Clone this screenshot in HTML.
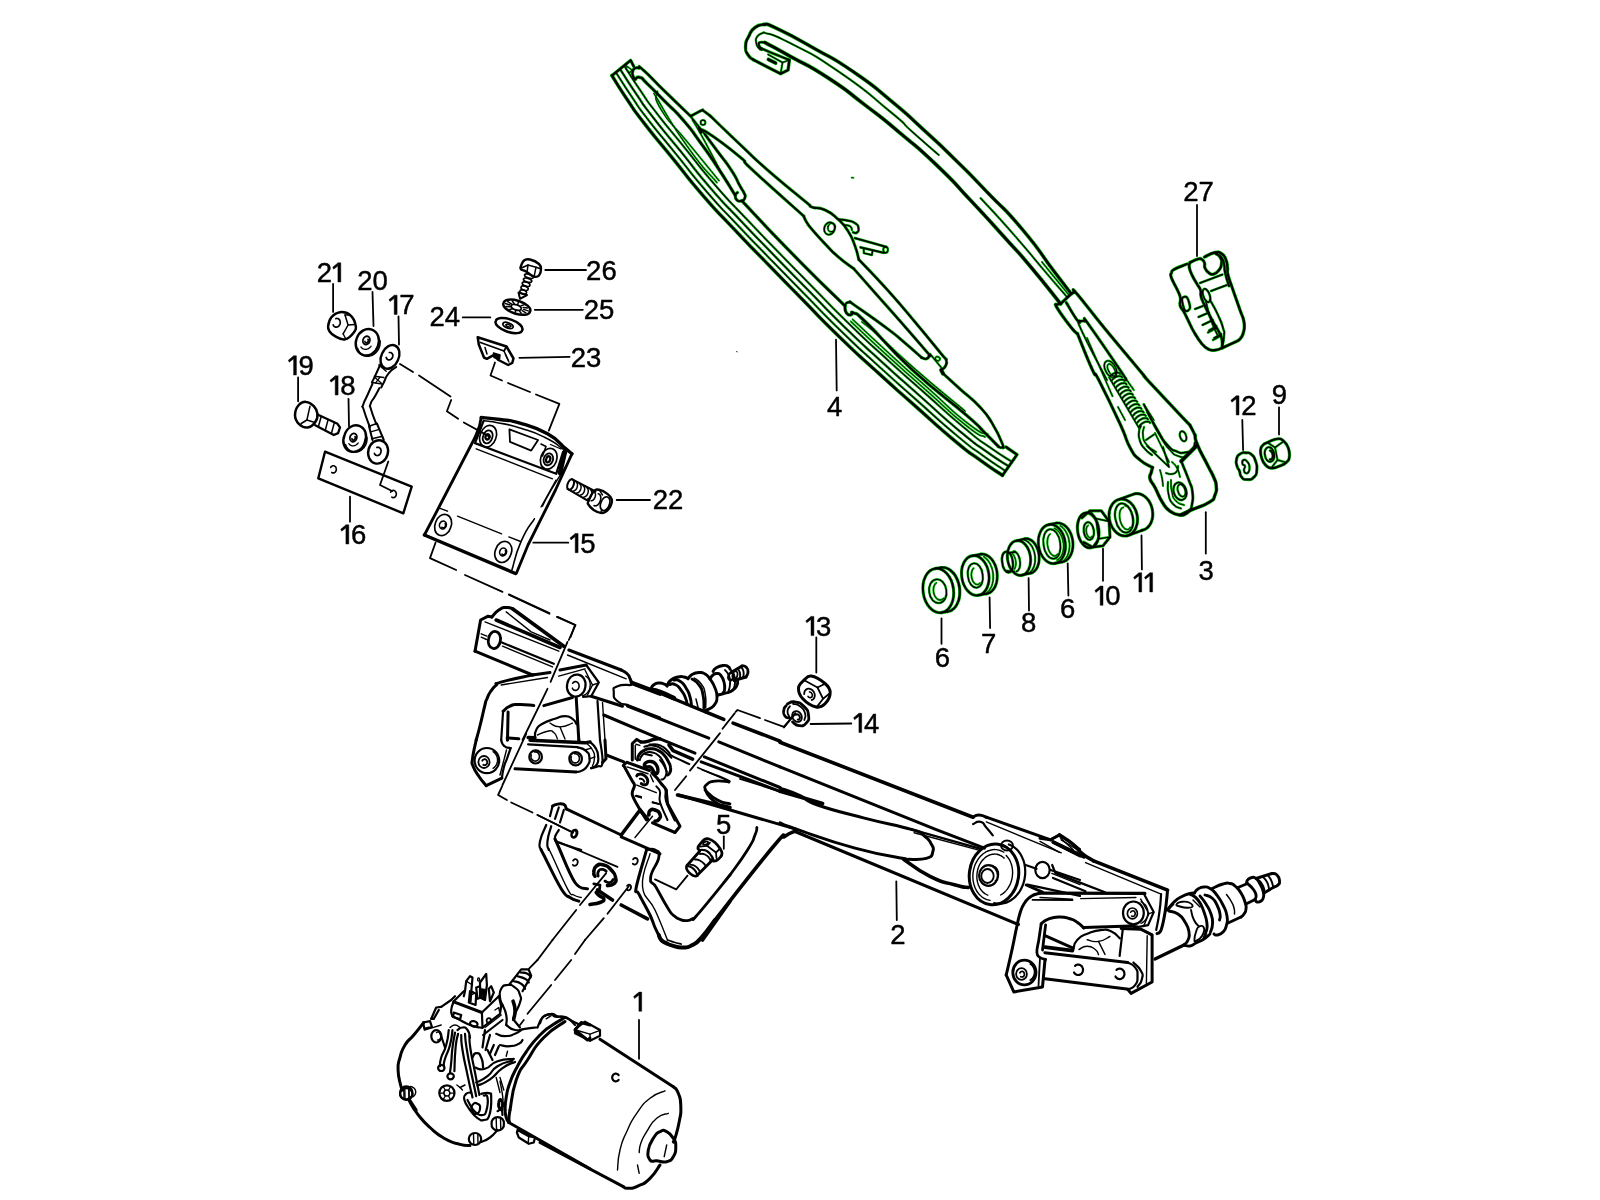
<!DOCTYPE html>
<html><head><meta charset="utf-8"><title>Wiper system</title>
<style>html,body{margin:0;padding:0;background:#fff}svg{display:block}text{font-family:"Liberation Sans",sans-serif;fill:#000}</style>
</head><body>
<svg width="1600" height="1200" viewBox="0 0 1600 1200">
<defs><filter id="noop" x="0" y="0" width="1600" height="1200" filterUnits="userSpaceOnUse"><feOffset dx="0" dy="0"/></filter></defs>
<rect width="1600" height="1200" fill="#fff"/>
<g stroke="#10c010" stroke-linecap="round" stroke-linejoin="round">
<path d="M611.9 75.6 C617.1 83.7 616.8 84.2 627.5 100 C638.2 115.8 629.2 103.8 644 123 C658.8 142.2 652.5 133.5 672 157.5 C691.5 181.5 682.2 171.5 702.5 195 C722.8 218.5 712.6 206.3 733 228 C753.4 249.7 741.4 237 763.8 260 C786.1 283 775.4 272 800 297 C824.6 322 812.5 310.7 837.5 335 C862.5 359.3 849.8 347 875 370 C900.2 393 886.7 380.7 913 404 C939.3 427.3 931.5 421.3 953.8 440 C976.1 458.7 963.8 448.2 980 460 C996.2 471.8 995 470.3 1002.5 475.4" fill="none" stroke-width="3.7"/>
<path d="M611.9 75.6 L630.6 60.3 L633.8 66.5" fill="none" stroke-width="3.4"/>
<path d="M1002.5 475.4 L1017 454.6 L1006 447" fill="none" stroke-width="3.4"/>
<path d="M615.9 72.3 C621.3 80.5 621.1 81.2 631.9 97 C642.6 112.9 633.4 100.7 648.2 119.8 C662.9 138.8 656.7 130.2 676.1 154.2 C695.6 178.1 686.3 168.1 706.5 191.5 C726.8 214.9 716.5 202.8 736.9 224.4 C757.2 246 745.2 233.3 767.6 256.3 C789.9 279.3 779.2 268.3 803.8 293.3 C828.3 318.2 816.3 306.9 841.2 331.2 C866.1 355.5 853.5 343.1 878.6 366.1 C903.7 389 890.3 376.8 916.5 400 C942.7 423.3 935 417.4 957.2 435.9 C979.4 454.5 967 444.1 983.1 455.7 C999.3 467.4 998.1 465.8 1005.6 470.9" fill="none" stroke-width="2.4"/>
<path d="M620 69 C625.4 77.3 625.5 78.2 636.3 94.1 C647.1 109.9 637.7 97.6 652.4 116.5 C667 135.4 660.8 127 680.2 150.8 C699.6 174.7 690.4 164.8 710.5 188.1 C730.7 211.4 720.4 199.2 740.7 220.7 C761 242.2 749.1 229.7 771.4 252.6 C793.6 275.6 783 264.6 807.6 289.6 C832.1 314.5 820 303.2 844.9 327.4 C869.8 351.6 857.1 339.3 882.2 362.2 C907.2 385.1 893.9 372.8 920 396.1 C946.2 419.3 938.5 413.4 960.6 431.9 C982.7 450.3 970.2 439.9 986.2 451.4 C1002.3 462.9 1001.3 461.4 1008.8 466.4" fill="none" stroke-width="2.6"/>
<path d="M624.1 65.6 C629.7 74.1 629.9 75.2 640.7 91 C651.6 106.9 642.1 94.4 656.7 113.2 C671.2 132 665.1 123.6 684.4 147.4 C703.7 171.2 694.5 161.3 714.6 184.5 C734.7 207.7 724.4 195.6 744.6 217 C764.9 238.5 753 225.9 775.2 248.9 C797.5 271.8 786.9 260.9 811.4 285.8 C835.9 310.7 823.9 299.4 848.7 323.5 C873.5 347.7 860.8 335.4 885.8 358.2 C910.8 381 897.5 368.9 923.6 392 C949.7 415.2 942.1 409.4 964.1 427.7 C986 446.1 973.4 435.7 989.4 447.1 C1005.4 458.4 1004.4 456.9 1012 461.8" fill="none" stroke-width="2.4"/>
<path d="M742 201 C759 218.8 758.7 219.5 793 254.5 C827.3 289.5 827.7 288.8 845 306" fill="none" stroke-width="3.5"/>
<path d="M654 93.5 C664.9 110.8 665.8 115.8 686.7 145.5 C707.7 175.2 706.8 170.2 716.9 182.6" fill="none" stroke-width="2.1"/>
<path d="M850.8 321.4 C863.1 332.9 862.9 333.2 887.8 356 C912.8 378.8 899.6 366.6 925.6 389.8 C951.7 412.9 946.2 409.7 966 425.4 C985.8 441.2 978.7 433.1 985 437" fill="none" stroke-width="2.1"/>
<path d="M657.4 91.3 C658.7 97.4 650.7 92.2 661.2 109.7 C671.8 127.2 669.7 120.1 688.9 143.8 C708.2 167.4 709 168.4 719 180.7" fill="none" stroke-width="2.1"/>
<path d="M852.7 319.4 C865 330.9 864.8 331.1 889.7 353.9 C914.6 376.7 901.5 364.6 927.5 387.7 C953.5 410.8 947.7 407.8 967.8 423.3 C987.9 438.8 981.1 430.6 987.8 434.2" fill="none" stroke-width="2.1"/>
<path d="M626.5 66 L632 70 L629.5 73 L626 69Z" fill="none" stroke-width="2.1"/>
<path d="M635 79.4 C636.7 78.8 635.8 76 640 77.5 C644.2 79 639.2 76 647.5 84 C655.8 92 653.1 89.5 665 101.5 C676.9 113.5 671.4 106.5 683.1 120 C694.8 133.5 688.4 126 700 142 C711.6 158 706.3 150.3 718 168 C729.7 185.7 729.3 186 735 195" fill="none" stroke-width="3.5"/>
<path d="M635 79.4 C634.3 78.3 633.8 78.5 633 76 C632.2 73.5 632.1 74.5 632.6 72 C633.1 69.5 632.5 69.9 634.5 68.6 C636.5 67.3 635.7 67.5 638.8 68.1 C641.8 68.7 635 62.7 643.8 70.5 C652.5 78.3 649.6 76.5 665 91.5 C680.4 106.5 681.7 107.6 690 115.6" fill="none" stroke-width="3.3"/>
<path d="M692.5 120 C695.3 124.8 694.5 122.8 701 134.5 C707.5 146.2 704.4 140.7 712 155 C719.6 169.3 719.8 170 723.8 177.5" fill="none" stroke-width="2.2"/>
<path d="M690 115.6 L705 134.4" fill="none" stroke-width="2.7"/>
<path d="M705 134.4 C709.3 140.3 709.2 140.1 718 152 C726.8 163.9 723.9 158.7 731.2 170 C738.6 181.3 735.8 178.5 740 186 C744.2 193.5 742.1 188.7 743.8 192.5 C745.4 196.3 745.8 194.7 745 197.5 C744.2 200.3 744 200 741.2 200.8 C738.5 201.6 738.9 201.8 736.9 200 C734.9 198.2 735.2 198 735.4 195.5 C735.6 193 736.8 193.5 737.5 192.5" fill="none" stroke-width="3.3"/>
<path d="M691 116 C693.1 114.9 699 111.5 701.5 110.5 C704 109.5 701.7 109.7 703.5 110.8 C705.3 111.9 709.2 115.1 710.6 116.2" fill="none" stroke-width="3.2"/>
<path d="M700.6 122.5 A2.4 2.4 0 1 0 705.4 122.5 A2.4 2.4 0 1 0 700.6 122.5 Z" fill="none" stroke-width="2.3"/>
<path d="M710.6 116.2 C718.4 123.7 724.8 130.1 740 144.4 C755.2 158.7 748.8 153.7 767.5 170 C786.2 186.3 798.7 196 810 205.5" fill="none" stroke-width="3.2"/>
<path d="M810 205.5 C810.9 206.1 808.5 206.2 813 207.5 C817.5 208.8 817.6 206.6 825 210 C832.4 213.4 830.6 212.4 837.5 218.8 C844.4 225.1 842.8 222.8 848 231 C853.2 239.2 851.8 237.4 855 246 C858.2 254.6 857.6 255.4 858.8 259.5" fill="none" stroke-width="3.2"/>
<path d="M838.8 219.4 C841.7 219.8 842.1 219.4 847.5 220.6 C852.9 221.8 851.3 220.6 855 223.1 C858.7 225.6 857.9 225 858.5 228.1 C859.1 231.2 858.7 231.1 856.9 232.5 C855.1 233.9 854.4 232.4 853.1 232.3" fill="none" stroke-width="2.9"/>
<path d="M843.8 225 C845.8 225.4 847.3 224.6 850 226.2 C852.7 227.9 851.3 228.8 851.9 230" fill="none" stroke-width="2.5"/>
<path d="M855 238.1 L886.2 246.9" fill="none" stroke-width="2.9"/>
<path d="M884 252.8 L860.5 247.3" fill="none" stroke-width="2.9"/>
<path d="M883.3 249.8 A2.3 3 0 1 0 887.9 249.8 A2.3 3 0 1 0 883.3 249.8 Z" fill="none" stroke-width="2.4"/>
<path d="M863.8 248.5 L863.8 253.1 L871.9 255 L872.5 251" fill="none" stroke-width="2.5"/>
<path d="M858.8 259.5 C866.4 267.6 872.5 273.3 887.5 290 C902.5 306.7 900.7 305 915 322 C929.3 339 932.9 343.6 941.2 353.8 C949.6 363.9 945.1 356.7 946.2 360 C947.4 363.3 946.8 363.3 945.5 366 C944.2 368.7 942.4 368.9 941.2 370" fill="none" stroke-width="3.2"/>
<path d="M699 128 C699.5 129.2 699.1 131.5 701 132.5 C702.9 133.5 695.9 125.4 706.2 131.9 C716.6 138.4 727.7 146.8 740 157 C752.3 167.2 735.5 154.2 752.5 170 C769.5 185.8 790.1 203.9 803.8 216.2" fill="none" stroke-width="3.2"/>
<path d="M803.8 216.2 C804.6 218 803.9 217.9 806.5 222 C809.1 226.1 807 223.5 812.5 230 C818 236.5 817.5 235.9 825 243.8 C832.5 251.6 828.9 248.8 837.5 256.2 C846.1 263.8 848.9 265 853.8 268.8" fill="none" stroke-width="3.2"/>
<path d="M853.8 268.8 C858.8 274.4 860.2 276.1 872.5 290 C884.8 303.9 885.7 304.7 900 321 C914.3 337.3 918.5 342.2 926.2 351.2 C934 360.3 928.9 353 929 355 C929.1 357 928.5 358.1 926.5 358.8 C924.5 359.4 922.8 357.8 921.5 357.5" fill="none" stroke-width="3.2"/>
<path d="M930 353.8 L941.2 367.5" fill="none" stroke-width="2.3"/>
<path d="M935.5 357.5 A2.4 2 30 1 0 939.7 359.9 A2.4 2 30 1 0 935.5 357.5 Z" fill="none" stroke-width="2.2"/>
<path d="M941.2 370 L943 373.5" fill="none" stroke-width="4.4"/>
<path d="M845 306 C845.4 305.2 845 303.9 846.5 303 C848 302.1 848.2 301.8 850.5 302.5 C852.8 303.2 845.1 298.5 855 305.5 C864.9 312.5 874.2 318.8 887.5 328.8 C900.8 338.8 895.9 335.3 905 343 C914.1 350.7 917.1 353.6 921.5 357.5" fill="none" stroke-width="3.2"/>
<path d="M845 306 C845.1 307.3 844.7 308.7 845.5 311 C846.3 313.3 846.4 313.6 848 314.5 C849.6 315.4 850 314.9 851.5 314.5 C853 314.1 849.5 310.5 853.8 313 C858 315.5 851.8 308.6 867.5 323.8 C883.2 338.9 886.2 345.7 912.5 370 C938.8 394.3 946.9 398.2 966.2 415 C985.6 431.8 976.5 424.6 985 433 C993.5 441.4 994.8 442.9 998.3 446.5" fill="none" stroke-width="3.5"/>
<path d="M862 322 C868 327 862.3 321.3 880 337 C897.7 352.7 886.7 344.3 915 369 C943.3 393.7 948.3 397 965 411" fill="none" stroke-width="2.2"/>
<path d="M943 373.5 C947.5 377.6 950.2 380.1 960 389 C969.8 397.9 971.1 397.6 979.6 406.7 C988.1 415.8 985.9 413.1 992 423 C998.1 432.9 1000 437.5 1002.5 444 C1005 450.5 1002.6 446.8 1001.5 447.5 C1000.4 448.2 999.2 446.8 998.3 446.5" fill="none" stroke-width="3.2"/>
<path d="M824.6 226.7 A5.2 6.2 20 1 0 834.4 230.3 A5.2 6.2 20 1 0 824.6 226.7 Z" fill="none" stroke-width="2.5"/>
<path d="M828.1 226.3 A3.6 4.4 20 1 0 834.9 228.7 A3.6 4.4 20 1 0 828.1 226.3 Z" fill="none" stroke-width="2.2"/>
<path d="M851.6 177.6 L853.4 177.8" fill="none" stroke-width="1.9"/>
<path d="M763.8 24.4 C768.3 25.8 760.4 20.6 777.5 28.8 C794.6 36.9 790 34.6 815 48.8 C840 62.9 827.5 54.2 852.5 71.2 C877.5 88.3 866.2 80.4 890 100 C913.8 119.6 902.1 110.2 923.8 130 C945.4 149.8 933.8 138.7 955 159.5 C976.2 180.3 965.2 169.3 987.5 192.5 C1009.8 215.7 999.9 202.8 1022 229 C1044.1 255.2 1037.3 249.4 1053.8 271 C1070.2 292.6 1065.4 286.2 1071.2 293.8" fill="none" stroke-width="3.8"/>
<path d="M765 42.5 C773.3 47.1 769.2 44.6 790 56.2 C810.8 67.9 802.5 61.2 827.5 77.5 C852.5 93.8 840.8 86.5 865 105 C889.2 123.5 876 112.8 900 133 C924 153.2 913.2 142.8 937 165.5 C960.8 188.2 948.2 176.5 971.2 201 C994.2 225.5 986.4 217.3 1006 239 C1025.6 260.7 1011.8 244.4 1030 266 C1048.2 287.6 1050.4 291.2 1060.6 303.8" fill="none" stroke-width="4"/>
<path d="M763.8 32.5 C772.5 36 764.6 29.8 790 43.1 C815.4 56.4 806.7 49.7 840 72.5 C873.3 95.3 865.8 91.7 890 111.5 C914.2 131.3 896.2 117.5 912.5 132 C928.8 146.5 930 147.3 938.8 155" fill="none" stroke-width="2.3"/>
<path d="M980.6 198.1 C992.1 210.7 994 212 1015 236 C1036 260 1026.5 249.7 1043.8 270 C1061 290.3 1059.2 287.9 1066.9 296.9" fill="none" stroke-width="2.3"/>
<path d="M1042 262 C1046.3 267.3 1046.2 267.2 1055 278 C1063.8 288.8 1064 289 1068.5 294.5" fill="none" stroke-width="2.2"/>
<path d="M763.8 24.4 C760.8 25.4 760 23.6 755 27.5 C750 31.4 751.9 30 748.8 36.2 C745.6 42.5 745.8 40 745.6 46.2 C745.4 52.5 745.4 50.4 748.1 55 C750.8 59.6 751.9 58.3 753.8 60" fill="none" stroke-width="3.5"/>
<path d="M753.8 60 L780.6 73.8 L788.1 70 L789.4 60" fill="none" stroke-width="3.5"/>
<path d="M780.6 73.8 L782.5 62.5" fill="none" stroke-width="2.3"/>
<path d="M768.1 54.4 L782.5 62.5 L789.4 60" fill="none" stroke-width="2.3"/>
<path d="M763.8 32.5 C761.7 33.8 760 32.9 757.5 36.2 C755 39.6 755.8 38.5 756.2 42.5 C756.7 46.5 756.9 45.6 758.8 48.1 C760.6 50.6 760.9 49.4 761.9 50" fill="none" stroke-width="2.4"/>
<path d="M765 42.5 C763.9 42.5 760.6 41.7 759.5 42.5 C758.4 43.3 758.4 45 759.5 46.5 C760.6 48 759 47.3 765 50 C771 52.7 784.5 58 789.4 60" fill="none" stroke-width="3.1"/>
<path d="M768.5 59.5 L775.5 63" fill="none" stroke-width="4.1"/>
<path d="M1071.2 293.8 L1060.6 303.8" fill="none" stroke-width="3.5"/>
<path d="M1071.2 293.8 C1071.9 293.5 1072.7 292.5 1074 292.5 C1075.3 292.5 1069.7 285.3 1076.9 293.8 C1084.1 302.2 1089.7 310.1 1105 328.8 C1120.3 347.4 1132.6 361.8 1142.5 373.8 C1152.4 385.7 1137.6 369.2 1147.5 380 C1157.4 390.8 1175.1 409.4 1185 420 C1194.9 430.6 1187.7 422 1190 425.5 C1192.3 429 1193.8 432.8 1195 435" fill="none" stroke-width="3.5"/>
<path d="M1060.6 303.8 C1059.9 303.9 1058.4 303.6 1057.5 304.5 C1056.6 305.4 1053.7 302.1 1056.9 307.5 C1060.1 312.9 1066.4 321.4 1071.2 327.5 C1076.1 333.6 1076 332.3 1077.5 333.8" fill="none" stroke-width="3.5"/>
<path d="M1077.5 333.8 C1081.5 343.4 1086.8 357.7 1092.5 370 C1098.2 382.3 1091.4 365.7 1098.8 380 C1106.1 394.3 1111.7 405.8 1120 423.8 C1128.3 441.8 1124.7 437.8 1130 447.5 C1135.3 457.2 1134 454.7 1140 460 C1146 465.3 1149.2 465.5 1152.5 467.5" fill="none" stroke-width="3.5"/>
<path d="M1066.2 302.5 C1068.9 306.8 1072.6 313.8 1076.2 318.8 C1079.9 323.7 1077.7 320.3 1080 321 C1082.3 321.7 1082.6 320.2 1085 321.2 C1087.4 322.3 1079.7 312 1089 325 C1098.3 338 1110.1 355.3 1120 370 C1129.9 384.7 1124.4 377.3 1126 380" fill="none" stroke-width="3.3"/>
<path d="M1080 322.5 C1080.8 325.8 1073.5 313.3 1082.5 332.5 C1091.5 351.7 1098.8 364.2 1107 380" fill="none" stroke-width="2.4"/>
<path d="M1087 338 L1112.5 396.2" fill="none" stroke-width="2.2"/>
<path d="M1118 407 L1125 420" fill="none" stroke-width="2.2"/>
<path d="M1125 377.5 L1133.8 390" fill="none" stroke-width="2.2"/>
<path d="M1143.8 404.4 L1153.8 420" fill="none" stroke-width="2.2"/>
<path d="M1105.9 371.4 A5.2 8.3 -28 1 0 1115.1 366.6 A5.2 8.3 -28 1 0 1105.9 371.4 Z" fill="none" stroke-width="2.4"/>
<path d="M1108.9 371.4 A3 5.6 -28 1 0 1114.1 368.6 A3 5.6 -28 1 0 1108.9 371.4 Z" fill="none" stroke-width="2.2"/>
<path d="M1109.3 377.2 C1110.5 376.1 1110.2 375.3 1113 373.8 C1115.8 372.3 1115.3 372.6 1117.7 372.6 C1120.1 372.6 1119.3 373.4 1120.1 373.8" fill="none" stroke-width="2.6"/>
<path d="M1111.4 380.7 C1112.7 379.6 1112.3 378.8 1115.1 377.3 C1117.9 375.8 1117.5 376.1 1119.8 376.1 C1122.2 376.1 1121.4 376.9 1122.2 377.3" fill="none" stroke-width="2.6"/>
<path d="M1113.6 384.2 C1114.8 383.1 1114.5 382.3 1117.3 380.8 C1120.1 379.3 1119.6 379.6 1122 379.6 C1124.4 379.6 1123.6 380.4 1124.4 380.8" fill="none" stroke-width="2.6"/>
<path d="M1115.7 387.7 C1117 386.6 1116.6 385.8 1119.4 384.3 C1122.2 382.8 1121.8 383.1 1124.1 383.1 C1126.5 383.1 1125.7 383.9 1126.5 384.3" fill="none" stroke-width="2.6"/>
<path d="M1117.9 391.2 C1119.1 390.1 1118.8 389.3 1121.6 387.8 C1124.4 386.3 1123.9 386.6 1126.3 386.6 C1128.6 386.6 1127.9 387.4 1128.7 387.8" fill="none" stroke-width="2.6"/>
<path d="M1120 394.7 C1121.2 393.6 1120.9 392.8 1123.7 391.3 C1126.5 389.8 1126 390.1 1128.4 390.1 C1130.8 390.1 1130 390.9 1130.8 391.3" fill="none" stroke-width="2.6"/>
<path d="M1122.2 398.2 C1123.4 397.1 1123.1 396.3 1125.9 394.8 C1128.7 393.3 1128.2 393.6 1130.6 393.6 C1132.9 393.6 1132.2 394.4 1133 394.8" fill="none" stroke-width="2.6"/>
<path d="M1124.3 401.7 C1125.5 400.6 1125.2 399.8 1128 398.3 C1130.8 396.8 1130.3 397.1 1132.7 397.1 C1135.1 397.1 1134.3 397.9 1135.1 398.3" fill="none" stroke-width="2.6"/>
<path d="M1126.4 405.2 C1127.7 404.1 1127.3 403.3 1130.1 401.8 C1132.9 400.3 1132.5 400.6 1134.8 400.6 C1137.2 400.6 1136.4 401.4 1137.2 401.8" fill="none" stroke-width="2.6"/>
<path d="M1128.6 408.7 C1129.8 407.6 1129.5 406.8 1132.3 405.3 C1135.1 403.8 1134.6 404.1 1137 404.1 C1139.4 404.1 1138.6 404.9 1139.4 405.3" fill="none" stroke-width="2.6"/>
<path d="M1130.7 412.2 C1132 411.1 1131.6 410.3 1134.4 408.8 C1137.2 407.3 1136.8 407.6 1139.1 407.6 C1141.5 407.6 1140.7 408.4 1141.5 408.8" fill="none" stroke-width="2.6"/>
<path d="M1132.9 415.7 C1134.1 414.6 1133.8 413.8 1136.6 412.3 C1139.4 410.8 1138.9 411.1 1141.3 411.1 C1143.6 411.1 1142.9 411.9 1143.7 412.3" fill="none" stroke-width="2.6"/>
<path d="M1135 419.2 C1136.2 418.1 1135.9 417.3 1138.7 415.8 C1141.5 414.3 1141 414.6 1143.4 414.6 C1145.8 414.6 1145 415.4 1145.8 415.8" fill="none" stroke-width="2.6"/>
<path d="M1137.2 422.7 C1138.4 421.6 1138.1 420.8 1140.9 419.3 C1143.7 417.8 1143.2 418.1 1145.6 418.1 C1147.9 418.1 1147.2 418.9 1148 419.3" fill="none" stroke-width="2.6"/>
<path d="M1139.3 426.2 C1140.5 425.1 1140.2 424.3 1143 422.8 C1145.8 421.3 1145.3 421.6 1147.7 421.6 C1150.1 421.6 1149.3 422.4 1150.1 422.8" fill="none" stroke-width="2.6"/>
<path d="M1109.5 378 L1139 428" fill="none" stroke-width="2.4"/>
<path d="M1195 435 C1195.8 438 1193.8 436 1197.5 445 C1201.2 454 1202.6 455.2 1207.5 465 C1212.4 474.8 1211.1 471.1 1213.8 477.5 C1216.4 483.9 1215.9 481 1216.2 486.2 C1216.6 491.5 1217.2 490.1 1215 495 C1212.8 499.9 1215.9 498 1208.8 502.5 C1201.6 507 1199.9 506.2 1191.2 510 C1182.6 513.8 1183.4 513.5 1180 515" fill="none" stroke-width="3.7"/>
<path d="M1152.5 467.5 C1152.2 468.8 1151.9 469.5 1151.2 472.5 C1150.6 475.5 1149 474.8 1150 478.8 C1151 482.8 1151.7 481.2 1155 487.5 C1158.3 493.8 1158.5 496.2 1162.5 502.5 C1166.5 508.8 1165.3 507.9 1170 511.2 C1174.7 514.6 1175.7 514.4 1180 515 C1184.3 515.6 1183.3 514.8 1186 513.5 C1188.7 512.2 1188.9 510.9 1190 510" fill="none" stroke-width="3.7"/>
<path d="M1181.2 461.2 C1183.8 467.5 1185 469.6 1188.8 480 C1192.5 490.4 1191.5 484.2 1192.5 492.5 C1193.5 500.8 1192.7 499.2 1191.9 505 C1191.1 510.8 1190.6 508.3 1190 510" fill="none" stroke-width="3.1"/>
<path d="M1196.2 446.2 L1181.2 461.2" fill="none" stroke-width="4.5"/>
<path d="M1143.8 404.4 C1148.3 412.9 1149.6 416.5 1157.5 430 C1165.4 443.5 1161.2 437.9 1167.5 445 C1173.8 452.1 1170.4 448.8 1176.2 451.2 C1182.1 453.8 1179.6 453.3 1185 452.5 C1190.4 451.7 1189.2 452.1 1192.5 448.8 C1195.8 445.4 1194.2 444.6 1195 442.5" fill="none" stroke-width="2.9"/>
<path d="M1147 412 C1151.3 420 1152.3 423.3 1160 436 C1167.7 448.7 1164 443.3 1170 450 C1176 456.7 1172.7 453.7 1178 456 C1183.3 458.3 1183.3 456.7 1186 457" fill="none" stroke-width="2.3"/>
<path d="M1180.3 437.3 A3 4.8 -20 1 0 1185.9 435.2 A3 4.8 -20 1 0 1180.3 437.3 Z" fill="none" stroke-width="2.5"/>
<path d="M1141 426 C1140.3 428 1139.3 427 1139 432 C1138.7 437 1138 435.3 1140 441 C1142 446.7 1141 444.3 1145 449 C1149 453.7 1149.7 453 1152 455" fill="none" stroke-width="2.5"/>
<path d="M1144 427 C1143.7 430 1142 430 1143 436 C1144 442 1142.7 439.7 1147 445 C1151.3 450.3 1153 449.7 1156 452" fill="none" stroke-width="2.3"/>
<path d="M1146 440 L1154 434.5" fill="none" stroke-width="2.5"/>
<path d="M1147 446 L1169 467 L1163 447" fill="none" stroke-width="2.4"/>
<path d="M1155 433 L1169 462" fill="none" stroke-width="2.2"/>
<path d="M1174 493.2 A6.3 9 -18 1 0 1186 489.3 A6.3 9 -18 1 0 1174 493.2 Z" fill="none" stroke-width="2.7"/>
<path d="M1178.1 491.6 A3.6 5.6 -18 1 0 1184.9 489.4 A3.6 5.6 -18 1 0 1178.1 491.6 Z" fill="none" stroke-width="2.4"/>
<path d="M1168 482 C1168.2 486 1166.8 486.7 1168.5 494 C1170.2 501.3 1168.8 499.2 1173 504 C1177.2 508.8 1178.3 507 1181 508.5" fill="none" stroke-width="2.4"/>
<path d="M1171 480 C1171.3 484 1170.3 485 1172 492 C1173.7 499 1172 496.7 1176 501 C1180 505.3 1181.3 503.7 1184 505" fill="none" stroke-width="2.2"/>
<path d="M1166 473 C1168 473.3 1168.3 474.7 1172 474 C1175.7 473.3 1175 473.7 1177 471 C1179 468.3 1177.7 467.7 1178 466" fill="none" stroke-width="2.4"/>
<path d="M1160 470 C1160.7 472.7 1161 472.7 1162 478 C1163 483.3 1162.7 483.3 1163 486" fill="none" stroke-width="2.2"/>
<path d="M1172 462 C1173.7 464 1174.3 463 1177 468 C1179.7 473 1179 474 1180 477" fill="none" stroke-width="2.2"/>
<path d="M923.2 592.7 A15.2 22.2 -8 1 0 953.4 588.5 A15.2 22.2 -8 1 0 923.2 592.7 Z" fill="none" stroke-width="3.2"/>
<path d="M941.4 567.6 C942.1 567.6 942.1 567.5 943.4 567.5 C944.7 567.6 944.1 567.5 945.4 567.8 C946.7 568.1 946.1 567.9 947.4 568.5 C948.7 569 948.1 568.7 949.4 569.5 C950.6 570.3 950 569.9 951.2 570.9 C952.4 571.9 951.8 571.3 953 572.6 C954.1 573.8 953.6 573.1 954.6 574.5 C955.6 575.9 955.1 575.2 956 576.8 C956.9 578.3 956.5 577.5 957.2 579.2 C958 580.9 957.6 580.1 958.2 581.9 C958.8 583.7 958.6 582.8 959 584.6 C959.5 586.5 959.3 585.6 959.6 587.5 C959.8 589.4 959.7 588.5 959.8 590.4 C959.9 592.3 959.9 591.4 959.8 593.2 C959.8 595.1 959.8 594.2 959.6 596.1 C959.3 597.9 959.5 597 959.1 598.8 C958.7 600.5 958.9 599.7 958.3 601.3 C957.7 602.9 958.1 602.2 957.3 603.6 C956.6 605.1 957 604.4 956.1 605.8 C955.2 607.1 955.7 606.5 954.7 607.6 C953.7 608.7 954.2 608.2 953.1 609.1 C952 610 952.6 609.6 951.4 610.3 C950.2 611 950.8 610.7 949.5 611.1 C948.3 611.6 948.2 611.4 947.6 611.6" fill="none" stroke-width="3.2"/>
<path d="M935.2 568.6 L941.4 567.6" fill="none" stroke-width="3.2"/>
<path d="M941.4 612.6 L947.6 611.6" fill="none" stroke-width="3.2"/>
<path d="M929.3 592.4 A8.6 11.2 -8 1 0 946.3 590 A8.6 11.2 -8 1 0 929.3 592.4 Z" fill="none" stroke-width="2.5"/>
<path d="M943.6 598.3 C943.3 598.5 943.4 598.6 942.9 598.9 C942.4 599.3 942.7 599.2 942.2 599.4 C941.7 599.7 941.9 599.6 941.4 599.8 C940.9 599.9 941.1 599.9 940.6 599.9 C940 600 940.3 600 939.7 599.9 C939.2 599.9 939.5 599.9 938.9 599.8 C938.4 599.6 938.6 599.7 938.1 599.4 C937.5 599.1 937.8 599.3 937.3 598.9 C936.8 598.5 937 598.7 936.5 598.3 C936 597.8 936.3 598 935.8 597.5 C935.4 596.9 935.6 597.2 935.2 596.5 C934.8 595.9 935 596.2 934.6 595.5 C934.3 594.8 934.5 595.2 934.2 594.4 C933.9 593.7 934 594 933.8 593.2 C933.6 592.4 933.7 592.8 933.6 592 C933.5 591.2 933.5 591.6 933.5 590.8 C933.4 590 933.4 590.4 933.4 589.6 C933.5 588.8 933.4 589.1 933.5 588.4 C933.6 587.6 933.6 588 933.7 587.2 C933.9 586.5 933.8 586.8 934.1 586.1 C934.3 585.4 934.2 585.8 934.5 585.1 C934.8 584.5 934.6 584.8 935 584.3 C935.4 583.7 935.2 584 935.6 583.5 C936 583.1 936.1 583.1 936.3 582.9" fill="none" stroke-width="2.2"/>
<path d="M948.9 569.9 C949.3 570.2 949.3 570.2 950.2 570.9 C951.1 571.6 950.7 571.2 951.5 572 C952.3 572.8 951.9 572.4 952.7 573.3 C953.5 574.2 953.2 573.7 953.9 574.7 C954.6 575.7 954.3 575.2 955 576.3 C955.6 577.4 955.3 576.8 955.9 578 C956.5 579.1 956.2 578.5 956.8 579.8 C957.3 581 957.1 580.4 957.5 581.7 C958 583 957.8 582.3 958.2 583.6 C958.5 585 958.4 584.3 958.7 585.7 C958.9 587 958.8 586.3 959 587.7 C959.2 589.1 959.2 588.4 959.3 589.8 C959.4 591.2 959.3 590.5 959.4 591.9 C959.4 593.3 959.4 592.6 959.3 594 C959.3 595.3 959.3 594.7 959.1 596 C959 597.3 959.1 596.7 958.8 598 C958.6 599.3 958.7 598.6 958.4 599.9 C958.1 601.1 958.2 600.5 957.8 601.7 C957.4 602.9 957.6 602.3 957.1 603.4 C956.6 604.5 956.9 604 956.3 605 C955.7 606 956 605.6 955.4 606.5 C954.7 607.4 955.1 607 954.4 607.8 C953.7 608.6 954 608.2 953.3 608.9 C952.5 609.7 952.5 609.6 952.1 609.9" fill="none" stroke-width="2.2"/>
<path d="M961.8 577.4 A13.6 20 -8 1 0 988.8 573.6 A13.6 20 -8 1 0 961.8 577.4 Z" fill="none" stroke-width="3.2"/>
<path d="M980.7 554.2 C981.3 554.2 981.3 554.1 982.5 554.1 C983.7 554.2 983.1 554.1 984.3 554.4 C985.5 554.7 984.9 554.5 986.1 555 C987.3 555.5 986.7 555.2 987.8 555.9 C989 556.6 988.4 556.2 989.5 557.1 C990.6 558.1 990.1 557.6 991.1 558.7 C992.1 559.8 991.6 559.2 992.5 560.4 C993.4 561.7 993 561 993.8 562.5 C994.6 563.9 994.2 563.1 994.9 564.7 C995.5 566.2 995.3 565.4 995.8 567 C996.3 568.7 996.1 567.9 996.5 569.5 C996.9 571.2 996.7 570.4 997 572.1 C997.2 573.8 997.1 573 997.2 574.7 C997.3 576.4 997.3 575.6 997.2 577.3 C997.2 579 997.2 578.2 997 579.8 C996.8 581.5 996.9 580.7 996.6 582.3 C996.2 583.8 996.4 583.1 995.9 584.6 C995.4 586 995.6 585.3 995 586.7 C994.3 588 994.7 587.4 993.9 588.6 C993.1 589.7 993.5 589.2 992.6 590.2 C991.8 591.2 992.2 590.8 991.2 591.6 C990.2 592.4 990.7 592 989.7 592.6 C988.6 593.2 989.1 593 988 593.4 C986.9 593.8 986.9 593.7 986.3 593.8" fill="none" stroke-width="3.2"/>
<path d="M972.5 555.7 L980.7 554.2" fill="none" stroke-width="3.2"/>
<path d="M978.1 595.3 L986.3 593.8" fill="none" stroke-width="3.2"/>
<path d="M968 576.5 A7.4 11.2 -8 1 0 982.6 574.5 A7.4 11.2 -8 1 0 968 576.5 Z" fill="none" stroke-width="2.5"/>
<path d="M980 583 C979.8 583.2 979.9 583.3 979.5 583.6 C979.1 584 979.3 583.8 978.9 584.1 C978.5 584.3 978.7 584.2 978.2 584.4 C977.8 584.5 978 584.5 977.6 584.5 C977.1 584.6 977.3 584.6 976.9 584.5 C976.4 584.4 976.6 584.5 976.2 584.3 C975.7 584.2 975.9 584.3 975.5 584 C975 583.7 975.2 583.9 974.8 583.5 C974.3 583.1 974.5 583.3 974.1 582.9 C973.7 582.4 973.9 582.6 973.5 582.1 C973.2 581.5 973.3 581.8 973 581.2 C972.7 580.6 972.8 580.9 972.5 580.2 C972.2 579.5 972.4 579.9 972.1 579.2 C971.9 578.4 972 578.8 971.8 578 C971.6 577.3 971.7 577.7 971.6 576.9 C971.5 576.1 971.5 576.5 971.4 575.7 C971.4 574.9 971.4 575.3 971.4 574.5 C971.4 573.8 971.4 574.1 971.5 573.4 C971.5 572.6 971.5 573 971.6 572.3 C971.8 571.6 971.7 571.9 971.9 571.3 C972.1 570.6 972 570.9 972.2 570.3 C972.5 569.7 972.3 570 972.6 569.5 C972.9 569 972.8 569.2 973.1 568.8 C973.5 568.4 973.5 568.4 973.7 568.2" fill="none" stroke-width="2.2"/>
<path d="M983.8 556.7 C984.2 557 984.2 556.9 985 557.6 C985.8 558.2 985.4 557.9 986.2 558.6 C987 559.3 986.6 558.9 987.3 559.7 C988 560.6 987.7 560.1 988.3 561 C989 561.9 988.7 561.5 989.3 562.4 C989.9 563.4 989.6 562.9 990.2 564 C990.7 565 990.5 564.5 990.9 565.6 C991.4 566.7 991.2 566.1 991.6 567.3 C992 568.5 991.8 567.9 992.2 569.1 C992.5 570.3 992.4 569.7 992.6 570.9 C992.9 572.1 992.8 571.5 992.9 572.8 C993.1 574 993.1 573.4 993.2 574.6 C993.3 575.9 993.2 575.3 993.2 576.5 C993.3 577.8 993.3 577.2 993.2 578.4 C993.2 579.6 993.2 579 993.1 580.2 C992.9 581.4 993 580.8 992.8 582 C992.6 583.2 992.7 582.6 992.4 583.7 C992.1 584.8 992.3 584.3 991.9 585.4 C991.5 586.4 991.7 585.9 991.3 586.9 C990.8 587.9 991 587.4 990.5 588.3 C990 589.3 990.3 588.8 989.7 589.7 C989.1 590.5 989.4 590.1 988.8 590.8 C988.2 591.6 988.5 591.2 987.8 591.9 C987.1 592.5 987.1 592.5 986.7 592.8" fill="none" stroke-width="2.2"/>
<path d="M1038.6 545.9 A13.4 19.6 -8 1 0 1065.2 542.1 A13.4 19.6 -8 1 0 1038.6 545.9 Z" fill="none" stroke-width="3.2"/>
<path d="M1056.7 523.1 C1057.3 523.1 1057.3 523 1058.4 523 C1059.6 523.1 1059 523 1060.2 523.3 C1061.4 523.5 1060.8 523.4 1062 523.9 C1063.1 524.4 1062.6 524.1 1063.7 524.8 C1064.8 525.5 1064.3 525.1 1065.3 526 C1066.4 526.9 1065.9 526.4 1066.9 527.5 C1067.8 528.5 1067.4 528 1068.3 529.2 C1069.2 530.4 1068.7 529.8 1069.5 531.2 C1070.3 532.6 1070 531.9 1070.6 533.3 C1071.3 534.8 1071 534.1 1071.5 535.7 C1072 537.3 1071.8 536.5 1072.2 538.1 C1072.6 539.8 1072.4 538.9 1072.7 540.6 C1072.9 542.3 1072.8 541.5 1072.9 543.2 C1073 544.9 1073 544 1072.9 545.7 C1072.9 547.4 1072.9 546.6 1072.7 548.2 C1072.5 549.8 1072.6 549 1072.3 550.6 C1071.9 552.1 1072.1 551.4 1071.6 552.8 C1071.1 554.3 1071.4 553.6 1070.7 554.9 C1070.1 556.2 1070.4 555.6 1069.6 556.8 C1068.9 557.9 1069.3 557.4 1068.4 558.4 C1067.5 559.4 1068 558.9 1067 559.7 C1066 560.5 1066.5 560.2 1065.5 560.8 C1064.4 561.4 1065 561.1 1063.8 561.5 C1062.7 561.9 1062.7 561.8 1062.1 561.9" fill="none" stroke-width="3.2"/>
<path d="M1049.2 524.6 L1056.7 523.1" fill="none" stroke-width="3.2"/>
<path d="M1054.6 563.4 L1062.1 561.9" fill="none" stroke-width="3.2"/>
<path d="M1043.6 545.2 A8.4 14 -8 1 0 1060.2 542.8 A8.4 14 -8 1 0 1043.6 545.2 Z" fill="none" stroke-width="2.5"/>
<path d="M1057.9 553.9 C1057.6 554.2 1057.7 554.3 1057.2 554.7 C1056.8 555.2 1057 555 1056.5 555.3 C1056 555.7 1056.3 555.5 1055.7 555.7 C1055.2 555.9 1055.5 555.9 1054.9 555.9 C1054.4 556 1054.7 556 1054.1 555.9 C1053.5 555.8 1053.8 555.9 1053.2 555.6 C1052.7 555.4 1053 555.5 1052.4 555.1 C1051.8 554.8 1052.1 555 1051.6 554.5 C1051 554 1051.3 554.2 1050.8 553.6 C1050.3 553 1050.5 553.3 1050.1 552.6 C1049.6 551.8 1049.8 552.2 1049.4 551.4 C1049 550.6 1049.2 551 1048.8 550.1 C1048.4 549.2 1048.6 549.6 1048.3 548.6 C1048 547.7 1048.1 548.2 1047.9 547.1 C1047.7 546.1 1047.8 546.6 1047.6 545.6 C1047.4 544.5 1047.5 545.1 1047.4 544 C1047.3 543 1047.4 543.5 1047.3 542.4 C1047.3 541.4 1047.3 541.9 1047.4 540.9 C1047.5 539.9 1047.4 540.4 1047.6 539.5 C1047.7 538.5 1047.6 539 1047.8 538.1 C1048.1 537.2 1047.9 537.6 1048.2 536.9 C1048.5 536.1 1048.4 536.4 1048.7 535.8 C1049.1 535.1 1048.9 535.4 1049.3 534.8 C1049.7 534.3 1049.7 534.3 1050 534.1" fill="none" stroke-width="2.2"/>
<path d="M1054.4 528.3 C1054.8 528.5 1054.8 528.5 1055.5 528.9 C1056.3 529.3 1055.9 529.1 1056.7 529.6 C1057.4 530.2 1057 529.9 1057.7 530.5 C1058.4 531.2 1058.1 530.8 1058.7 531.6 C1059.4 532.4 1059.1 532 1059.7 532.8 C1060.3 533.7 1060 533.2 1060.5 534.2 C1061.1 535.1 1060.8 534.6 1061.3 535.7 C1061.8 536.7 1061.6 536.2 1062 537.2 C1062.4 538.3 1062.2 537.8 1062.6 538.9 C1062.9 540 1062.7 539.5 1063 540.6 C1063.3 541.8 1063.2 541.2 1063.3 542.4 C1063.5 543.6 1063.5 543 1063.6 544.2 C1063.7 545.4 1063.6 544.8 1063.6 546 C1063.7 547.1 1063.7 546.6 1063.6 547.7 C1063.5 548.9 1063.6 548.3 1063.4 549.4 C1063.3 550.6 1063.4 550 1063.2 551.1 C1062.9 552.2 1063.1 551.7 1062.7 552.7 C1062.4 553.7 1062.6 553.2 1062.2 554.2 C1061.8 555.1 1062 554.7 1061.6 555.5 C1061.1 556.4 1061.4 556 1060.8 556.7 C1060.3 557.5 1060.6 557.2 1060 557.8 C1059.4 558.5 1059.7 558.2 1059.1 558.7 C1058.5 559.3 1058.8 559 1058.1 559.5 C1057.4 559.9 1057.4 559.9 1057.1 560" fill="none" stroke-width="2.2"/>
<path d="M1060.3 525.8 C1060.7 526 1060.7 526 1061.5 526.6 C1062.2 527.2 1061.9 526.9 1062.6 527.6 C1063.4 528.3 1063 527.9 1063.7 528.7 C1064.4 529.5 1064.1 529.1 1064.7 530 C1065.4 530.9 1065.1 530.4 1065.7 531.4 C1066.3 532.3 1066 531.9 1066.5 532.9 C1067 533.9 1066.8 533.4 1067.3 534.5 C1067.7 535.6 1067.5 535 1067.9 536.1 C1068.3 537.3 1068.2 536.7 1068.5 537.9 C1068.8 539.1 1068.7 538.5 1068.9 539.7 C1069.2 540.9 1069.1 540.3 1069.2 541.5 C1069.4 542.7 1069.4 542.1 1069.5 543.3 C1069.6 544.6 1069.5 544 1069.5 545.2 C1069.6 546.4 1069.6 545.8 1069.5 547 C1069.4 548.2 1069.5 547.6 1069.4 548.8 C1069.2 550 1069.3 549.4 1069.1 550.5 C1068.9 551.7 1069 551.1 1068.7 552.2 C1068.4 553.3 1068.6 552.8 1068.2 553.8 C1067.8 554.9 1068 554.4 1067.6 555.4 C1067.1 556.3 1067.4 555.9 1066.9 556.8 C1066.3 557.7 1066.6 557.2 1066 558 C1065.5 558.9 1065.8 558.5 1065.1 559.2 C1064.5 559.9 1064.8 559.6 1064.2 560.2 C1063.5 560.9 1063.5 560.8 1063.1 561.1" fill="none" stroke-width="2.2"/>
<path d="M1007.6 559.6 A11.5 17.5 -8 1 0 1030.4 556.4 A11.5 17.5 -8 1 0 1007.6 559.6 Z" fill="none" stroke-width="3.2"/>
<path d="M1025.1 538.7 C1025.6 538.7 1025.6 538.6 1026.6 538.6 C1027.6 538.7 1027.1 538.6 1028.1 538.8 C1029.1 539.1 1028.6 538.9 1029.6 539.4 C1030.6 539.8 1030.1 539.6 1031.1 540.2 C1032 540.8 1031.6 540.5 1032.5 541.3 C1033.4 542.1 1033 541.6 1033.8 542.6 C1034.7 543.6 1034.3 543.1 1035.1 544.2 C1035.8 545.3 1035.5 544.7 1036.1 545.9 C1036.8 547.2 1036.5 546.5 1037.1 547.9 C1037.7 549.2 1037.4 548.5 1037.9 550 C1038.3 551.4 1038.1 550.7 1038.5 552.2 C1038.8 553.6 1038.7 552.9 1038.9 554.4 C1039.1 555.9 1039 555.2 1039.1 556.7 C1039.2 558.2 1039.2 557.4 1039.1 558.9 C1039.1 560.4 1039.1 559.7 1039 561.2 C1038.8 562.6 1038.9 561.9 1038.6 563.3 C1038.3 564.7 1038.5 564 1038 565.3 C1037.6 566.6 1037.8 566 1037.3 567.1 C1036.7 568.3 1037 567.7 1036.4 568.8 C1035.7 569.8 1036.1 569.3 1035.3 570.2 C1034.6 571.1 1034.9 570.7 1034.1 571.4 C1033.3 572.1 1033.7 571.8 1032.8 572.3 C1031.9 572.8 1032.4 572.6 1031.4 573 C1030.4 573.3 1030.4 573.2 1029.9 573.3" fill="none" stroke-width="3.2"/>
<path d="M1016.6 540.7 L1025.1 538.7" fill="none" stroke-width="3.2"/>
<path d="M1021.4 575.3 L1029.9 573.3" fill="none" stroke-width="3.2"/>
<path d="M1018.9 558 A0.1 0.1 -8 1 0 1019.1 558 A0.1 0.1 -8 1 0 1018.9 558 Z" fill="none" stroke-width="2.5"/>
<path d="M1024.1 539.8 C1024.5 540 1024.5 539.9 1025.4 540.3 C1026.2 540.6 1025.8 540.4 1026.6 540.9 C1027.4 541.4 1027 541.1 1027.8 541.7 C1028.6 542.3 1028.2 542 1029 542.7 C1029.7 543.4 1029.3 543 1030 543.9 C1030.7 544.7 1030.4 544.3 1031.1 545.2 C1031.7 546.1 1031.4 545.6 1032 546.6 C1032.6 547.7 1032.3 547.1 1032.8 548.2 C1033.3 549.3 1033.1 548.8 1033.5 549.9 C1033.9 551.1 1033.7 550.5 1034.1 551.7 C1034.4 552.9 1034.3 552.3 1034.6 553.5 C1034.8 554.8 1034.7 554.1 1034.9 555.4 C1035.1 556.7 1035 556 1035.1 557.3 C1035.2 558.6 1035.2 557.9 1035.1 559.2 C1035.1 560.4 1035.2 559.8 1035.1 561.1 C1035 562.3 1035 561.7 1034.9 562.9 C1034.7 564.1 1034.8 563.5 1034.5 564.6 C1034.2 565.8 1034.4 565.2 1034 566.3 C1033.7 567.3 1033.9 566.8 1033.4 567.8 C1033 568.8 1033.2 568.3 1032.7 569.2 C1032.2 570.1 1032.4 569.7 1031.9 570.5 C1031.3 571.3 1031.6 570.9 1030.9 571.6 C1030.3 572.3 1030.6 572 1029.9 572.6 C1029.2 573.1 1029.2 573.1 1028.8 573.3" fill="none" stroke-width="2.3"/>
<path d="M1002.3 562.7 A5.3 9.2 -8 1 0 1012.7 561.3 A5.3 9.2 -8 1 0 1002.3 562.7 Z" fill="none" stroke-width="2.9"/>
<path d="M1008.5 553 L1015 552" fill="none" stroke-width="2.9"/>
<path d="M1006.6 571 L1014 571.5" fill="none" stroke-width="2.9"/>
<path d="M1013.6 551.4 C1013.8 551.4 1013.8 551.4 1014.3 551.5 C1014.7 551.6 1014.5 551.5 1014.9 551.7 C1015.4 551.9 1015.2 551.8 1015.6 552.1 C1016.1 552.4 1015.9 552.2 1016.3 552.6 C1016.7 553 1016.5 552.8 1017 553.3 C1017.4 553.8 1017.2 553.5 1017.6 554.1 C1017.9 554.7 1017.8 554.4 1018.1 555 C1018.5 555.7 1018.3 555.3 1018.6 556 C1018.9 556.7 1018.8 556.4 1019.1 557.1 C1019.3 557.9 1019.2 557.5 1019.4 558.3 C1019.7 559.1 1019.6 558.7 1019.7 559.5 C1019.9 560.3 1019.8 559.9 1019.9 560.7 C1020.1 561.6 1020 561.2 1020.1 562 C1020.1 562.8 1020.1 562.4 1020.1 563.2 C1020.1 564.1 1020.1 563.7 1020.1 564.4 C1020 565.2 1020.1 564.9 1020 565.6 C1019.9 566.4 1019.9 566 1019.8 566.7 C1019.6 567.4 1019.7 567.1 1019.5 567.8 C1019.3 568.4 1019.4 568.1 1019.1 568.7 C1018.8 569.3 1019 569 1018.7 569.5 C1018.4 570 1018.5 569.8 1018.2 570.2 C1017.8 570.6 1018 570.5 1017.6 570.8 C1017.2 571.1 1017.4 571 1017 571.2 C1016.6 571.5 1016.6 571.4 1016.4 571.5" fill="none" stroke-width="2.5"/>
<path d="M1012 553.4 C1012.2 553.6 1012.2 553.5 1012.5 553.8 C1012.8 554.1 1012.6 553.9 1012.9 554.2 C1013.2 554.6 1013 554.4 1013.3 554.7 C1013.6 555.1 1013.4 554.9 1013.7 555.3 C1014 555.7 1013.8 555.5 1014.1 555.9 C1014.3 556.3 1014.2 556.1 1014.4 556.5 C1014.6 556.9 1014.5 556.7 1014.7 557.2 C1014.9 557.6 1014.8 557.4 1015 557.9 C1015.2 558.4 1015.1 558.1 1015.2 558.6 C1015.4 559.1 1015.3 558.9 1015.4 559.4 C1015.6 559.9 1015.5 559.6 1015.6 560.2 C1015.7 560.7 1015.7 560.4 1015.7 561 C1015.8 561.5 1015.8 561.2 1015.8 561.8 C1015.9 562.3 1015.9 562 1015.9 562.6 C1015.9 563.1 1015.9 562.8 1015.9 563.3 C1015.9 563.9 1015.9 563.6 1015.9 564.1 C1015.8 564.6 1015.9 564.4 1015.8 564.9 C1015.7 565.4 1015.8 565.1 1015.7 565.6 C1015.6 566.1 1015.6 565.9 1015.5 566.3 C1015.4 566.8 1015.5 566.6 1015.3 567 C1015.2 567.4 1015.3 567.2 1015.1 567.6 C1015 568 1015 567.8 1014.9 568.2 C1014.7 568.6 1014.8 568.4 1014.6 568.7 C1014.4 569.1 1014.3 569.1 1014.2 569.2" fill="none" stroke-width="2.1"/>
<path d="M1082 517.8 L1089.9 510.8 L1101.3 510.8 L1109.1 521.3 L1110 537 L1103 545.8 L1092.5 547.2 L1083.8 542.3" fill="none" stroke-width="3.3"/>
<path d="M1077.7 531.8 A10.6 17.6 -8 1 0 1098.7 528.8 A10.6 17.6 -8 1 0 1077.7 531.8 Z" fill="none" stroke-width="3.3"/>
<path d="M1089.9 510.8 L1096 518.6 L1109.1 521.3" fill="none" stroke-width="2.4"/>
<path d="M1096 518.6 L1098.6 538.8 L1110 537" fill="none" stroke-width="2.4"/>
<path d="M1098.6 538.8 L1092.5 547.2" fill="none" stroke-width="2.4"/>
<path d="M1083.8 531.7 A5 8.8 -8 1 0 1093.8 530.3 A5 8.8 -8 1 0 1083.8 531.7 Z" fill="none" stroke-width="2.6"/>
<path d="M1091.8 536.6 C1091.7 536.7 1091.7 536.8 1091.5 537 C1091.2 537.3 1091.3 537.2 1091.1 537.4 C1090.8 537.6 1090.9 537.5 1090.6 537.6 C1090.3 537.7 1090.5 537.6 1090.2 537.7 C1089.9 537.7 1090 537.7 1089.7 537.6 C1089.4 537.5 1089.5 537.6 1089.2 537.4 C1088.9 537.3 1089.1 537.4 1088.8 537.1 C1088.4 536.9 1088.6 537 1088.3 536.7 C1088 536.4 1088.1 536.5 1087.9 536.2 C1087.6 535.8 1087.7 536 1087.5 535.5 C1087.2 535.1 1087.3 535.3 1087.1 534.8 C1086.9 534.3 1087 534.6 1086.8 534 C1086.6 533.5 1086.7 533.7 1086.6 533.2 C1086.4 532.6 1086.5 532.9 1086.4 532.3 C1086.3 531.7 1086.3 532 1086.3 531.4 C1086.2 530.8 1086.2 531.1 1086.2 530.5 C1086.2 529.9 1086.2 530.2 1086.2 529.6 C1086.3 529.1 1086.2 529.4 1086.3 528.8 C1086.4 528.3 1086.4 528.5 1086.5 528 C1086.6 527.5 1086.5 527.8 1086.7 527.3 C1086.9 526.9 1086.8 527.1 1087 526.7 C1087.2 526.4 1087.1 526.5 1087.3 526.2 C1087.5 525.9 1087.4 526 1087.7 525.8 C1087.9 525.6 1088 525.6 1088.1 525.5" fill="none" stroke-width="2.2"/>
<path d="M1109.6 520.4 A14 18.6 -12 1 0 1137 514.6 A14 18.6 -12 1 0 1109.6 520.4 Z" fill="none" stroke-width="3.3"/>
<path d="M1135.1 493.7 C1135.7 493.7 1135.7 493.6 1136.9 493.6 C1138.2 493.6 1137.6 493.5 1138.8 493.8 C1140 494 1139.4 493.8 1140.7 494.2 C1141.9 494.7 1141.3 494.4 1142.5 495 C1143.7 495.7 1143.1 495.3 1144.2 496.1 C1145.4 496.9 1144.8 496.5 1145.9 497.5 C1146.9 498.4 1146.4 497.9 1147.4 499.1 C1148.4 500.2 1147.9 499.6 1148.8 500.9 C1149.6 502.2 1149.2 501.5 1150 502.9 C1150.7 504.3 1150.4 503.6 1151 505.1 C1151.6 506.6 1151.3 505.8 1151.8 507.4 C1152.2 508.9 1152 508.1 1152.3 509.7 C1152.6 511.3 1152.5 510.5 1152.6 512.1 C1152.8 513.7 1152.8 512.9 1152.7 514.5 C1152.7 516.1 1152.8 515.4 1152.6 516.9 C1152.4 518.4 1152.5 517.7 1152.2 519.2 C1151.8 520.6 1152 519.9 1151.5 521.3 C1151 522.7 1151.3 522.1 1150.7 523.3 C1150 524.6 1150.4 524 1149.6 525.1 C1148.8 526.2 1149.2 525.7 1148.3 526.7 C1147.4 527.7 1147.9 527.2 1146.9 528 C1145.9 528.8 1146.4 528.5 1145.3 529.1 C1144.3 529.7 1144.8 529.4 1143.7 529.8 C1142.5 530.2 1142.5 530.1 1141.9 530.3" fill="none" stroke-width="3.3"/>
<path d="M1119.6 499.3 L1134.8 493.8" fill="none" stroke-width="3.3"/>
<path d="M1127.2 535.7 L1142.4 530.2" fill="none" stroke-width="3.3"/>
<path d="M1115.6 519.8 A8.6 14.2 -12 1 0 1132.4 516.2 A8.6 14.2 -12 1 0 1115.6 519.8 Z" fill="none" stroke-width="2.6"/>
<path d="M1130.3 527.4 C1130.1 527.7 1130.1 527.8 1129.7 528.3 C1129.2 528.8 1129.5 528.6 1129 528.9 C1128.5 529.3 1128.7 529.2 1128.2 529.4 C1127.6 529.5 1127.9 529.5 1127.3 529.5 C1126.8 529.5 1127.1 529.6 1126.5 529.4 C1125.9 529.3 1126.2 529.4 1125.6 529.1 C1125 528.8 1125.2 528.9 1124.6 528.5 C1124.1 528 1124.3 528.3 1123.8 527.6 C1123.2 527 1123.5 527.4 1122.9 526.6 C1122.4 525.8 1122.6 526.2 1122.1 525.4 C1121.6 524.5 1121.9 524.9 1121.4 524 C1121 523 1121.2 523.5 1120.8 522.5 C1120.4 521.4 1120.6 521.9 1120.3 520.9 C1120 519.8 1120.1 520.3 1119.9 519.2 C1119.7 518.1 1119.8 518.6 1119.7 517.5 C1119.6 516.4 1119.6 516.9 1119.6 515.8 C1119.5 514.8 1119.5 515.3 1119.6 514.3 C1119.6 513.2 1119.6 513.7 1119.7 512.8 C1119.9 511.8 1119.8 512.2 1120 511.4 C1120.3 510.5 1120.1 510.9 1120.5 510.2 C1120.8 509.5 1120.6 509.8 1121 509.2 C1121.4 508.6 1121.2 508.8 1121.6 508.4 C1122.1 508 1121.9 508.1 1122.4 507.8 C1122.9 507.6 1122.9 507.6 1123.2 507.5" fill="none" stroke-width="2.2"/>
<path d="M1125 505.6 C1125.3 505.7 1125.3 505.6 1125.8 505.8 C1126.4 506 1126.1 505.9 1126.7 506.1 C1127.2 506.4 1126.9 506.3 1127.5 506.6 C1128 507 1127.7 506.8 1128.3 507.3 C1128.8 507.8 1128.5 507.5 1129 508.1 C1129.5 508.7 1129.3 508.4 1129.8 509 C1130.2 509.7 1130 509.3 1130.5 510.1 C1130.9 510.8 1130.7 510.4 1131.1 511.2 C1131.5 512 1131.3 511.6 1131.7 512.5 C1132 513.4 1131.9 512.9 1132.2 513.8 C1132.5 514.7 1132.3 514.3 1132.6 515.2 C1132.9 516.1 1132.8 515.7 1133 516.6 C1133.2 517.6 1133.1 517.1 1133.2 518.1 C1133.4 519 1133.3 518.6 1133.4 519.5 C1133.5 520.5 1133.4 520 1133.5 520.9 C1133.5 521.9 1133.5 521.4 1133.4 522.3 C1133.4 523.2 1133.4 522.8 1133.3 523.6 C1133.2 524.5 1133.3 524.1 1133.1 524.9 C1133 525.7 1133.1 525.3 1132.8 526 C1132.6 526.8 1132.7 526.4 1132.5 527.1 C1132.2 527.7 1132.3 527.4 1132 528 C1131.7 528.6 1131.8 528.3 1131.5 528.8 C1131.1 529.2 1131.3 529 1130.9 529.4 C1130.4 529.8 1130.4 529.7 1130.2 529.9" fill="none" stroke-width="2.2"/>
<path d="M1246 452.8 C1249.8 453 1248.3 451.8 1251.5 454.5 C1254.7 457.2 1253.7 455.8 1255.5 461 C1257.3 466.2 1257.3 464.7 1256.8 470 C1256.3 475.3 1257.3 473.8 1254 477 C1250.7 480.2 1251.2 479.5 1247 479.5 C1242.8 479.5 1244 479.8 1241.5 477 C1239 474.2 1241 474.7 1239.5 471 C1238 467.3 1238 470 1237 466 C1236 462 1235.6 463 1236.6 459 C1237.6 455 1236.9 456.1 1240 454 C1243.1 451.9 1242.2 452.6 1246 452.8Z" fill="none" stroke-width="3.2"/>
<path d="M1243.5 460 C1245.2 459.3 1245.5 459.7 1247.5 462 C1249.5 464.3 1249.2 463.7 1249.5 467 C1249.8 470.3 1249.8 470 1248.5 472 C1247.2 474 1247 473.7 1245.5 473 C1244 472.3 1244.2 472.3 1244 470 C1243.8 467.7 1245.5 468 1245 466 C1244.5 464 1243 466 1242.5 464 C1242 462 1241.8 460.7 1243.5 460Z" fill="none" stroke-width="2.6"/>
<path d="M1267.5 442.5 C1271.3 440.8 1273.2 439.1 1277.5 438.8 C1281.8 438.4 1280.9 438.9 1283.8 441.2 C1286.6 443.6 1286.6 443.5 1288.1 447.5 C1289.6 451.5 1289.9 452.2 1289.4 456.2 C1288.9 460.2 1289.1 459.8 1286.2 462.5 C1283.4 465.2 1282.8 464.8 1278.8 466.2 C1274.8 467.8 1274.8 468.5 1271.2 468.1 C1267.8 467.8 1268.1 467.5 1265.6 465 C1263.1 462.5 1263.2 462.8 1261.9 458.8 C1260.5 454.8 1260.3 453.7 1260.6 450 C1261 446.3 1261.3 447 1263.1 445 C1265 443 1263.7 444.2 1267.5 442.5Z" fill="none" stroke-width="3.3"/>
<path d="M1267.5 442.5 L1275 447.5 L1283.8 441.2" fill="none" stroke-width="2.4"/>
<path d="M1275 447.5 L1277.5 460 L1286.2 462.5" fill="none" stroke-width="2.4"/>
<path d="M1277.5 460 L1271.2 468.1" fill="none" stroke-width="2.4"/>
<path d="M1265 455.3 A4.6 6.6 -10 1 0 1274 453.7 A4.6 6.6 -10 1 0 1265 455.3 Z" fill="none" stroke-width="2.7"/>
<path d="M1270.3 450.6 C1270.4 450.7 1270.4 450.6 1270.7 450.8 C1270.9 450.9 1270.8 450.8 1271 451 C1271.2 451.2 1271.1 451.1 1271.3 451.4 C1271.6 451.6 1271.5 451.5 1271.6 451.7 C1271.8 452 1271.8 451.9 1271.9 452.2 C1272.1 452.5 1272 452.3 1272.2 452.7 C1272.3 453 1272.3 452.8 1272.4 453.2 C1272.5 453.6 1272.5 453.4 1272.6 453.8 C1272.7 454.2 1272.6 454 1272.7 454.4 C1272.8 454.7 1272.8 454.5 1272.8 454.9 C1272.9 455.3 1272.9 455.1 1272.9 455.5 C1272.9 455.9 1272.9 455.7 1272.9 456.1 C1272.9 456.5 1272.9 456.3 1272.8 456.7 C1272.8 457.1 1272.8 456.9 1272.8 457.2 C1272.7 457.6 1272.7 457.4 1272.6 457.7 C1272.5 458 1272.6 457.9 1272.5 458.2 C1272.3 458.5 1272.4 458.3 1272.2 458.6 C1272.1 458.8 1272.2 458.7 1272 458.9 C1271.8 459.1 1271.9 459 1271.7 459.2 C1271.5 459.3 1271.6 459.3 1271.4 459.4 C1271.2 459.5 1271.3 459.4 1271.1 459.5 C1270.9 459.6 1271 459.5 1270.8 459.6 C1270.5 459.6 1270.7 459.6 1270.4 459.5 C1270.2 459.5 1270.2 459.4 1270.1 459.4" fill="none" stroke-width="3.1"/>
<path d="M1187 264 C1184 265.3 1177.6 267.4 1174 269.5 C1170.4 271.6 1172.1 271 1171.5 273 C1170.9 275 1169.5 272.6 1171.5 278 C1173.5 283.4 1178 289.7 1180 296 C1182 302.3 1179.1 301.3 1180 305 C1180.9 308.7 1182.1 308.5 1184 312 C1185.9 315.5 1185.7 315.3 1188 320 C1190.3 324.7 1190.7 326.4 1194 332 C1197.3 337.6 1198.5 339.9 1202 344 C1205.5 348.1 1205.7 348.1 1209 349.5 C1212.3 350.9 1213 350.4 1216 350 C1219 349.6 1220.6 348.5 1222 348" fill="none" stroke-width="3.4"/>
<path d="M1190 262.5 C1189.8 263.7 1188.7 263.7 1189.2 267 C1189.7 270.3 1189.9 270.5 1192 275 C1194.1 279.5 1194.7 280 1197 284 C1199.3 288 1199.4 286.8 1200.5 290 C1201.6 293.2 1200.1 292.3 1201 296 C1201.9 299.7 1201.1 297.6 1204 304 C1206.9 310.4 1208 312.5 1212 320 C1216 327.5 1216.3 326.7 1219 332 C1221.7 337.3 1221.2 335.7 1222 340 C1222.8 344.3 1222 345.9 1222 348" fill="none" stroke-width="3.4"/>
<path d="M1190 262.5 C1192.4 261.4 1194.4 259.9 1198 259 C1201.6 258.1 1200 258.3 1202 259.5 C1204 260.7 1203.6 260.4 1204.5 263 C1205.4 265.6 1203.7 265 1205 268 C1206.3 271 1206.3 271.2 1209 273 C1211.7 274.8 1211 274.9 1214 274 C1217 273.1 1216.8 273 1219 270 C1221.2 267 1221.2 267.9 1221.5 264 C1221.8 260.1 1222 260.3 1220 257 C1218 253.7 1216.5 254.2 1215 253" fill="none" stroke-width="3.4"/>
<path d="M1204.5 257 C1207.3 255.8 1210.3 253.3 1215 252.5 C1219.7 251.7 1219.1 252 1222 254 C1224.9 256 1224.5 256.3 1226 260 C1227.5 263.7 1227 264 1227.5 268 C1228 272 1226.5 269.1 1228 275 C1229.5 280.9 1229.8 280.7 1233 290 C1236.2 299.3 1237.1 301.5 1240 310 C1242.9 318.5 1243.1 316.1 1244 322 C1244.9 327.9 1244.6 327.5 1243.5 332 C1242.4 336.5 1242.8 336.1 1240 339 C1237.2 341.9 1237.8 340.6 1233 343 C1228.2 345.4 1224.9 346.7 1222 348" fill="none" stroke-width="3.5"/>
<path d="M1216 254 C1217.8 255.2 1218.8 253.8 1221.5 257.5 C1224.2 261.2 1223 259.8 1224.2 265 C1225.4 270.2 1223.6 266 1225.2 273 C1226.8 280 1227.7 281.7 1229 286" fill="none" stroke-width="3.1"/>
<path d="M1200 283 L1222.5 274.5" fill="none" stroke-width="2.6"/>
<path d="M1211 291 L1227 285" fill="none" stroke-width="2.6"/>
<path d="M1203.5 296.6 A3.2 6.6 -20 1 0 1209.5 294.4 A3.2 6.6 -20 1 0 1203.5 296.6 Z" fill="none" stroke-width="2.7"/>
<path d="M1182 299 C1182.3 296.8 1185.7 296 1187 297.5 C1188.3 299 1190.3 305.8 1190 308 C1189.7 310.2 1186.3 312 1185 310.5 C1183.7 309 1181.7 301.2 1182 299Z" fill="none" stroke-width="2.9"/>
<path d="M1195 309 L1203 306" fill="none" stroke-width="2.6"/>
<path d="M1198.5 317 L1209 312.5" fill="none" stroke-width="2.6"/>
<path d="M1202.5 325 L1213 320" fill="none" stroke-width="2.6"/>
<path d="M1208 332.5 L1216 328" fill="none" stroke-width="2.6"/>
<path d="M1213 340 L1221 335.5" fill="none" stroke-width="2.6"/>
<path d="M1209 330.5 L1216.5 326.2" fill="none" stroke-width="2.6"/>
<path d="M1214 338 L1221.2 333.8" fill="none" stroke-width="2.6"/>
<path d="M1206 302 C1207.7 308 1207 308.7 1211 320 C1215 331.3 1215.7 330.7 1218 336" fill="none" stroke-width="2.5"/>
<path d="M1210 300 C1212.7 305 1213.7 305.7 1218 315 C1222.3 324.3 1221 321 1223 328 C1225 335 1224.3 329.3 1224 336 C1223.7 342.7 1222.7 344 1222 348" fill="none" stroke-width="2.7"/>
</g>
<g stroke="#000" stroke-linecap="round" stroke-linejoin="round">
<path d="M611.9 75.6 C617.1 83.7 616.8 84.2 627.5 100 C638.2 115.8 629.2 103.8 644 123 C658.8 142.2 652.5 133.5 672 157.5 C691.5 181.5 682.2 171.5 702.5 195 C722.8 218.5 712.6 206.3 733 228 C753.4 249.7 741.4 237 763.8 260 C786.1 283 775.4 272 800 297 C824.6 322 812.5 310.7 837.5 335 C862.5 359.3 849.8 347 875 370 C900.2 393 886.7 380.7 913 404 C939.3 427.3 931.5 421.3 953.8 440 C976.1 458.7 963.8 448.2 980 460 C996.2 471.8 995 470.3 1002.5 475.4" fill="none" stroke-width="2.5"/>
<path d="M611.9 75.6 L630.6 60.3 L633.8 66.5" fill="none" stroke-width="2.2"/>
<path d="M1002.5 475.4 L1017 454.6 L1006 447" fill="none" stroke-width="2.2"/>
<path d="M615.9 72.3 C621.3 80.5 621.1 81.2 631.9 97 C642.6 112.9 633.4 100.7 648.2 119.8 C662.9 138.8 656.7 130.2 676.1 154.2 C695.6 178.1 686.3 168.1 706.5 191.5 C726.8 214.9 716.5 202.8 736.9 224.4 C757.2 246 745.2 233.3 767.6 256.3 C789.9 279.3 779.2 268.3 803.8 293.3 C828.3 318.2 816.3 306.9 841.2 331.2 C866.1 355.5 853.5 343.1 878.6 366.1 C903.7 389 890.3 376.8 916.5 400 C942.7 423.3 935 417.4 957.2 435.9 C979.4 454.5 967 444.1 983.1 455.7 C999.3 467.4 998.1 465.8 1005.6 470.9" fill="none" stroke-width="1.2"/>
<path d="M620 69 C625.4 77.3 625.5 78.2 636.3 94.1 C647.1 109.9 637.7 97.6 652.4 116.5 C667 135.4 660.8 127 680.2 150.8 C699.6 174.7 690.4 164.8 710.5 188.1 C730.7 211.4 720.4 199.2 740.7 220.7 C761 242.2 749.1 229.7 771.4 252.6 C793.6 275.6 783 264.6 807.6 289.6 C832.1 314.5 820 303.2 844.9 327.4 C869.8 351.6 857.1 339.3 882.2 362.2 C907.2 385.1 893.9 372.8 920 396.1 C946.2 419.3 938.5 413.4 960.6 431.9 C982.7 450.3 970.2 439.9 986.2 451.4 C1002.3 462.9 1001.3 461.4 1008.8 466.4" fill="none" stroke-width="1.4"/>
<path d="M624.1 65.6 C629.7 74.1 629.9 75.2 640.7 91 C651.6 106.9 642.1 94.4 656.7 113.2 C671.2 132 665.1 123.6 684.4 147.4 C703.7 171.2 694.5 161.3 714.6 184.5 C734.7 207.7 724.4 195.6 744.6 217 C764.9 238.5 753 225.9 775.2 248.9 C797.5 271.8 786.9 260.9 811.4 285.8 C835.9 310.7 823.9 299.4 848.7 323.5 C873.5 347.7 860.8 335.4 885.8 358.2 C910.8 381 897.5 368.9 923.6 392 C949.7 415.2 942.1 409.4 964.1 427.7 C986 446.1 973.4 435.7 989.4 447.1 C1005.4 458.4 1004.4 456.9 1012 461.8" fill="none" stroke-width="1.2"/>
<path d="M742 201 C759 218.8 758.7 219.5 793 254.5 C827.3 289.5 827.7 288.8 845 306" fill="none" stroke-width="2.3"/>
<path d="M654 93.5 C664.9 110.8 665.8 115.8 686.7 145.5 C707.7 175.2 706.8 170.2 716.9 182.6" fill="none" stroke-width="0.9"/>
<path d="M850.8 321.4 C863.1 332.9 862.9 333.2 887.8 356 C912.8 378.8 899.6 366.6 925.6 389.8 C951.7 412.9 946.2 409.7 966 425.4 C985.8 441.2 978.7 433.1 985 437" fill="none" stroke-width="0.9"/>
<path d="M657.4 91.3 C658.7 97.4 650.7 92.2 661.2 109.7 C671.8 127.2 669.7 120.1 688.9 143.8 C708.2 167.4 709 168.4 719 180.7" fill="none" stroke-width="0.9"/>
<path d="M852.7 319.4 C865 330.9 864.8 331.1 889.7 353.9 C914.6 376.7 901.5 364.6 927.5 387.7 C953.5 410.8 947.7 407.8 967.8 423.3 C987.9 438.8 981.1 430.6 987.8 434.2" fill="none" stroke-width="0.9"/>
<path d="M626.5 66 L632 70 L629.5 73 L626 69Z" fill="none" stroke-width="0.9"/>
<path d="M635 79.4 C636.7 78.8 635.8 76 640 77.5 C644.2 79 639.2 76 647.5 84 C655.8 92 653.1 89.5 665 101.5 C676.9 113.5 671.4 106.5 683.1 120 C694.8 133.5 688.4 126 700 142 C711.6 158 706.3 150.3 718 168 C729.7 185.7 729.3 186 735 195" fill="none" stroke-width="2.3"/>
<path d="M635 79.4 C634.3 78.3 633.8 78.5 633 76 C632.2 73.5 632.1 74.5 632.6 72 C633.1 69.5 632.5 69.9 634.5 68.6 C636.5 67.3 635.7 67.5 638.8 68.1 C641.8 68.7 635 62.7 643.8 70.5 C652.5 78.3 649.6 76.5 665 91.5 C680.4 106.5 681.7 107.6 690 115.6" fill="none" stroke-width="2.1"/>
<path d="M692.5 120 C695.3 124.8 694.5 122.8 701 134.5 C707.5 146.2 704.4 140.7 712 155 C719.6 169.3 719.8 170 723.8 177.5" fill="none" stroke-width="1"/>
<path d="M690 115.6 L705 134.4" fill="none" stroke-width="1.5"/>
<path d="M705 134.4 C709.3 140.3 709.2 140.1 718 152 C726.8 163.9 723.9 158.7 731.2 170 C738.6 181.3 735.8 178.5 740 186 C744.2 193.5 742.1 188.7 743.8 192.5 C745.4 196.3 745.8 194.7 745 197.5 C744.2 200.3 744 200 741.2 200.8 C738.5 201.6 738.9 201.8 736.9 200 C734.9 198.2 735.2 198 735.4 195.5 C735.6 193 736.8 193.5 737.5 192.5" fill="none" stroke-width="2.1"/>
<path d="M691 116 C693.1 114.9 699 111.5 701.5 110.5 C704 109.5 701.7 109.7 703.5 110.8 C705.3 111.9 709.2 115.1 710.6 116.2" fill="none" stroke-width="2"/>
<path d="M700.6 122.5 A2.4 2.4 0 1 0 705.4 122.5 A2.4 2.4 0 1 0 700.6 122.5 Z" fill="none" stroke-width="1.1"/>
<path d="M710.6 116.2 C718.4 123.7 724.8 130.1 740 144.4 C755.2 158.7 748.8 153.7 767.5 170 C786.2 186.3 798.7 196 810 205.5" fill="none" stroke-width="2"/>
<path d="M810 205.5 C810.9 206.1 808.5 206.2 813 207.5 C817.5 208.8 817.6 206.6 825 210 C832.4 213.4 830.6 212.4 837.5 218.8 C844.4 225.1 842.8 222.8 848 231 C853.2 239.2 851.8 237.4 855 246 C858.2 254.6 857.6 255.4 858.8 259.5" fill="none" stroke-width="2"/>
<path d="M838.8 219.4 C841.7 219.8 842.1 219.4 847.5 220.6 C852.9 221.8 851.3 220.6 855 223.1 C858.7 225.6 857.9 225 858.5 228.1 C859.1 231.2 858.7 231.1 856.9 232.5 C855.1 233.9 854.4 232.4 853.1 232.3" fill="none" stroke-width="1.7"/>
<path d="M843.8 225 C845.8 225.4 847.3 224.6 850 226.2 C852.7 227.9 851.3 228.8 851.9 230" fill="none" stroke-width="1.3"/>
<path d="M855 238.1 L886.2 246.9" fill="none" stroke-width="1.7"/>
<path d="M884 252.8 L860.5 247.3" fill="none" stroke-width="1.7"/>
<path d="M883.3 249.8 A2.3 3 0 1 0 887.9 249.8 A2.3 3 0 1 0 883.3 249.8 Z" fill="none" stroke-width="1.2"/>
<path d="M863.8 248.5 L863.8 253.1 L871.9 255 L872.5 251" fill="none" stroke-width="1.3"/>
<path d="M858.8 259.5 C866.4 267.6 872.5 273.3 887.5 290 C902.5 306.7 900.7 305 915 322 C929.3 339 932.9 343.6 941.2 353.8 C949.6 363.9 945.1 356.7 946.2 360 C947.4 363.3 946.8 363.3 945.5 366 C944.2 368.7 942.4 368.9 941.2 370" fill="none" stroke-width="2"/>
<path d="M699 128 C699.5 129.2 699.1 131.5 701 132.5 C702.9 133.5 695.9 125.4 706.2 131.9 C716.6 138.4 727.7 146.8 740 157 C752.3 167.2 735.5 154.2 752.5 170 C769.5 185.8 790.1 203.9 803.8 216.2" fill="none" stroke-width="2"/>
<path d="M803.8 216.2 C804.6 218 803.9 217.9 806.5 222 C809.1 226.1 807 223.5 812.5 230 C818 236.5 817.5 235.9 825 243.8 C832.5 251.6 828.9 248.8 837.5 256.2 C846.1 263.8 848.9 265 853.8 268.8" fill="none" stroke-width="2"/>
<path d="M853.8 268.8 C858.8 274.4 860.2 276.1 872.5 290 C884.8 303.9 885.7 304.7 900 321 C914.3 337.3 918.5 342.2 926.2 351.2 C934 360.3 928.9 353 929 355 C929.1 357 928.5 358.1 926.5 358.8 C924.5 359.4 922.8 357.8 921.5 357.5" fill="none" stroke-width="2"/>
<path d="M930 353.8 L941.2 367.5" fill="none" stroke-width="1.1"/>
<path d="M935.5 357.5 A2.4 2 30 1 0 939.7 359.9 A2.4 2 30 1 0 935.5 357.5 Z" fill="none" stroke-width="1"/>
<path d="M941.2 370 L943 373.5" fill="none" stroke-width="3.2"/>
<path d="M845 306 C845.4 305.2 845 303.9 846.5 303 C848 302.1 848.2 301.8 850.5 302.5 C852.8 303.2 845.1 298.5 855 305.5 C864.9 312.5 874.2 318.8 887.5 328.8 C900.8 338.8 895.9 335.3 905 343 C914.1 350.7 917.1 353.6 921.5 357.5" fill="none" stroke-width="2"/>
<path d="M845 306 C845.1 307.3 844.7 308.7 845.5 311 C846.3 313.3 846.4 313.6 848 314.5 C849.6 315.4 850 314.9 851.5 314.5 C853 314.1 849.5 310.5 853.8 313 C858 315.5 851.8 308.6 867.5 323.8 C883.2 338.9 886.2 345.7 912.5 370 C938.8 394.3 946.9 398.2 966.2 415 C985.6 431.8 976.5 424.6 985 433 C993.5 441.4 994.8 442.9 998.3 446.5" fill="none" stroke-width="2.3"/>
<path d="M862 322 C868 327 862.3 321.3 880 337 C897.7 352.7 886.7 344.3 915 369 C943.3 393.7 948.3 397 965 411" fill="none" stroke-width="1"/>
<path d="M943 373.5 C947.5 377.6 950.2 380.1 960 389 C969.8 397.9 971.1 397.6 979.6 406.7 C988.1 415.8 985.9 413.1 992 423 C998.1 432.9 1000 437.5 1002.5 444 C1005 450.5 1002.6 446.8 1001.5 447.5 C1000.4 448.2 999.2 446.8 998.3 446.5" fill="none" stroke-width="2"/>
<path d="M824.6 226.7 A5.2 6.2 20 1 0 834.4 230.3 A5.2 6.2 20 1 0 824.6 226.7 Z" fill="none" stroke-width="1.3"/>
<path d="M828.1 226.3 A3.6 4.4 20 1 0 834.9 228.7 A3.6 4.4 20 1 0 828.1 226.3 Z" fill="none" stroke-width="1"/>
<path d="M851.6 177.6 L853.4 177.8" fill="none" stroke-width="0.7"/>
<path d="M763.8 24.4 C768.3 25.8 760.4 20.6 777.5 28.8 C794.6 36.9 790 34.6 815 48.8 C840 62.9 827.5 54.2 852.5 71.2 C877.5 88.3 866.2 80.4 890 100 C913.8 119.6 902.1 110.2 923.8 130 C945.4 149.8 933.8 138.7 955 159.5 C976.2 180.3 965.2 169.3 987.5 192.5 C1009.8 215.7 999.9 202.8 1022 229 C1044.1 255.2 1037.3 249.4 1053.8 271 C1070.2 292.6 1065.4 286.2 1071.2 293.8" fill="none" stroke-width="2.6"/>
<path d="M765 42.5 C773.3 47.1 769.2 44.6 790 56.2 C810.8 67.9 802.5 61.2 827.5 77.5 C852.5 93.8 840.8 86.5 865 105 C889.2 123.5 876 112.8 900 133 C924 153.2 913.2 142.8 937 165.5 C960.8 188.2 948.2 176.5 971.2 201 C994.2 225.5 986.4 217.3 1006 239 C1025.6 260.7 1011.8 244.4 1030 266 C1048.2 287.6 1050.4 291.2 1060.6 303.8" fill="none" stroke-width="2.8"/>
<path d="M763.8 32.5 C772.5 36 764.6 29.8 790 43.1 C815.4 56.4 806.7 49.7 840 72.5 C873.3 95.3 865.8 91.7 890 111.5 C914.2 131.3 896.2 117.5 912.5 132 C928.8 146.5 930 147.3 938.8 155" fill="none" stroke-width="1.1"/>
<path d="M980.6 198.1 C992.1 210.7 994 212 1015 236 C1036 260 1026.5 249.7 1043.8 270 C1061 290.3 1059.2 287.9 1066.9 296.9" fill="none" stroke-width="1.1"/>
<path d="M1042 262 C1046.3 267.3 1046.2 267.2 1055 278 C1063.8 288.8 1064 289 1068.5 294.5" fill="none" stroke-width="1"/>
<path d="M763.8 24.4 C760.8 25.4 760 23.6 755 27.5 C750 31.4 751.9 30 748.8 36.2 C745.6 42.5 745.8 40 745.6 46.2 C745.4 52.5 745.4 50.4 748.1 55 C750.8 59.6 751.9 58.3 753.8 60" fill="none" stroke-width="2.3"/>
<path d="M753.8 60 L780.6 73.8 L788.1 70 L789.4 60" fill="none" stroke-width="2.3"/>
<path d="M780.6 73.8 L782.5 62.5" fill="none" stroke-width="1.1"/>
<path d="M768.1 54.4 L782.5 62.5 L789.4 60" fill="none" stroke-width="1.1"/>
<path d="M763.8 32.5 C761.7 33.8 760 32.9 757.5 36.2 C755 39.6 755.8 38.5 756.2 42.5 C756.7 46.5 756.9 45.6 758.8 48.1 C760.6 50.6 760.9 49.4 761.9 50" fill="none" stroke-width="1.2"/>
<path d="M765 42.5 C763.9 42.5 760.6 41.7 759.5 42.5 C758.4 43.3 758.4 45 759.5 46.5 C760.6 48 759 47.3 765 50 C771 52.7 784.5 58 789.4 60" fill="none" stroke-width="1.9"/>
<path d="M768.5 59.5 L775.5 63" fill="none" stroke-width="2.9"/>
<path d="M1071.2 293.8 L1060.6 303.8" fill="none" stroke-width="2.3"/>
<path d="M1071.2 293.8 C1071.9 293.5 1072.7 292.5 1074 292.5 C1075.3 292.5 1069.7 285.3 1076.9 293.8 C1084.1 302.2 1089.7 310.1 1105 328.8 C1120.3 347.4 1132.6 361.8 1142.5 373.8 C1152.4 385.7 1137.6 369.2 1147.5 380 C1157.4 390.8 1175.1 409.4 1185 420 C1194.9 430.6 1187.7 422 1190 425.5 C1192.3 429 1193.8 432.8 1195 435" fill="none" stroke-width="2.3"/>
<path d="M1060.6 303.8 C1059.9 303.9 1058.4 303.6 1057.5 304.5 C1056.6 305.4 1053.7 302.1 1056.9 307.5 C1060.1 312.9 1066.4 321.4 1071.2 327.5 C1076.1 333.6 1076 332.3 1077.5 333.8" fill="none" stroke-width="2.3"/>
<path d="M1077.5 333.8 C1081.5 343.4 1086.8 357.7 1092.5 370 C1098.2 382.3 1091.4 365.7 1098.8 380 C1106.1 394.3 1111.7 405.8 1120 423.8 C1128.3 441.8 1124.7 437.8 1130 447.5 C1135.3 457.2 1134 454.7 1140 460 C1146 465.3 1149.2 465.5 1152.5 467.5" fill="none" stroke-width="2.3"/>
<path d="M1066.2 302.5 C1068.9 306.8 1072.6 313.8 1076.2 318.8 C1079.9 323.7 1077.7 320.3 1080 321 C1082.3 321.7 1082.6 320.2 1085 321.2 C1087.4 322.3 1079.7 312 1089 325 C1098.3 338 1110.1 355.3 1120 370 C1129.9 384.7 1124.4 377.3 1126 380" fill="none" stroke-width="2.1"/>
<path d="M1080 322.5 C1080.8 325.8 1073.5 313.3 1082.5 332.5 C1091.5 351.7 1098.8 364.2 1107 380" fill="none" stroke-width="1.2"/>
<path d="M1087 338 L1112.5 396.2" fill="none" stroke-width="1"/>
<path d="M1118 407 L1125 420" fill="none" stroke-width="1"/>
<path d="M1125 377.5 L1133.8 390" fill="none" stroke-width="1"/>
<path d="M1143.8 404.4 L1153.8 420" fill="none" stroke-width="1"/>
<path d="M1105.9 371.4 A5.2 8.3 -28 1 0 1115.1 366.6 A5.2 8.3 -28 1 0 1105.9 371.4 Z" fill="none" stroke-width="1.2"/>
<path d="M1108.9 371.4 A3 5.6 -28 1 0 1114.1 368.6 A3 5.6 -28 1 0 1108.9 371.4 Z" fill="none" stroke-width="1"/>
<path d="M1109.3 377.2 C1110.5 376.1 1110.2 375.3 1113 373.8 C1115.8 372.3 1115.3 372.6 1117.7 372.6 C1120.1 372.6 1119.3 373.4 1120.1 373.8" fill="none" stroke-width="1.4"/>
<path d="M1111.4 380.7 C1112.7 379.6 1112.3 378.8 1115.1 377.3 C1117.9 375.8 1117.5 376.1 1119.8 376.1 C1122.2 376.1 1121.4 376.9 1122.2 377.3" fill="none" stroke-width="1.4"/>
<path d="M1113.6 384.2 C1114.8 383.1 1114.5 382.3 1117.3 380.8 C1120.1 379.3 1119.6 379.6 1122 379.6 C1124.4 379.6 1123.6 380.4 1124.4 380.8" fill="none" stroke-width="1.4"/>
<path d="M1115.7 387.7 C1117 386.6 1116.6 385.8 1119.4 384.3 C1122.2 382.8 1121.8 383.1 1124.1 383.1 C1126.5 383.1 1125.7 383.9 1126.5 384.3" fill="none" stroke-width="1.4"/>
<path d="M1117.9 391.2 C1119.1 390.1 1118.8 389.3 1121.6 387.8 C1124.4 386.3 1123.9 386.6 1126.3 386.6 C1128.6 386.6 1127.9 387.4 1128.7 387.8" fill="none" stroke-width="1.4"/>
<path d="M1120 394.7 C1121.2 393.6 1120.9 392.8 1123.7 391.3 C1126.5 389.8 1126 390.1 1128.4 390.1 C1130.8 390.1 1130 390.9 1130.8 391.3" fill="none" stroke-width="1.4"/>
<path d="M1122.2 398.2 C1123.4 397.1 1123.1 396.3 1125.9 394.8 C1128.7 393.3 1128.2 393.6 1130.6 393.6 C1132.9 393.6 1132.2 394.4 1133 394.8" fill="none" stroke-width="1.4"/>
<path d="M1124.3 401.7 C1125.5 400.6 1125.2 399.8 1128 398.3 C1130.8 396.8 1130.3 397.1 1132.7 397.1 C1135.1 397.1 1134.3 397.9 1135.1 398.3" fill="none" stroke-width="1.4"/>
<path d="M1126.4 405.2 C1127.7 404.1 1127.3 403.3 1130.1 401.8 C1132.9 400.3 1132.5 400.6 1134.8 400.6 C1137.2 400.6 1136.4 401.4 1137.2 401.8" fill="none" stroke-width="1.4"/>
<path d="M1128.6 408.7 C1129.8 407.6 1129.5 406.8 1132.3 405.3 C1135.1 403.8 1134.6 404.1 1137 404.1 C1139.4 404.1 1138.6 404.9 1139.4 405.3" fill="none" stroke-width="1.4"/>
<path d="M1130.7 412.2 C1132 411.1 1131.6 410.3 1134.4 408.8 C1137.2 407.3 1136.8 407.6 1139.1 407.6 C1141.5 407.6 1140.7 408.4 1141.5 408.8" fill="none" stroke-width="1.4"/>
<path d="M1132.9 415.7 C1134.1 414.6 1133.8 413.8 1136.6 412.3 C1139.4 410.8 1138.9 411.1 1141.3 411.1 C1143.6 411.1 1142.9 411.9 1143.7 412.3" fill="none" stroke-width="1.4"/>
<path d="M1135 419.2 C1136.2 418.1 1135.9 417.3 1138.7 415.8 C1141.5 414.3 1141 414.6 1143.4 414.6 C1145.8 414.6 1145 415.4 1145.8 415.8" fill="none" stroke-width="1.4"/>
<path d="M1137.2 422.7 C1138.4 421.6 1138.1 420.8 1140.9 419.3 C1143.7 417.8 1143.2 418.1 1145.6 418.1 C1147.9 418.1 1147.2 418.9 1148 419.3" fill="none" stroke-width="1.4"/>
<path d="M1139.3 426.2 C1140.5 425.1 1140.2 424.3 1143 422.8 C1145.8 421.3 1145.3 421.6 1147.7 421.6 C1150.1 421.6 1149.3 422.4 1150.1 422.8" fill="none" stroke-width="1.4"/>
<path d="M1109.5 378 L1139 428" fill="none" stroke-width="1.2"/>
<path d="M1195 435 C1195.8 438 1193.8 436 1197.5 445 C1201.2 454 1202.6 455.2 1207.5 465 C1212.4 474.8 1211.1 471.1 1213.8 477.5 C1216.4 483.9 1215.9 481 1216.2 486.2 C1216.6 491.5 1217.2 490.1 1215 495 C1212.8 499.9 1215.9 498 1208.8 502.5 C1201.6 507 1199.9 506.2 1191.2 510 C1182.6 513.8 1183.4 513.5 1180 515" fill="none" stroke-width="2.5"/>
<path d="M1152.5 467.5 C1152.2 468.8 1151.9 469.5 1151.2 472.5 C1150.6 475.5 1149 474.8 1150 478.8 C1151 482.8 1151.7 481.2 1155 487.5 C1158.3 493.8 1158.5 496.2 1162.5 502.5 C1166.5 508.8 1165.3 507.9 1170 511.2 C1174.7 514.6 1175.7 514.4 1180 515 C1184.3 515.6 1183.3 514.8 1186 513.5 C1188.7 512.2 1188.9 510.9 1190 510" fill="none" stroke-width="2.5"/>
<path d="M1181.2 461.2 C1183.8 467.5 1185 469.6 1188.8 480 C1192.5 490.4 1191.5 484.2 1192.5 492.5 C1193.5 500.8 1192.7 499.2 1191.9 505 C1191.1 510.8 1190.6 508.3 1190 510" fill="none" stroke-width="1.9"/>
<path d="M1196.2 446.2 L1181.2 461.2" fill="none" stroke-width="3.3"/>
<path d="M1143.8 404.4 C1148.3 412.9 1149.6 416.5 1157.5 430 C1165.4 443.5 1161.2 437.9 1167.5 445 C1173.8 452.1 1170.4 448.8 1176.2 451.2 C1182.1 453.8 1179.6 453.3 1185 452.5 C1190.4 451.7 1189.2 452.1 1192.5 448.8 C1195.8 445.4 1194.2 444.6 1195 442.5" fill="none" stroke-width="1.7"/>
<path d="M1147 412 C1151.3 420 1152.3 423.3 1160 436 C1167.7 448.7 1164 443.3 1170 450 C1176 456.7 1172.7 453.7 1178 456 C1183.3 458.3 1183.3 456.7 1186 457" fill="none" stroke-width="1.1"/>
<path d="M1180.3 437.3 A3 4.8 -20 1 0 1185.9 435.2 A3 4.8 -20 1 0 1180.3 437.3 Z" fill="none" stroke-width="1.3"/>
<path d="M1141 426 C1140.3 428 1139.3 427 1139 432 C1138.7 437 1138 435.3 1140 441 C1142 446.7 1141 444.3 1145 449 C1149 453.7 1149.7 453 1152 455" fill="none" stroke-width="1.3"/>
<path d="M1144 427 C1143.7 430 1142 430 1143 436 C1144 442 1142.7 439.7 1147 445 C1151.3 450.3 1153 449.7 1156 452" fill="none" stroke-width="1.1"/>
<path d="M1146 440 L1154 434.5" fill="none" stroke-width="1.3"/>
<path d="M1147 446 L1169 467 L1163 447" fill="none" stroke-width="1.2"/>
<path d="M1155 433 L1169 462" fill="none" stroke-width="1"/>
<path d="M1174 493.2 A6.3 9 -18 1 0 1186 489.3 A6.3 9 -18 1 0 1174 493.2 Z" fill="none" stroke-width="1.5"/>
<path d="M1178.1 491.6 A3.6 5.6 -18 1 0 1184.9 489.4 A3.6 5.6 -18 1 0 1178.1 491.6 Z" fill="none" stroke-width="1.2"/>
<path d="M1168 482 C1168.2 486 1166.8 486.7 1168.5 494 C1170.2 501.3 1168.8 499.2 1173 504 C1177.2 508.8 1178.3 507 1181 508.5" fill="none" stroke-width="1.2"/>
<path d="M1171 480 C1171.3 484 1170.3 485 1172 492 C1173.7 499 1172 496.7 1176 501 C1180 505.3 1181.3 503.7 1184 505" fill="none" stroke-width="1"/>
<path d="M1166 473 C1168 473.3 1168.3 474.7 1172 474 C1175.7 473.3 1175 473.7 1177 471 C1179 468.3 1177.7 467.7 1178 466" fill="none" stroke-width="1.2"/>
<path d="M1160 470 C1160.7 472.7 1161 472.7 1162 478 C1163 483.3 1162.7 483.3 1163 486" fill="none" stroke-width="1"/>
<path d="M1172 462 C1173.7 464 1174.3 463 1177 468 C1179.7 473 1179 474 1180 477" fill="none" stroke-width="1"/>
<path d="M923.2 592.7 A15.2 22.2 -8 1 0 953.4 588.5 A15.2 22.2 -8 1 0 923.2 592.7 Z" fill="none" stroke-width="2"/>
<path d="M941.4 567.6 C942.1 567.6 942.1 567.5 943.4 567.5 C944.7 567.6 944.1 567.5 945.4 567.8 C946.7 568.1 946.1 567.9 947.4 568.5 C948.7 569 948.1 568.7 949.4 569.5 C950.6 570.3 950 569.9 951.2 570.9 C952.4 571.9 951.8 571.3 953 572.6 C954.1 573.8 953.6 573.1 954.6 574.5 C955.6 575.9 955.1 575.2 956 576.8 C956.9 578.3 956.5 577.5 957.2 579.2 C958 580.9 957.6 580.1 958.2 581.9 C958.8 583.7 958.6 582.8 959 584.6 C959.5 586.5 959.3 585.6 959.6 587.5 C959.8 589.4 959.7 588.5 959.8 590.4 C959.9 592.3 959.9 591.4 959.8 593.2 C959.8 595.1 959.8 594.2 959.6 596.1 C959.3 597.9 959.5 597 959.1 598.8 C958.7 600.5 958.9 599.7 958.3 601.3 C957.7 602.9 958.1 602.2 957.3 603.6 C956.6 605.1 957 604.4 956.1 605.8 C955.2 607.1 955.7 606.5 954.7 607.6 C953.7 608.7 954.2 608.2 953.1 609.1 C952 610 952.6 609.6 951.4 610.3 C950.2 611 950.8 610.7 949.5 611.1 C948.3 611.6 948.2 611.4 947.6 611.6" fill="none" stroke-width="2"/>
<path d="M935.2 568.6 L941.4 567.6" fill="none" stroke-width="2"/>
<path d="M941.4 612.6 L947.6 611.6" fill="none" stroke-width="2"/>
<path d="M929.3 592.4 A8.6 11.2 -8 1 0 946.3 590 A8.6 11.2 -8 1 0 929.3 592.4 Z" fill="none" stroke-width="1.3"/>
<path d="M943.6 598.3 C943.3 598.5 943.4 598.6 942.9 598.9 C942.4 599.3 942.7 599.2 942.2 599.4 C941.7 599.7 941.9 599.6 941.4 599.8 C940.9 599.9 941.1 599.9 940.6 599.9 C940 600 940.3 600 939.7 599.9 C939.2 599.9 939.5 599.9 938.9 599.8 C938.4 599.6 938.6 599.7 938.1 599.4 C937.5 599.1 937.8 599.3 937.3 598.9 C936.8 598.5 937 598.7 936.5 598.3 C936 597.8 936.3 598 935.8 597.5 C935.4 596.9 935.6 597.2 935.2 596.5 C934.8 595.9 935 596.2 934.6 595.5 C934.3 594.8 934.5 595.2 934.2 594.4 C933.9 593.7 934 594 933.8 593.2 C933.6 592.4 933.7 592.8 933.6 592 C933.5 591.2 933.5 591.6 933.5 590.8 C933.4 590 933.4 590.4 933.4 589.6 C933.5 588.8 933.4 589.1 933.5 588.4 C933.6 587.6 933.6 588 933.7 587.2 C933.9 586.5 933.8 586.8 934.1 586.1 C934.3 585.4 934.2 585.8 934.5 585.1 C934.8 584.5 934.6 584.8 935 584.3 C935.4 583.7 935.2 584 935.6 583.5 C936 583.1 936.1 583.1 936.3 582.9" fill="none" stroke-width="1"/>
<path d="M948.9 569.9 C949.3 570.2 949.3 570.2 950.2 570.9 C951.1 571.6 950.7 571.2 951.5 572 C952.3 572.8 951.9 572.4 952.7 573.3 C953.5 574.2 953.2 573.7 953.9 574.7 C954.6 575.7 954.3 575.2 955 576.3 C955.6 577.4 955.3 576.8 955.9 578 C956.5 579.1 956.2 578.5 956.8 579.8 C957.3 581 957.1 580.4 957.5 581.7 C958 583 957.8 582.3 958.2 583.6 C958.5 585 958.4 584.3 958.7 585.7 C958.9 587 958.8 586.3 959 587.7 C959.2 589.1 959.2 588.4 959.3 589.8 C959.4 591.2 959.3 590.5 959.4 591.9 C959.4 593.3 959.4 592.6 959.3 594 C959.3 595.3 959.3 594.7 959.1 596 C959 597.3 959.1 596.7 958.8 598 C958.6 599.3 958.7 598.6 958.4 599.9 C958.1 601.1 958.2 600.5 957.8 601.7 C957.4 602.9 957.6 602.3 957.1 603.4 C956.6 604.5 956.9 604 956.3 605 C955.7 606 956 605.6 955.4 606.5 C954.7 607.4 955.1 607 954.4 607.8 C953.7 608.6 954 608.2 953.3 608.9 C952.5 609.7 952.5 609.6 952.1 609.9" fill="none" stroke-width="1"/>
<path d="M961.8 577.4 A13.6 20 -8 1 0 988.8 573.6 A13.6 20 -8 1 0 961.8 577.4 Z" fill="none" stroke-width="2"/>
<path d="M980.7 554.2 C981.3 554.2 981.3 554.1 982.5 554.1 C983.7 554.2 983.1 554.1 984.3 554.4 C985.5 554.7 984.9 554.5 986.1 555 C987.3 555.5 986.7 555.2 987.8 555.9 C989 556.6 988.4 556.2 989.5 557.1 C990.6 558.1 990.1 557.6 991.1 558.7 C992.1 559.8 991.6 559.2 992.5 560.4 C993.4 561.7 993 561 993.8 562.5 C994.6 563.9 994.2 563.1 994.9 564.7 C995.5 566.2 995.3 565.4 995.8 567 C996.3 568.7 996.1 567.9 996.5 569.5 C996.9 571.2 996.7 570.4 997 572.1 C997.2 573.8 997.1 573 997.2 574.7 C997.3 576.4 997.3 575.6 997.2 577.3 C997.2 579 997.2 578.2 997 579.8 C996.8 581.5 996.9 580.7 996.6 582.3 C996.2 583.8 996.4 583.1 995.9 584.6 C995.4 586 995.6 585.3 995 586.7 C994.3 588 994.7 587.4 993.9 588.6 C993.1 589.7 993.5 589.2 992.6 590.2 C991.8 591.2 992.2 590.8 991.2 591.6 C990.2 592.4 990.7 592 989.7 592.6 C988.6 593.2 989.1 593 988 593.4 C986.9 593.8 986.9 593.7 986.3 593.8" fill="none" stroke-width="2"/>
<path d="M972.5 555.7 L980.7 554.2" fill="none" stroke-width="2"/>
<path d="M978.1 595.3 L986.3 593.8" fill="none" stroke-width="2"/>
<path d="M968 576.5 A7.4 11.2 -8 1 0 982.6 574.5 A7.4 11.2 -8 1 0 968 576.5 Z" fill="none" stroke-width="1.3"/>
<path d="M980 583 C979.8 583.2 979.9 583.3 979.5 583.6 C979.1 584 979.3 583.8 978.9 584.1 C978.5 584.3 978.7 584.2 978.2 584.4 C977.8 584.5 978 584.5 977.6 584.5 C977.1 584.6 977.3 584.6 976.9 584.5 C976.4 584.4 976.6 584.5 976.2 584.3 C975.7 584.2 975.9 584.3 975.5 584 C975 583.7 975.2 583.9 974.8 583.5 C974.3 583.1 974.5 583.3 974.1 582.9 C973.7 582.4 973.9 582.6 973.5 582.1 C973.2 581.5 973.3 581.8 973 581.2 C972.7 580.6 972.8 580.9 972.5 580.2 C972.2 579.5 972.4 579.9 972.1 579.2 C971.9 578.4 972 578.8 971.8 578 C971.6 577.3 971.7 577.7 971.6 576.9 C971.5 576.1 971.5 576.5 971.4 575.7 C971.4 574.9 971.4 575.3 971.4 574.5 C971.4 573.8 971.4 574.1 971.5 573.4 C971.5 572.6 971.5 573 971.6 572.3 C971.8 571.6 971.7 571.9 971.9 571.3 C972.1 570.6 972 570.9 972.2 570.3 C972.5 569.7 972.3 570 972.6 569.5 C972.9 569 972.8 569.2 973.1 568.8 C973.5 568.4 973.5 568.4 973.7 568.2" fill="none" stroke-width="1"/>
<path d="M983.8 556.7 C984.2 557 984.2 556.9 985 557.6 C985.8 558.2 985.4 557.9 986.2 558.6 C987 559.3 986.6 558.9 987.3 559.7 C988 560.6 987.7 560.1 988.3 561 C989 561.9 988.7 561.5 989.3 562.4 C989.9 563.4 989.6 562.9 990.2 564 C990.7 565 990.5 564.5 990.9 565.6 C991.4 566.7 991.2 566.1 991.6 567.3 C992 568.5 991.8 567.9 992.2 569.1 C992.5 570.3 992.4 569.7 992.6 570.9 C992.9 572.1 992.8 571.5 992.9 572.8 C993.1 574 993.1 573.4 993.2 574.6 C993.3 575.9 993.2 575.3 993.2 576.5 C993.3 577.8 993.3 577.2 993.2 578.4 C993.2 579.6 993.2 579 993.1 580.2 C992.9 581.4 993 580.8 992.8 582 C992.6 583.2 992.7 582.6 992.4 583.7 C992.1 584.8 992.3 584.3 991.9 585.4 C991.5 586.4 991.7 585.9 991.3 586.9 C990.8 587.9 991 587.4 990.5 588.3 C990 589.3 990.3 588.8 989.7 589.7 C989.1 590.5 989.4 590.1 988.8 590.8 C988.2 591.6 988.5 591.2 987.8 591.9 C987.1 592.5 987.1 592.5 986.7 592.8" fill="none" stroke-width="1"/>
<path d="M1038.6 545.9 A13.4 19.6 -8 1 0 1065.2 542.1 A13.4 19.6 -8 1 0 1038.6 545.9 Z" fill="none" stroke-width="2"/>
<path d="M1056.7 523.1 C1057.3 523.1 1057.3 523 1058.4 523 C1059.6 523.1 1059 523 1060.2 523.3 C1061.4 523.5 1060.8 523.4 1062 523.9 C1063.1 524.4 1062.6 524.1 1063.7 524.8 C1064.8 525.5 1064.3 525.1 1065.3 526 C1066.4 526.9 1065.9 526.4 1066.9 527.5 C1067.8 528.5 1067.4 528 1068.3 529.2 C1069.2 530.4 1068.7 529.8 1069.5 531.2 C1070.3 532.6 1070 531.9 1070.6 533.3 C1071.3 534.8 1071 534.1 1071.5 535.7 C1072 537.3 1071.8 536.5 1072.2 538.1 C1072.6 539.8 1072.4 538.9 1072.7 540.6 C1072.9 542.3 1072.8 541.5 1072.9 543.2 C1073 544.9 1073 544 1072.9 545.7 C1072.9 547.4 1072.9 546.6 1072.7 548.2 C1072.5 549.8 1072.6 549 1072.3 550.6 C1071.9 552.1 1072.1 551.4 1071.6 552.8 C1071.1 554.3 1071.4 553.6 1070.7 554.9 C1070.1 556.2 1070.4 555.6 1069.6 556.8 C1068.9 557.9 1069.3 557.4 1068.4 558.4 C1067.5 559.4 1068 558.9 1067 559.7 C1066 560.5 1066.5 560.2 1065.5 560.8 C1064.4 561.4 1065 561.1 1063.8 561.5 C1062.7 561.9 1062.7 561.8 1062.1 561.9" fill="none" stroke-width="2"/>
<path d="M1049.2 524.6 L1056.7 523.1" fill="none" stroke-width="2"/>
<path d="M1054.6 563.4 L1062.1 561.9" fill="none" stroke-width="2"/>
<path d="M1043.6 545.2 A8.4 14 -8 1 0 1060.2 542.8 A8.4 14 -8 1 0 1043.6 545.2 Z" fill="none" stroke-width="1.3"/>
<path d="M1057.9 553.9 C1057.6 554.2 1057.7 554.3 1057.2 554.7 C1056.8 555.2 1057 555 1056.5 555.3 C1056 555.7 1056.3 555.5 1055.7 555.7 C1055.2 555.9 1055.5 555.9 1054.9 555.9 C1054.4 556 1054.7 556 1054.1 555.9 C1053.5 555.8 1053.8 555.9 1053.2 555.6 C1052.7 555.4 1053 555.5 1052.4 555.1 C1051.8 554.8 1052.1 555 1051.6 554.5 C1051 554 1051.3 554.2 1050.8 553.6 C1050.3 553 1050.5 553.3 1050.1 552.6 C1049.6 551.8 1049.8 552.2 1049.4 551.4 C1049 550.6 1049.2 551 1048.8 550.1 C1048.4 549.2 1048.6 549.6 1048.3 548.6 C1048 547.7 1048.1 548.2 1047.9 547.1 C1047.7 546.1 1047.8 546.6 1047.6 545.6 C1047.4 544.5 1047.5 545.1 1047.4 544 C1047.3 543 1047.4 543.5 1047.3 542.4 C1047.3 541.4 1047.3 541.9 1047.4 540.9 C1047.5 539.9 1047.4 540.4 1047.6 539.5 C1047.7 538.5 1047.6 539 1047.8 538.1 C1048.1 537.2 1047.9 537.6 1048.2 536.9 C1048.5 536.1 1048.4 536.4 1048.7 535.8 C1049.1 535.1 1048.9 535.4 1049.3 534.8 C1049.7 534.3 1049.7 534.3 1050 534.1" fill="none" stroke-width="1"/>
<path d="M1054.4 528.3 C1054.8 528.5 1054.8 528.5 1055.5 528.9 C1056.3 529.3 1055.9 529.1 1056.7 529.6 C1057.4 530.2 1057 529.9 1057.7 530.5 C1058.4 531.2 1058.1 530.8 1058.7 531.6 C1059.4 532.4 1059.1 532 1059.7 532.8 C1060.3 533.7 1060 533.2 1060.5 534.2 C1061.1 535.1 1060.8 534.6 1061.3 535.7 C1061.8 536.7 1061.6 536.2 1062 537.2 C1062.4 538.3 1062.2 537.8 1062.6 538.9 C1062.9 540 1062.7 539.5 1063 540.6 C1063.3 541.8 1063.2 541.2 1063.3 542.4 C1063.5 543.6 1063.5 543 1063.6 544.2 C1063.7 545.4 1063.6 544.8 1063.6 546 C1063.7 547.1 1063.7 546.6 1063.6 547.7 C1063.5 548.9 1063.6 548.3 1063.4 549.4 C1063.3 550.6 1063.4 550 1063.2 551.1 C1062.9 552.2 1063.1 551.7 1062.7 552.7 C1062.4 553.7 1062.6 553.2 1062.2 554.2 C1061.8 555.1 1062 554.7 1061.6 555.5 C1061.1 556.4 1061.4 556 1060.8 556.7 C1060.3 557.5 1060.6 557.2 1060 557.8 C1059.4 558.5 1059.7 558.2 1059.1 558.7 C1058.5 559.3 1058.8 559 1058.1 559.5 C1057.4 559.9 1057.4 559.9 1057.1 560" fill="none" stroke-width="1"/>
<path d="M1060.3 525.8 C1060.7 526 1060.7 526 1061.5 526.6 C1062.2 527.2 1061.9 526.9 1062.6 527.6 C1063.4 528.3 1063 527.9 1063.7 528.7 C1064.4 529.5 1064.1 529.1 1064.7 530 C1065.4 530.9 1065.1 530.4 1065.7 531.4 C1066.3 532.3 1066 531.9 1066.5 532.9 C1067 533.9 1066.8 533.4 1067.3 534.5 C1067.7 535.6 1067.5 535 1067.9 536.1 C1068.3 537.3 1068.2 536.7 1068.5 537.9 C1068.8 539.1 1068.7 538.5 1068.9 539.7 C1069.2 540.9 1069.1 540.3 1069.2 541.5 C1069.4 542.7 1069.4 542.1 1069.5 543.3 C1069.6 544.6 1069.5 544 1069.5 545.2 C1069.6 546.4 1069.6 545.8 1069.5 547 C1069.4 548.2 1069.5 547.6 1069.4 548.8 C1069.2 550 1069.3 549.4 1069.1 550.5 C1068.9 551.7 1069 551.1 1068.7 552.2 C1068.4 553.3 1068.6 552.8 1068.2 553.8 C1067.8 554.9 1068 554.4 1067.6 555.4 C1067.1 556.3 1067.4 555.9 1066.9 556.8 C1066.3 557.7 1066.6 557.2 1066 558 C1065.5 558.9 1065.8 558.5 1065.1 559.2 C1064.5 559.9 1064.8 559.6 1064.2 560.2 C1063.5 560.9 1063.5 560.8 1063.1 561.1" fill="none" stroke-width="1"/>
<path d="M1007.6 559.6 A11.5 17.5 -8 1 0 1030.4 556.4 A11.5 17.5 -8 1 0 1007.6 559.6 Z" fill="none" stroke-width="2"/>
<path d="M1025.1 538.7 C1025.6 538.7 1025.6 538.6 1026.6 538.6 C1027.6 538.7 1027.1 538.6 1028.1 538.8 C1029.1 539.1 1028.6 538.9 1029.6 539.4 C1030.6 539.8 1030.1 539.6 1031.1 540.2 C1032 540.8 1031.6 540.5 1032.5 541.3 C1033.4 542.1 1033 541.6 1033.8 542.6 C1034.7 543.6 1034.3 543.1 1035.1 544.2 C1035.8 545.3 1035.5 544.7 1036.1 545.9 C1036.8 547.2 1036.5 546.5 1037.1 547.9 C1037.7 549.2 1037.4 548.5 1037.9 550 C1038.3 551.4 1038.1 550.7 1038.5 552.2 C1038.8 553.6 1038.7 552.9 1038.9 554.4 C1039.1 555.9 1039 555.2 1039.1 556.7 C1039.2 558.2 1039.2 557.4 1039.1 558.9 C1039.1 560.4 1039.1 559.7 1039 561.2 C1038.8 562.6 1038.9 561.9 1038.6 563.3 C1038.3 564.7 1038.5 564 1038 565.3 C1037.6 566.6 1037.8 566 1037.3 567.1 C1036.7 568.3 1037 567.7 1036.4 568.8 C1035.7 569.8 1036.1 569.3 1035.3 570.2 C1034.6 571.1 1034.9 570.7 1034.1 571.4 C1033.3 572.1 1033.7 571.8 1032.8 572.3 C1031.9 572.8 1032.4 572.6 1031.4 573 C1030.4 573.3 1030.4 573.2 1029.9 573.3" fill="none" stroke-width="2"/>
<path d="M1016.6 540.7 L1025.1 538.7" fill="none" stroke-width="2"/>
<path d="M1021.4 575.3 L1029.9 573.3" fill="none" stroke-width="2"/>
<path d="M1018.9 558 A0.1 0.1 -8 1 0 1019.1 558 A0.1 0.1 -8 1 0 1018.9 558 Z" fill="none" stroke-width="1.3"/>
<path d="M1024.1 539.8 C1024.5 540 1024.5 539.9 1025.4 540.3 C1026.2 540.6 1025.8 540.4 1026.6 540.9 C1027.4 541.4 1027 541.1 1027.8 541.7 C1028.6 542.3 1028.2 542 1029 542.7 C1029.7 543.4 1029.3 543 1030 543.9 C1030.7 544.7 1030.4 544.3 1031.1 545.2 C1031.7 546.1 1031.4 545.6 1032 546.6 C1032.6 547.7 1032.3 547.1 1032.8 548.2 C1033.3 549.3 1033.1 548.8 1033.5 549.9 C1033.9 551.1 1033.7 550.5 1034.1 551.7 C1034.4 552.9 1034.3 552.3 1034.6 553.5 C1034.8 554.8 1034.7 554.1 1034.9 555.4 C1035.1 556.7 1035 556 1035.1 557.3 C1035.2 558.6 1035.2 557.9 1035.1 559.2 C1035.1 560.4 1035.2 559.8 1035.1 561.1 C1035 562.3 1035 561.7 1034.9 562.9 C1034.7 564.1 1034.8 563.5 1034.5 564.6 C1034.2 565.8 1034.4 565.2 1034 566.3 C1033.7 567.3 1033.9 566.8 1033.4 567.8 C1033 568.8 1033.2 568.3 1032.7 569.2 C1032.2 570.1 1032.4 569.7 1031.9 570.5 C1031.3 571.3 1031.6 570.9 1030.9 571.6 C1030.3 572.3 1030.6 572 1029.9 572.6 C1029.2 573.1 1029.2 573.1 1028.8 573.3" fill="none" stroke-width="1.1"/>
<path d="M1002.3 562.7 A5.3 9.2 -8 1 0 1012.7 561.3 A5.3 9.2 -8 1 0 1002.3 562.7 Z" fill="none" stroke-width="1.7"/>
<path d="M1008.5 553 L1015 552" fill="none" stroke-width="1.7"/>
<path d="M1006.6 571 L1014 571.5" fill="none" stroke-width="1.7"/>
<path d="M1013.6 551.4 C1013.8 551.4 1013.8 551.4 1014.3 551.5 C1014.7 551.6 1014.5 551.5 1014.9 551.7 C1015.4 551.9 1015.2 551.8 1015.6 552.1 C1016.1 552.4 1015.9 552.2 1016.3 552.6 C1016.7 553 1016.5 552.8 1017 553.3 C1017.4 553.8 1017.2 553.5 1017.6 554.1 C1017.9 554.7 1017.8 554.4 1018.1 555 C1018.5 555.7 1018.3 555.3 1018.6 556 C1018.9 556.7 1018.8 556.4 1019.1 557.1 C1019.3 557.9 1019.2 557.5 1019.4 558.3 C1019.7 559.1 1019.6 558.7 1019.7 559.5 C1019.9 560.3 1019.8 559.9 1019.9 560.7 C1020.1 561.6 1020 561.2 1020.1 562 C1020.1 562.8 1020.1 562.4 1020.1 563.2 C1020.1 564.1 1020.1 563.7 1020.1 564.4 C1020 565.2 1020.1 564.9 1020 565.6 C1019.9 566.4 1019.9 566 1019.8 566.7 C1019.6 567.4 1019.7 567.1 1019.5 567.8 C1019.3 568.4 1019.4 568.1 1019.1 568.7 C1018.8 569.3 1019 569 1018.7 569.5 C1018.4 570 1018.5 569.8 1018.2 570.2 C1017.8 570.6 1018 570.5 1017.6 570.8 C1017.2 571.1 1017.4 571 1017 571.2 C1016.6 571.5 1016.6 571.4 1016.4 571.5" fill="none" stroke-width="1.3"/>
<path d="M1012 553.4 C1012.2 553.6 1012.2 553.5 1012.5 553.8 C1012.8 554.1 1012.6 553.9 1012.9 554.2 C1013.2 554.6 1013 554.4 1013.3 554.7 C1013.6 555.1 1013.4 554.9 1013.7 555.3 C1014 555.7 1013.8 555.5 1014.1 555.9 C1014.3 556.3 1014.2 556.1 1014.4 556.5 C1014.6 556.9 1014.5 556.7 1014.7 557.2 C1014.9 557.6 1014.8 557.4 1015 557.9 C1015.2 558.4 1015.1 558.1 1015.2 558.6 C1015.4 559.1 1015.3 558.9 1015.4 559.4 C1015.6 559.9 1015.5 559.6 1015.6 560.2 C1015.7 560.7 1015.7 560.4 1015.7 561 C1015.8 561.5 1015.8 561.2 1015.8 561.8 C1015.9 562.3 1015.9 562 1015.9 562.6 C1015.9 563.1 1015.9 562.8 1015.9 563.3 C1015.9 563.9 1015.9 563.6 1015.9 564.1 C1015.8 564.6 1015.9 564.4 1015.8 564.9 C1015.7 565.4 1015.8 565.1 1015.7 565.6 C1015.6 566.1 1015.6 565.9 1015.5 566.3 C1015.4 566.8 1015.5 566.6 1015.3 567 C1015.2 567.4 1015.3 567.2 1015.1 567.6 C1015 568 1015 567.8 1014.9 568.2 C1014.7 568.6 1014.8 568.4 1014.6 568.7 C1014.4 569.1 1014.3 569.1 1014.2 569.2" fill="none" stroke-width="0.9"/>
<path d="M1082 517.8 L1089.9 510.8 L1101.3 510.8 L1109.1 521.3 L1110 537 L1103 545.8 L1092.5 547.2 L1083.8 542.3" fill="none" stroke-width="2.1"/>
<path d="M1077.7 531.8 A10.6 17.6 -8 1 0 1098.7 528.8 A10.6 17.6 -8 1 0 1077.7 531.8 Z" fill="none" stroke-width="2.1"/>
<path d="M1089.9 510.8 L1096 518.6 L1109.1 521.3" fill="none" stroke-width="1.2"/>
<path d="M1096 518.6 L1098.6 538.8 L1110 537" fill="none" stroke-width="1.2"/>
<path d="M1098.6 538.8 L1092.5 547.2" fill="none" stroke-width="1.2"/>
<path d="M1083.8 531.7 A5 8.8 -8 1 0 1093.8 530.3 A5 8.8 -8 1 0 1083.8 531.7 Z" fill="none" stroke-width="1.4"/>
<path d="M1091.8 536.6 C1091.7 536.7 1091.7 536.8 1091.5 537 C1091.2 537.3 1091.3 537.2 1091.1 537.4 C1090.8 537.6 1090.9 537.5 1090.6 537.6 C1090.3 537.7 1090.5 537.6 1090.2 537.7 C1089.9 537.7 1090 537.7 1089.7 537.6 C1089.4 537.5 1089.5 537.6 1089.2 537.4 C1088.9 537.3 1089.1 537.4 1088.8 537.1 C1088.4 536.9 1088.6 537 1088.3 536.7 C1088 536.4 1088.1 536.5 1087.9 536.2 C1087.6 535.8 1087.7 536 1087.5 535.5 C1087.2 535.1 1087.3 535.3 1087.1 534.8 C1086.9 534.3 1087 534.6 1086.8 534 C1086.6 533.5 1086.7 533.7 1086.6 533.2 C1086.4 532.6 1086.5 532.9 1086.4 532.3 C1086.3 531.7 1086.3 532 1086.3 531.4 C1086.2 530.8 1086.2 531.1 1086.2 530.5 C1086.2 529.9 1086.2 530.2 1086.2 529.6 C1086.3 529.1 1086.2 529.4 1086.3 528.8 C1086.4 528.3 1086.4 528.5 1086.5 528 C1086.6 527.5 1086.5 527.8 1086.7 527.3 C1086.9 526.9 1086.8 527.1 1087 526.7 C1087.2 526.4 1087.1 526.5 1087.3 526.2 C1087.5 525.9 1087.4 526 1087.7 525.8 C1087.9 525.6 1088 525.6 1088.1 525.5" fill="none" stroke-width="1"/>
<path d="M1109.6 520.4 A14 18.6 -12 1 0 1137 514.6 A14 18.6 -12 1 0 1109.6 520.4 Z" fill="none" stroke-width="2.1"/>
<path d="M1135.1 493.7 C1135.7 493.7 1135.7 493.6 1136.9 493.6 C1138.2 493.6 1137.6 493.5 1138.8 493.8 C1140 494 1139.4 493.8 1140.7 494.2 C1141.9 494.7 1141.3 494.4 1142.5 495 C1143.7 495.7 1143.1 495.3 1144.2 496.1 C1145.4 496.9 1144.8 496.5 1145.9 497.5 C1146.9 498.4 1146.4 497.9 1147.4 499.1 C1148.4 500.2 1147.9 499.6 1148.8 500.9 C1149.6 502.2 1149.2 501.5 1150 502.9 C1150.7 504.3 1150.4 503.6 1151 505.1 C1151.6 506.6 1151.3 505.8 1151.8 507.4 C1152.2 508.9 1152 508.1 1152.3 509.7 C1152.6 511.3 1152.5 510.5 1152.6 512.1 C1152.8 513.7 1152.8 512.9 1152.7 514.5 C1152.7 516.1 1152.8 515.4 1152.6 516.9 C1152.4 518.4 1152.5 517.7 1152.2 519.2 C1151.8 520.6 1152 519.9 1151.5 521.3 C1151 522.7 1151.3 522.1 1150.7 523.3 C1150 524.6 1150.4 524 1149.6 525.1 C1148.8 526.2 1149.2 525.7 1148.3 526.7 C1147.4 527.7 1147.9 527.2 1146.9 528 C1145.9 528.8 1146.4 528.5 1145.3 529.1 C1144.3 529.7 1144.8 529.4 1143.7 529.8 C1142.5 530.2 1142.5 530.1 1141.9 530.3" fill="none" stroke-width="2.1"/>
<path d="M1119.6 499.3 L1134.8 493.8" fill="none" stroke-width="2.1"/>
<path d="M1127.2 535.7 L1142.4 530.2" fill="none" stroke-width="2.1"/>
<path d="M1115.6 519.8 A8.6 14.2 -12 1 0 1132.4 516.2 A8.6 14.2 -12 1 0 1115.6 519.8 Z" fill="none" stroke-width="1.4"/>
<path d="M1130.3 527.4 C1130.1 527.7 1130.1 527.8 1129.7 528.3 C1129.2 528.8 1129.5 528.6 1129 528.9 C1128.5 529.3 1128.7 529.2 1128.2 529.4 C1127.6 529.5 1127.9 529.5 1127.3 529.5 C1126.8 529.5 1127.1 529.6 1126.5 529.4 C1125.9 529.3 1126.2 529.4 1125.6 529.1 C1125 528.8 1125.2 528.9 1124.6 528.5 C1124.1 528 1124.3 528.3 1123.8 527.6 C1123.2 527 1123.5 527.4 1122.9 526.6 C1122.4 525.8 1122.6 526.2 1122.1 525.4 C1121.6 524.5 1121.9 524.9 1121.4 524 C1121 523 1121.2 523.5 1120.8 522.5 C1120.4 521.4 1120.6 521.9 1120.3 520.9 C1120 519.8 1120.1 520.3 1119.9 519.2 C1119.7 518.1 1119.8 518.6 1119.7 517.5 C1119.6 516.4 1119.6 516.9 1119.6 515.8 C1119.5 514.8 1119.5 515.3 1119.6 514.3 C1119.6 513.2 1119.6 513.7 1119.7 512.8 C1119.9 511.8 1119.8 512.2 1120 511.4 C1120.3 510.5 1120.1 510.9 1120.5 510.2 C1120.8 509.5 1120.6 509.8 1121 509.2 C1121.4 508.6 1121.2 508.8 1121.6 508.4 C1122.1 508 1121.9 508.1 1122.4 507.8 C1122.9 507.6 1122.9 507.6 1123.2 507.5" fill="none" stroke-width="1"/>
<path d="M1125 505.6 C1125.3 505.7 1125.3 505.6 1125.8 505.8 C1126.4 506 1126.1 505.9 1126.7 506.1 C1127.2 506.4 1126.9 506.3 1127.5 506.6 C1128 507 1127.7 506.8 1128.3 507.3 C1128.8 507.8 1128.5 507.5 1129 508.1 C1129.5 508.7 1129.3 508.4 1129.8 509 C1130.2 509.7 1130 509.3 1130.5 510.1 C1130.9 510.8 1130.7 510.4 1131.1 511.2 C1131.5 512 1131.3 511.6 1131.7 512.5 C1132 513.4 1131.9 512.9 1132.2 513.8 C1132.5 514.7 1132.3 514.3 1132.6 515.2 C1132.9 516.1 1132.8 515.7 1133 516.6 C1133.2 517.6 1133.1 517.1 1133.2 518.1 C1133.4 519 1133.3 518.6 1133.4 519.5 C1133.5 520.5 1133.4 520 1133.5 520.9 C1133.5 521.9 1133.5 521.4 1133.4 522.3 C1133.4 523.2 1133.4 522.8 1133.3 523.6 C1133.2 524.5 1133.3 524.1 1133.1 524.9 C1133 525.7 1133.1 525.3 1132.8 526 C1132.6 526.8 1132.7 526.4 1132.5 527.1 C1132.2 527.7 1132.3 527.4 1132 528 C1131.7 528.6 1131.8 528.3 1131.5 528.8 C1131.1 529.2 1131.3 529 1130.9 529.4 C1130.4 529.8 1130.4 529.7 1130.2 529.9" fill="none" stroke-width="1"/>
<path d="M1246 452.8 C1249.8 453 1248.3 451.8 1251.5 454.5 C1254.7 457.2 1253.7 455.8 1255.5 461 C1257.3 466.2 1257.3 464.7 1256.8 470 C1256.3 475.3 1257.3 473.8 1254 477 C1250.7 480.2 1251.2 479.5 1247 479.5 C1242.8 479.5 1244 479.8 1241.5 477 C1239 474.2 1241 474.7 1239.5 471 C1238 467.3 1238 470 1237 466 C1236 462 1235.6 463 1236.6 459 C1237.6 455 1236.9 456.1 1240 454 C1243.1 451.9 1242.2 452.6 1246 452.8Z" fill="none" stroke-width="2"/>
<path d="M1243.5 460 C1245.2 459.3 1245.5 459.7 1247.5 462 C1249.5 464.3 1249.2 463.7 1249.5 467 C1249.8 470.3 1249.8 470 1248.5 472 C1247.2 474 1247 473.7 1245.5 473 C1244 472.3 1244.2 472.3 1244 470 C1243.8 467.7 1245.5 468 1245 466 C1244.5 464 1243 466 1242.5 464 C1242 462 1241.8 460.7 1243.5 460Z" fill="none" stroke-width="1.4"/>
<path d="M1267.5 442.5 C1271.3 440.8 1273.2 439.1 1277.5 438.8 C1281.8 438.4 1280.9 438.9 1283.8 441.2 C1286.6 443.6 1286.6 443.5 1288.1 447.5 C1289.6 451.5 1289.9 452.2 1289.4 456.2 C1288.9 460.2 1289.1 459.8 1286.2 462.5 C1283.4 465.2 1282.8 464.8 1278.8 466.2 C1274.8 467.8 1274.8 468.5 1271.2 468.1 C1267.8 467.8 1268.1 467.5 1265.6 465 C1263.1 462.5 1263.2 462.8 1261.9 458.8 C1260.5 454.8 1260.3 453.7 1260.6 450 C1261 446.3 1261.3 447 1263.1 445 C1265 443 1263.7 444.2 1267.5 442.5Z" fill="none" stroke-width="2.1"/>
<path d="M1267.5 442.5 L1275 447.5 L1283.8 441.2" fill="none" stroke-width="1.2"/>
<path d="M1275 447.5 L1277.5 460 L1286.2 462.5" fill="none" stroke-width="1.2"/>
<path d="M1277.5 460 L1271.2 468.1" fill="none" stroke-width="1.2"/>
<path d="M1265 455.3 A4.6 6.6 -10 1 0 1274 453.7 A4.6 6.6 -10 1 0 1265 455.3 Z" fill="none" stroke-width="1.5"/>
<path d="M1270.3 450.6 C1270.4 450.7 1270.4 450.6 1270.7 450.8 C1270.9 450.9 1270.8 450.8 1271 451 C1271.2 451.2 1271.1 451.1 1271.3 451.4 C1271.6 451.6 1271.5 451.5 1271.6 451.7 C1271.8 452 1271.8 451.9 1271.9 452.2 C1272.1 452.5 1272 452.3 1272.2 452.7 C1272.3 453 1272.3 452.8 1272.4 453.2 C1272.5 453.6 1272.5 453.4 1272.6 453.8 C1272.7 454.2 1272.6 454 1272.7 454.4 C1272.8 454.7 1272.8 454.5 1272.8 454.9 C1272.9 455.3 1272.9 455.1 1272.9 455.5 C1272.9 455.9 1272.9 455.7 1272.9 456.1 C1272.9 456.5 1272.9 456.3 1272.8 456.7 C1272.8 457.1 1272.8 456.9 1272.8 457.2 C1272.7 457.6 1272.7 457.4 1272.6 457.7 C1272.5 458 1272.6 457.9 1272.5 458.2 C1272.3 458.5 1272.4 458.3 1272.2 458.6 C1272.1 458.8 1272.2 458.7 1272 458.9 C1271.8 459.1 1271.9 459 1271.7 459.2 C1271.5 459.3 1271.6 459.3 1271.4 459.4 C1271.2 459.5 1271.3 459.4 1271.1 459.5 C1270.9 459.6 1271 459.5 1270.8 459.6 C1270.5 459.6 1270.7 459.6 1270.4 459.5 C1270.2 459.5 1270.2 459.4 1270.1 459.4" fill="none" stroke-width="1.9"/>
<path d="M1187 264 C1184 265.3 1177.6 267.4 1174 269.5 C1170.4 271.6 1172.1 271 1171.5 273 C1170.9 275 1169.5 272.6 1171.5 278 C1173.5 283.4 1178 289.7 1180 296 C1182 302.3 1179.1 301.3 1180 305 C1180.9 308.7 1182.1 308.5 1184 312 C1185.9 315.5 1185.7 315.3 1188 320 C1190.3 324.7 1190.7 326.4 1194 332 C1197.3 337.6 1198.5 339.9 1202 344 C1205.5 348.1 1205.7 348.1 1209 349.5 C1212.3 350.9 1213 350.4 1216 350 C1219 349.6 1220.6 348.5 1222 348" fill="none" stroke-width="2.2"/>
<path d="M1190 262.5 C1189.8 263.7 1188.7 263.7 1189.2 267 C1189.7 270.3 1189.9 270.5 1192 275 C1194.1 279.5 1194.7 280 1197 284 C1199.3 288 1199.4 286.8 1200.5 290 C1201.6 293.2 1200.1 292.3 1201 296 C1201.9 299.7 1201.1 297.6 1204 304 C1206.9 310.4 1208 312.5 1212 320 C1216 327.5 1216.3 326.7 1219 332 C1221.7 337.3 1221.2 335.7 1222 340 C1222.8 344.3 1222 345.9 1222 348" fill="none" stroke-width="2.2"/>
<path d="M1190 262.5 C1192.4 261.4 1194.4 259.9 1198 259 C1201.6 258.1 1200 258.3 1202 259.5 C1204 260.7 1203.6 260.4 1204.5 263 C1205.4 265.6 1203.7 265 1205 268 C1206.3 271 1206.3 271.2 1209 273 C1211.7 274.8 1211 274.9 1214 274 C1217 273.1 1216.8 273 1219 270 C1221.2 267 1221.2 267.9 1221.5 264 C1221.8 260.1 1222 260.3 1220 257 C1218 253.7 1216.5 254.2 1215 253" fill="none" stroke-width="2.2"/>
<path d="M1204.5 257 C1207.3 255.8 1210.3 253.3 1215 252.5 C1219.7 251.7 1219.1 252 1222 254 C1224.9 256 1224.5 256.3 1226 260 C1227.5 263.7 1227 264 1227.5 268 C1228 272 1226.5 269.1 1228 275 C1229.5 280.9 1229.8 280.7 1233 290 C1236.2 299.3 1237.1 301.5 1240 310 C1242.9 318.5 1243.1 316.1 1244 322 C1244.9 327.9 1244.6 327.5 1243.5 332 C1242.4 336.5 1242.8 336.1 1240 339 C1237.2 341.9 1237.8 340.6 1233 343 C1228.2 345.4 1224.9 346.7 1222 348" fill="none" stroke-width="2.3"/>
<path d="M1216 254 C1217.8 255.2 1218.8 253.8 1221.5 257.5 C1224.2 261.2 1223 259.8 1224.2 265 C1225.4 270.2 1223.6 266 1225.2 273 C1226.8 280 1227.7 281.7 1229 286" fill="none" stroke-width="1.9"/>
<path d="M1200 283 L1222.5 274.5" fill="none" stroke-width="1.4"/>
<path d="M1211 291 L1227 285" fill="none" stroke-width="1.4"/>
<path d="M1203.5 296.6 A3.2 6.6 -20 1 0 1209.5 294.4 A3.2 6.6 -20 1 0 1203.5 296.6 Z" fill="none" stroke-width="1.5"/>
<path d="M1182 299 C1182.3 296.8 1185.7 296 1187 297.5 C1188.3 299 1190.3 305.8 1190 308 C1189.7 310.2 1186.3 312 1185 310.5 C1183.7 309 1181.7 301.2 1182 299Z" fill="none" stroke-width="1.7"/>
<path d="M1195 309 L1203 306" fill="none" stroke-width="1.4"/>
<path d="M1198.5 317 L1209 312.5" fill="none" stroke-width="1.4"/>
<path d="M1202.5 325 L1213 320" fill="none" stroke-width="1.4"/>
<path d="M1208 332.5 L1216 328" fill="none" stroke-width="1.4"/>
<path d="M1213 340 L1221 335.5" fill="none" stroke-width="1.4"/>
<path d="M1209 330.5 L1216.5 326.2" fill="none" stroke-width="1.4"/>
<path d="M1214 338 L1221.2 333.8" fill="none" stroke-width="1.4"/>
<path d="M1206 302 C1207.7 308 1207 308.7 1211 320 C1215 331.3 1215.7 330.7 1218 336" fill="none" stroke-width="1.3"/>
<path d="M1210 300 C1212.7 305 1213.7 305.7 1218 315 C1222.3 324.3 1221 321 1223 328 C1225 335 1224.3 329.3 1224 336 C1223.7 342.7 1222.7 344 1222 348" fill="none" stroke-width="1.5"/>
</g>
<g stroke="#000" stroke-linecap="round" stroke-linejoin="round">
<path d="M1197 205 L1197 256" fill="none" stroke-width="1.8"/>
<path d="M545.3 270 L586 270" fill="none" stroke-width="1.8"/>
<path d="M534.8 309.8 L582.8 309.8" fill="none" stroke-width="1.8"/>
<path d="M462.8 317.4 L490.3 317.4" fill="none" stroke-width="1.8"/>
<path d="M519.4 357.8 L569.6 356.8" fill="none" stroke-width="1.8"/>
<path d="M333.1 283.8 L333.1 311.9" fill="none" stroke-width="1.8"/>
<path d="M372.5 292 L373.5 326" fill="none" stroke-width="1.8"/>
<path d="M398.5 316.5 L399 344.5" fill="none" stroke-width="1.8"/>
<path d="M298.1 377.5 L298.1 401.3" fill="none" stroke-width="1.8"/>
<path d="M348.5 398.8 L349 426.3" fill="none" stroke-width="1.8"/>
<path d="M350 496.7 L350 521.7" fill="none" stroke-width="1.8"/>
<path d="M533.3 542.7 L568.3 542.7" fill="none" stroke-width="1.8"/>
<path d="M616.7 500 L650 500" fill="none" stroke-width="1.8"/>
<path d="M836 339.6 L836.7 390.4" fill="none" stroke-width="1.8"/>
<path d="M1242.3 420 L1243.1 450" fill="none" stroke-width="1.8"/>
<path d="M1279 407.3 L1279 434.6" fill="none" stroke-width="1.8"/>
<path d="M1205.8 512.2 L1205.8 553.5" fill="none" stroke-width="1.8"/>
<path d="M1141.5 535.3 L1141.9 569.4" fill="none" stroke-width="1.8"/>
<path d="M1103 548.7 L1103 580.8" fill="none" stroke-width="1.8"/>
<path d="M1067.7 563.3 L1068.4 595.6" fill="none" stroke-width="1.8"/>
<path d="M1028.6 578.1 L1029 610.5" fill="none" stroke-width="1.8"/>
<path d="M989.6 597.4 L990.1 628" fill="none" stroke-width="1.8"/>
<path d="M941.5 618.4 L941.5 643.8" fill="none" stroke-width="1.8"/>
<path d="M816.3 637.5 L816.3 672.5" fill="none" stroke-width="1.8"/>
<path d="M810.6 724 L851.3 723.5" fill="none" stroke-width="1.8"/>
<path d="M723.8 836.3 L723.8 848.8" fill="none" stroke-width="1.8"/>
<path d="M896.3 881.3 L896.8 920" fill="none" stroke-width="1.8"/>
<path d="M639 1020 L639 1058.8" fill="none" stroke-width="1.8"/>
<path d="M736.6 351.6 L737.2 351.8" fill="none" stroke-width="0.9"/>
<path d="M481.2 417.5 C486.2 418 489.7 418 500 419.5 C510.3 421 507.3 419.3 520 423.1 C532.7 426.9 535.5 427.1 547.5 433.8 C559.5 440.4 558.5 442.8 565 448.1 C571.5 453.4 570.1 452.2 571.9 453.8" fill="none" stroke-width="3.4"/>
<path d="M481.2 417.5 L479.5 426 L475 437.5 L438.5 508 L424.4 535" fill="none" stroke-width="2.8"/>
<path d="M424.4 535 L515.5 573.5" fill="none" stroke-width="3.4"/>
<path d="M571.9 453.8 L555.5 490 L528 545 L516.5 573" fill="none" stroke-width="2.8"/>
<path d="M566 466 C561.1 474 559.1 476.6 551.2 490 C543.4 503.4 545.4 500.8 542.5 506.2" fill="none" stroke-width="1.4"/>
<path d="M534.4 518.8 C530 526.2 528.8 524.2 521.2 541.2 C513.8 558.3 515 560.4 511.9 570" fill="none" stroke-width="1.6"/>
<path d="M556 480 L541 507" fill="none" stroke-width="1.3"/>
<path d="M565.5 449.5 L560 473" fill="none" stroke-width="4.6"/>
<path d="M483.5 421 L475 443.1 L556.2 473.8 L563 452" fill="none" stroke-width="2.2"/>
<path d="M484.5 420.8 C488.4 421.4 484.4 420.1 496.2 422.5 C508.1 424.9 503.8 423 520 428 C536.2 433 530.8 430.6 545 437.5 C559.2 444.4 556.7 445 562.5 448.8" fill="none" stroke-width="1.6"/>
<path d="M476.2 448.8 L552.5 478.8" fill="none" stroke-width="1.4"/>
<path d="M509.4 429.4 L538.1 440 L531.2 450.6 L510 441.9Z" fill="none" stroke-width="1.8"/>
<path d="M480.6 433.5 A8 10.6 20 1 0 495.6 439 A8 10.6 20 1 0 480.6 433.5 Z" fill="none" stroke-width="1.7"/>
<path d="M483.4 435.3 A4.6 6 20 1 0 492 438.4 A4.6 6 20 1 0 483.4 435.3 Z" fill="none" stroke-width="1.8"/>
<path d="M485.6 436.2 A2 2.6 20 1 0 489.4 437.5 A2 2.6 20 1 0 485.6 436.2 Z" fill="none" stroke-width="2.4"/>
<path d="M541.2 456 A8 10.6 20 1 0 556.3 461.5 A8 10.6 20 1 0 541.2 456 Z" fill="none" stroke-width="1.7"/>
<path d="M544 457.8 A4.6 6 20 1 0 552.7 460.9 A4.6 6 20 1 0 544 457.8 Z" fill="none" stroke-width="1.8"/>
<path d="M546.3 458.7 A2 2.6 20 1 0 550 460 A2 2.6 20 1 0 546.3 458.7 Z" fill="none" stroke-width="2.4"/>
<path d="M541 444 L546 446.5 L542.5 456" fill="none" stroke-width="1.6"/>
<path d="M550.5 444.5 L561 449" fill="none" stroke-width="1.3"/>
<path d="M438.8 507.8 L447.5 511.2" fill="none" stroke-width="1.4"/>
<path d="M457.5 516.2 L501.6 533.8" fill="none" stroke-width="1.4"/>
<path d="M508.8 536.9 L520.6 541.5" fill="none" stroke-width="1.4"/>
<path d="M435.6 522.3 A8 10 20 1 0 450.6 527.7 A8 10 20 1 0 435.6 522.3 Z" fill="none" stroke-width="1.7"/>
<path d="M439.7 523.8 A3.4 4 20 1 0 446.1 526.2 A3.4 4 20 1 0 439.7 523.8 Z" fill="none" stroke-width="1.6"/>
<path d="M445.2 523.6 C445.3 523.7 445.3 523.7 445.3 523.9 C445.4 524.1 445.4 524 445.5 524.2 C445.5 524.3 445.5 524.3 445.5 524.5 C445.6 524.7 445.6 524.6 445.6 524.8 C445.6 525 445.6 524.9 445.6 525.1 C445.6 525.3 445.6 525.2 445.5 525.4 C445.5 525.6 445.5 525.5 445.5 525.8 C445.4 526 445.5 525.9 445.4 526.1 C445.3 526.3 445.3 526.2 445.2 526.4 C445.1 526.6 445.2 526.5 445.1 526.7 C445 526.9 445 526.8 444.9 527 C444.8 527.1 444.8 527.1 444.7 527.2 C444.5 527.4 444.6 527.3 444.4 527.4 C444.3 527.6 444.4 527.5 444.2 527.6 C444 527.7 444.1 527.7 443.9 527.8 C443.8 527.8 443.8 527.8 443.7 527.9 C443.5 527.9 443.6 527.9 443.4 527.9 C443.2 527.9 443.3 527.9 443.1 527.9 C442.9 527.9 443 527.9 442.9 527.9 C442.7 527.9 442.8 527.9 442.6 527.8 C442.4 527.8 442.5 527.8 442.4 527.7 C442.2 527.6 442.3 527.7 442.2 527.6 C442 527.5 442.1 527.5 442 527.4 C441.8 527.3 441.8 527.2 441.8 527.2" fill="none" stroke-width="1.6"/>
<path d="M495.8 549.2 A8 10 20 1 0 510.8 554.6 A8 10 20 1 0 495.8 549.2 Z" fill="none" stroke-width="1.7"/>
<path d="M499.9 550.7 A3.4 4 20 1 0 506.3 553.1 A3.4 4 20 1 0 499.9 550.7 Z" fill="none" stroke-width="1.6"/>
<path d="M505.4 550.5 C505.5 550.6 505.5 550.6 505.5 550.8 C505.6 551 505.6 550.9 505.7 551.1 C505.7 551.2 505.7 551.2 505.7 551.4 C505.8 551.6 505.8 551.5 505.8 551.7 C505.8 551.9 505.8 551.8 505.8 552 C505.8 552.2 505.8 552.1 505.7 552.3 C505.7 552.5 505.7 552.4 505.7 552.7 C505.6 552.9 505.7 552.8 505.6 553 C505.5 553.2 505.5 553.1 505.4 553.3 C505.3 553.5 505.4 553.4 505.3 553.6 C505.2 553.8 505.2 553.7 505.1 553.9 C505 554 505 554 504.9 554.1 C504.7 554.3 504.8 554.2 504.6 554.3 C504.5 554.5 504.6 554.4 504.4 554.5 C504.2 554.6 504.3 554.6 504.1 554.7 C504 554.7 504 554.7 503.9 554.8 C503.7 554.8 503.8 554.8 503.6 554.8 C503.4 554.8 503.5 554.8 503.3 554.8 C503.1 554.8 503.2 554.8 503.1 554.8 C502.9 554.8 503 554.8 502.8 554.7 C502.6 554.7 502.7 554.7 502.6 554.6 C502.4 554.5 502.5 554.6 502.4 554.5 C502.2 554.4 502.3 554.4 502.2 554.3 C502 554.2 502 554.1 502 554.1" fill="none" stroke-width="1.6"/>
<path d="M567.8 483.5 A3 4.8 20 1 0 573.4 485.5 A3 4.8 20 1 0 567.8 483.5 Z" fill="none" stroke-width="2"/>
<path d="M571.9 479.2 L595.5 491.5" fill="none" stroke-width="2"/>
<path d="M567.5 488.9 L588.5 501.1" fill="none" stroke-width="2"/>
<path d="M576.3 482.2 C576.4 482.3 576.4 482.2 576.6 482.4 C576.8 482.6 576.7 482.5 576.8 482.7 C577 482.9 576.9 482.8 577 483.1 C577.2 483.3 577.1 483.2 577.2 483.4 C577.3 483.7 577.3 483.6 577.3 483.9 C577.4 484.2 577.4 484 577.4 484.3 C577.5 484.7 577.4 484.5 577.5 484.8 C577.5 485.2 577.5 485 577.5 485.3 C577.4 485.7 577.5 485.5 577.4 485.9 C577.4 486.2 577.4 486.1 577.3 486.4 C577.2 486.8 577.3 486.6 577.2 486.9 C577.1 487.3 577.1 487.1 577 487.5 C576.9 487.8 577 487.7 576.8 488 C576.7 488.3 576.7 488.2 576.6 488.5 C576.4 488.8 576.5 488.7 576.3 489 C576.1 489.3 576.2 489.1 576 489.4 C575.8 489.7 575.9 489.5 575.7 489.8 C575.4 490 575.5 489.9 575.3 490.1 C575.1 490.4 575.2 490.3 574.9 490.4 C574.7 490.6 574.8 490.5 574.6 490.7 C574.3 490.8 574.4 490.8 574.2 490.9 C573.9 491 574.1 490.9 573.8 491 C573.6 491.1 573.7 491 573.4 491.1 C573.2 491.1 573.2 491.1 573.1 491.1" fill="none" stroke-width="1.5"/>
<path d="M579.9 484.1 C580 484.2 580 484.2 580.2 484.4 C580.4 484.5 580.3 484.5 580.4 484.7 C580.6 484.9 580.5 484.8 580.6 485 C580.8 485.3 580.7 485.1 580.8 485.4 C580.9 485.7 580.9 485.5 580.9 485.8 C581 486.1 581 486 581 486.3 C581.1 486.6 581 486.4 581.1 486.8 C581.1 487.1 581.1 486.9 581.1 487.3 C581 487.6 581.1 487.5 581 487.8 C581 488.2 581 488 580.9 488.4 C580.8 488.7 580.9 488.5 580.8 488.9 C580.7 489.3 580.7 489.1 580.6 489.4 C580.5 489.8 580.6 489.6 580.4 489.9 C580.3 490.3 580.3 490.1 580.2 490.4 C580 490.8 580.1 490.6 579.9 490.9 C579.7 491.2 579.8 491.1 579.6 491.3 C579.4 491.6 579.5 491.5 579.3 491.7 C579 492 579.1 491.9 578.9 492.1 C578.7 492.3 578.8 492.2 578.5 492.4 C578.3 492.6 578.4 492.5 578.2 492.6 C577.9 492.8 578 492.7 577.8 492.8 C577.5 492.9 577.7 492.9 577.4 492.9 C577.2 493 577.3 493 577 493 C576.8 493 576.8 493 576.7 493" fill="none" stroke-width="1.5"/>
<path d="M583.5 486.1 C583.6 486.2 583.6 486.1 583.8 486.3 C584 486.5 583.9 486.4 584 486.6 C584.2 486.8 584.1 486.7 584.2 487 C584.4 487.2 584.3 487.1 584.4 487.3 C584.5 487.6 584.5 487.5 584.5 487.8 C584.6 488.1 584.6 487.9 584.6 488.2 C584.7 488.6 584.6 488.4 584.7 488.7 C584.7 489.1 584.7 488.9 584.7 489.2 C584.6 489.6 584.7 489.4 584.6 489.8 C584.6 490.1 584.6 490 584.5 490.3 C584.4 490.7 584.5 490.5 584.4 490.8 C584.3 491.2 584.3 491 584.2 491.4 C584.1 491.7 584.2 491.6 584 491.9 C583.9 492.2 583.9 492.1 583.8 492.4 C583.6 492.7 583.7 492.6 583.5 492.9 C583.3 493.2 583.4 493 583.2 493.3 C583 493.6 583.1 493.4 582.9 493.7 C582.6 493.9 582.7 493.8 582.5 494 C582.3 494.3 582.4 494.2 582.1 494.3 C581.9 494.5 582 494.4 581.8 494.6 C581.5 494.7 581.6 494.7 581.4 494.8 C581.1 494.9 581.3 494.8 581 494.9 C580.8 495 580.9 494.9 580.6 495 C580.4 495 580.4 495 580.3 495" fill="none" stroke-width="1.5"/>
<path d="M587.1 488 C587.2 488.1 587.2 488.1 587.4 488.3 C587.6 488.4 587.5 488.4 587.6 488.6 C587.8 488.8 587.7 488.7 587.8 488.9 C588 489.2 587.9 489 588 489.3 C588.1 489.6 588.1 489.4 588.1 489.7 C588.2 490 588.2 489.9 588.2 490.2 C588.3 490.5 588.2 490.3 588.3 490.7 C588.3 491 588.3 490.8 588.3 491.2 C588.2 491.5 588.3 491.4 588.2 491.7 C588.2 492.1 588.2 491.9 588.1 492.3 C588 492.6 588.1 492.4 588 492.8 C587.9 493.2 587.9 493 587.8 493.3 C587.7 493.7 587.8 493.5 587.6 493.8 C587.5 494.2 587.5 494 587.4 494.3 C587.2 494.7 587.3 494.5 587.1 494.8 C586.9 495.1 587 495 586.8 495.2 C586.6 495.5 586.7 495.4 586.5 495.6 C586.2 495.9 586.3 495.8 586.1 496 C585.9 496.2 586 496.1 585.7 496.3 C585.5 496.5 585.6 496.4 585.4 496.5 C585.1 496.7 585.2 496.6 585 496.7 C584.7 496.8 584.9 496.8 584.6 496.8 C584.4 496.9 584.5 496.9 584.2 496.9 C584 496.9 584 496.9 583.9 496.9" fill="none" stroke-width="1.5"/>
<path d="M590.7 490 C590.8 490.1 590.8 490 591 490.2 C591.2 490.4 591.1 490.3 591.2 490.5 C591.4 490.7 591.3 490.6 591.4 490.9 C591.6 491.1 591.5 491 591.6 491.2 C591.7 491.5 591.7 491.4 591.7 491.7 C591.8 492 591.8 491.8 591.8 492.1 C591.9 492.5 591.8 492.3 591.9 492.6 C591.9 493 591.9 492.8 591.9 493.1 C591.8 493.5 591.9 493.3 591.8 493.7 C591.8 494 591.8 493.9 591.7 494.2 C591.6 494.6 591.7 494.4 591.6 494.7 C591.5 495.1 591.5 494.9 591.4 495.3 C591.3 495.6 591.4 495.5 591.2 495.8 C591.1 496.1 591.1 496 591 496.3 C590.8 496.6 590.9 496.5 590.7 496.8 C590.5 497.1 590.6 496.9 590.4 497.2 C590.2 497.5 590.3 497.3 590.1 497.6 C589.8 497.8 589.9 497.7 589.7 497.9 C589.5 498.2 589.6 498.1 589.3 498.2 C589.1 498.4 589.2 498.3 589 498.5 C588.7 498.6 588.8 498.6 588.6 498.7 C588.3 498.8 588.5 498.7 588.2 498.8 C588 498.9 588.1 498.8 587.8 498.9 C587.6 498.9 587.6 498.9 587.5 498.9" fill="none" stroke-width="1.5"/>
<path d="M594.3 491.9 C594.4 492 594.4 492 594.6 492.2 C594.8 492.3 594.7 492.3 594.8 492.5 C595 492.7 594.9 492.6 595 492.8 C595.2 493.1 595.1 492.9 595.2 493.2 C595.3 493.5 595.3 493.3 595.3 493.6 C595.4 493.9 595.4 493.8 595.4 494.1 C595.5 494.4 595.4 494.2 595.5 494.6 C595.5 494.9 595.5 494.7 595.5 495.1 C595.4 495.4 595.5 495.3 595.4 495.6 C595.4 496 595.4 495.8 595.3 496.2 C595.2 496.5 595.3 496.3 595.2 496.7 C595.1 497.1 595.1 496.9 595 497.2 C594.9 497.6 595 497.4 594.8 497.7 C594.7 498.1 594.7 497.9 594.6 498.2 C594.4 498.6 594.5 498.4 594.3 498.7 C594.1 499 594.2 498.9 594 499.1 C593.8 499.4 593.9 499.3 593.7 499.5 C593.4 499.8 593.5 499.7 593.3 499.9 C593.1 500.1 593.2 500 592.9 500.2 C592.7 500.4 592.8 500.3 592.6 500.4 C592.3 500.6 592.4 500.5 592.2 500.6 C591.9 500.7 592.1 500.7 591.8 500.7 C591.6 500.8 591.7 500.8 591.4 500.8 C591.2 500.8 591.2 500.8 591.1 500.8" fill="none" stroke-width="1.5"/>
<path d="M588.5 501.1 C589.5 498.5 591.6 493.8 593.7 491.5 C595.8 489.2 596.2 489.2 599 489.7 C601.8 490.3 605.2 492.2 607.7 494.1 C610.3 496 611.1 497.1 611.7 499.4 C612.3 501.6 611.9 503 610.8 505.5 C609.7 507.9 608 510.1 606 511.6 C604 513.1 603.2 513.3 600.7 512.9 C598.3 512.6 596.2 511.5 593.7 509.9 C591.3 508.2 589.5 506.4 588.5 504.6 C587.4 502.9 587.4 503.7 588.5 501.1Z" fill="none" stroke-width="2.4"/>
<path d="M601.1 502.2 A4.3 6.4 20 1 0 609.1 505.2 A4.3 6.4 20 1 0 601.1 502.2 Z" fill="none" stroke-width="1.7"/>
<path d="M598.3 493.8 C598.5 493.8 598.5 493.8 598.8 494 C599.2 494.1 599 494 599.3 494.2 C599.6 494.5 599.5 494.3 599.7 494.6 C600 494.9 599.9 494.8 600.1 495.1 C600.3 495.5 600.2 495.3 600.4 495.7 C600.5 496.1 600.5 495.9 600.6 496.3 C600.7 496.8 600.6 496.6 600.7 497.1 C600.8 497.6 600.7 497.3 600.8 497.8 C600.8 498.4 600.8 498.1 600.7 498.6 C600.7 499.2 600.7 498.9 600.6 499.5 C600.5 500 600.6 499.8 600.4 500.3 C600.3 500.9 600.4 500.6 600.2 501.1 C600 501.7 600.1 501.4 599.8 501.9 C599.6 502.5 599.7 502.2 599.4 502.7 C599.2 503.2 599.3 503 599 503.4 C598.7 503.9 598.8 503.6 598.5 504 C598.1 504.4 598.3 504.3 598 504.6 C597.6 504.9 597.8 504.8 597.4 505.1 C597 505.3 597.2 505.2 596.8 505.4 C596.4 505.6 596.6 505.6 596.2 505.7 C595.8 505.8 596 505.8 595.6 505.8 C595.3 505.9 595.4 505.9 595.1 505.9 C594.7 505.8 594.9 505.9 594.5 505.8 C594.2 505.7 594.2 505.6 594 505.6" fill="none" stroke-width="1.6"/>
<path d="M599 489.7 L602.5 495" fill="none" stroke-width="1.4"/>
<path d="M600.7 512.9 L601.6 509.9" fill="none" stroke-width="1.4"/>
<path d="M520.5 268.5 C520.2 266.7 522.4 262 524 260.5 C525.6 259 527.5 258.9 530 259.5 C532.5 260.1 537.2 262.4 539 264 C540.8 265.6 541 267.1 541 269 C541 270.9 540.2 274.2 539 275.5 C537.8 276.8 535.7 277.2 533.5 276.5 C531.3 275.8 528.2 272.8 526 271.5 C523.8 270.2 520.8 270.3 520.5 268.5Z" fill="none" stroke-width="2.4"/>
<path d="M522 267.8 L528 265 L536 267.2 L540.5 268.8" fill="none" stroke-width="1.6"/>
<path d="M528 265 L527.2 271.2" fill="none" stroke-width="1.5"/>
<path d="M536 267.2 L534.2 276.2" fill="none" stroke-width="1.5"/>
<path d="M524.6 274.8 A4.6 1.9 18 1 0 533.4 277.6 A4.6 1.9 18 1 0 524.6 274.8 Z" fill="none" stroke-width="1.7"/>
<path d="M523.5 278.9 A4.3 1.9 18 1 0 531.7 281.5 A4.3 1.9 18 1 0 523.5 278.9 Z" fill="none" stroke-width="1.7"/>
<path d="M522.3 283 A4 1.9 18 1 0 529.9 285.4 A4 1.9 18 1 0 522.3 283 Z" fill="none" stroke-width="1.7"/>
<path d="M521.1 287.1 A3.7 1.9 18 1 0 528.1 289.3 A3.7 1.9 18 1 0 521.1 287.1 Z" fill="none" stroke-width="1.7"/>
<path d="M520 290.9 A3.4 1.9 18 1 0 526.4 293.1 A3.4 1.9 18 1 0 520 290.9 Z" fill="none" stroke-width="1.7"/>
<path d="M518.5 292.5 L527 295 L520 298.8Z" fill="none" stroke-width="2"/>
<path d="M503.5 302.9 A14 6.2 18 1 0 530.1 311.5 A14 6.2 18 1 0 503.5 302.9 Z" fill="none" stroke-width="2.5"/>
<path d="M511.3 305.8 A5.2 2.3 18 1 0 521.1 309 A5.2 2.3 18 1 0 511.3 305.8 Z" fill="none" stroke-width="1.8"/>
<path d="M523.6 309.4 L528.2 310.9" fill="none" stroke-width="1.5"/>
<path d="M522.2 310.6 L525.9 312.8" fill="none" stroke-width="1.5"/>
<path d="M519.4 310.9 L521.2 313.2" fill="none" stroke-width="1.5"/>
<path d="M515.8 310.2 L515.3 312" fill="none" stroke-width="1.5"/>
<path d="M512.5 308.7 L509.8 309.5" fill="none" stroke-width="1.5"/>
<path d="M510.4 306.8 L506.1 306.4" fill="none" stroke-width="1.5"/>
<path d="M510 305 L505.4 303.5" fill="none" stroke-width="1.5"/>
<path d="M511.4 303.8 L507.7 301.6" fill="none" stroke-width="1.5"/>
<path d="M514.2 303.5 L512.4 301.2" fill="none" stroke-width="1.5"/>
<path d="M517.8 304.2 L518.3 302.4" fill="none" stroke-width="1.5"/>
<path d="M521.1 305.7 L523.8 304.9" fill="none" stroke-width="1.5"/>
<path d="M523.2 307.6 L527.5 308" fill="none" stroke-width="1.5"/>
<path d="M495.8 321 A14 6 19 1 0 522.2 330.2 A14 6 19 1 0 495.8 321 Z" fill="none" stroke-width="2.5"/>
<path d="M502.9 323.6 A5.4 2.6 19 1 0 513.1 327.2 A5.4 2.6 19 1 0 502.9 323.6 Z" fill="none" stroke-width="1.7"/>
<path d="M505.9 324.8 A2.6 1.2 19 1 0 510.9 326.4 A2.6 1.2 19 1 0 505.9 324.8 Z" fill="none" stroke-width="1.6"/>
<path d="M477.7 337.2 L506.5 346.5 L513.5 358.5 L512.2 363 L508.2 365 L498.5 360 L493.5 355.2 L486.8 358.8 L484 357.5 L478.8 344.5Z" fill="none" stroke-width="2.5"/>
<path d="M480.5 342.5 L504 351 L506.5 346.5" fill="none" stroke-width="1.8"/>
<path d="M504 351 L508 360" fill="none" stroke-width="1.5"/>
<path d="M485 347.5 L487 354" fill="none" stroke-width="1.5"/>
<path d="M493.5 353 L500 355 L499.5 358.8 L494 357.5Z" fill="#000" stroke-width="1.5"/>
<path d="M505.5 354.5 L509 362" fill="none" stroke-width="1.4"/>
<path d="M328.1 326.2 C328.5 323.5 328.9 320.3 331.2 317.5 C333.6 314.7 336.2 312.8 340 312.2 C343.8 311.8 346.9 312.4 350 315 C353.1 317.6 354.9 321.5 355.6 325 C356.4 328.5 355.9 329.6 353.8 332.5 C351.6 335.4 348.8 338.6 345 339.4 C341.2 340.1 338.1 337.9 335 336.2 C331.9 334.6 330.8 333.2 329.4 331.2 C328 329.2 327.8 329 328.1 326.2Z" fill="none" stroke-width="2.5"/>
<path d="M345 315 L348.1 325 L343.1 333.8" fill="none" stroke-width="1.5"/>
<path d="M348.1 325 L355 324.4" fill="none" stroke-width="1.5"/>
<path d="M343.1 333.8 L345.6 338.8" fill="none" stroke-width="1.4"/>
<path d="M345 315 L349.5 315" fill="none" stroke-width="1.3"/>
<path d="M335.8 318.7 C336.1 318.6 336.1 318.5 336.5 318.5 C337 318.4 336.8 318.4 337.2 318.5 C337.7 318.5 337.5 318.5 337.9 318.6 C338.3 318.7 338.1 318.6 338.5 318.9 C338.9 319.1 338.7 319 339.1 319.3 C339.4 319.6 339.3 319.5 339.5 319.9 C339.8 320.3 339.7 320 339.9 320.5 C340.1 321 340 320.7 340.1 321.2 C340.3 321.8 340.2 321.5 340.2 322 C340.3 322.6 340.3 322.3 340.2 322.9 C340.2 323.4 340.2 323.1 340.1 323.7 C340 324.2 340 324 339.8 324.5 C339.6 325 339.7 324.7 339.4 325.2 C339.2 325.6 339.3 325.4 339 325.8 C338.6 326.2 338.8 326 338.4 326.4 C338 326.7 338.2 326.5 337.8 326.8 C337.3 327 337.5 326.9 337.1 327 C336.6 327.2 336.9 327.1 336.4 327.1 C335.9 327.2 336.2 327.2 335.7 327.1 C335.3 327 335.5 327.1 335.1 326.9 C334.6 326.7 334.8 326.8 334.5 326.6 C334.1 326.3 334.3 326.5 333.9 326.1 C333.6 325.7 333.8 325.9 333.5 325.5 C333.3 325.1 333.3 325 333.2 324.8" fill="none" stroke-width="1.7"/>
<path d="M356.7 338.4 A11.3 13 20 1 0 377.9 346.2 A11.3 13 20 1 0 356.7 338.4 Z" fill="none" stroke-width="2.4"/>
<path d="M380 340.6 C380 341.2 380.1 341.2 380.1 342.2 C380.1 343.3 380.1 342.7 380 343.8 C379.9 344.8 380 344.3 379.8 345.4 C379.5 346.4 379.7 345.9 379.3 346.9 C379 347.9 379.2 347.4 378.8 348.4 C378.3 349.4 378.6 348.9 378 349.8 C377.5 350.7 377.8 350.3 377.1 351.1 C376.5 352 376.8 351.6 376.1 352.3 C375.4 353.1 375.7 352.7 375 353.4 C374.2 354.1 374.6 353.8 373.7 354.3 C372.9 354.9 373.3 354.6 372.4 355.1 C371.5 355.5 372 355.3 371 355.6 C370.1 355.9 370.6 355.8 369.6 356 C368.7 356.2 369.2 356.1 368.2 356.2 C367.3 356.3 367.7 356.3 366.8 356.2 C365.9 356.1 366.3 356.2 365.4 356 C364.5 355.8 364.9 355.9 364.1 355.6 C363.2 355.3 363.6 355.5 362.8 355 C362 354.6 362.4 354.8 361.6 354.2 C360.9 353.7 361.2 354 360.5 353.3 C359.9 352.7 360.2 353 359.6 352.3 C359 351.5 359.3 351.9 358.8 351 C358.3 350.2 358.5 350.6 358.1 349.7 C357.7 348.8 357.8 348.8 357.6 348.3" fill="none" stroke-width="1.6"/>
<path d="M363.2 339.2 A3.4 4.2 20 1 0 369.6 341.6 A3.4 4.2 20 1 0 363.2 339.2 Z" fill="none" stroke-width="1.8"/>
<path d="M368 339.3 C368 339.4 368.1 339.4 368.1 339.5 C368.2 339.7 368.2 339.6 368.2 339.8 C368.3 340 368.2 339.9 368.3 340.1 C368.3 340.3 368.3 340.2 368.3 340.4 C368.3 340.6 368.3 340.5 368.3 340.7 C368.2 341 368.2 340.9 368.2 341.1 C368.1 341.3 368.2 341.2 368.1 341.4 C368 341.6 368.1 341.5 368 341.7 C367.8 341.9 367.9 341.8 367.8 342 C367.7 342.2 367.7 342.1 367.6 342.2 C367.4 342.4 367.5 342.3 367.4 342.5 C367.2 342.6 367.3 342.5 367.1 342.6 C367 342.8 367.1 342.7 366.9 342.8 C366.7 342.9 366.8 342.8 366.6 342.9 C366.5 342.9 366.5 342.9 366.4 342.9 C366.2 342.9 366.3 342.9 366.1 342.9 C366 342.9 366 342.9 365.9 342.9 C365.7 342.8 365.8 342.9 365.7 342.8 C365.5 342.7 365.6 342.7 365.5 342.6 C365.3 342.5 365.4 342.6 365.3 342.4 C365.2 342.3 365.2 342.4 365.1 342.2 C365.1 342.1 365.1 342.1 365 342 C365 341.8 365 341.9 365 341.7 C364.9 341.5 364.9 341.5 364.9 341.4" fill="none" stroke-width="1.7"/>
<path d="M371.1 346.2 C371 346.3 371 346.3 370.8 346.6 C370.5 346.9 370.6 346.8 370.4 347 C370.1 347.3 370.3 347.2 370 347.4 C369.7 347.7 369.8 347.5 369.6 347.8 C369.3 348 369.4 347.9 369.1 348.1 C368.8 348.3 369 348.2 368.7 348.4 C368.4 348.6 368.5 348.5 368.2 348.6 C367.9 348.8 368.1 348.7 367.8 348.9 C367.4 349 367.6 348.9 367.3 349 C367 349.1 367.1 349.1 366.8 349.2 C366.5 349.3 366.6 349.2 366.3 349.3 C366 349.3 366.1 349.3 365.8 349.3 C365.5 349.3 365.7 349.3 365.3 349.3 C365 349.3 365.2 349.3 364.9 349.3 C364.5 349.3 364.7 349.3 364.4 349.2 C364.1 349.2 364.2 349.2 363.9 349.1 C363.6 349 363.8 349.1 363.5 349 C363.2 348.9 363.3 348.9 363 348.8 C362.8 348.7 362.9 348.7 362.6 348.6 C362.4 348.4 362.5 348.5 362.2 348.3 C362 348.1 362.1 348.2 361.9 348 C361.6 347.8 361.7 347.9 361.5 347.7 C361.3 347.4 361.4 347.6 361.2 347.3 C361 347 361 347 360.9 346.9" fill="none" stroke-width="1.3"/>
<path d="M295 415 C295 411.2 296.5 407.6 298.8 405 C301 402.4 303.2 401.6 306.2 401.9 C309.2 402.1 311.5 403.9 313.8 406.2 C316 408.6 317.2 410.5 317.5 413.8 C317.8 417 317 419.8 315 422.5 C313 425.2 310.8 427.2 307.5 427.5 C304.2 427.8 301.2 426.2 298.8 423.8 C296.2 421.2 295 418.8 295 415Z" fill="none" stroke-width="2.5"/>
<path d="M310 406.2 L306.9 420 L315 422.5" fill="none" stroke-width="1.5"/>
<path d="M306.9 420 L301.2 423.5" fill="none" stroke-width="1.5"/>
<path d="M317.5 414.5 L337.5 423.8 L340 427.5 L338.1 433.1 L333.8 435 L315.2 425.2" fill="none" stroke-width="2.3"/>
<path d="M321.2 416.5 L318.5 426.2" fill="none" stroke-width="1.5"/>
<path d="M328.1 419.6 L325.4 429.7" fill="none" stroke-width="1.5"/>
<path d="M334.4 422.4 L331.6 432.8" fill="none" stroke-width="1.5"/>
<path d="M344.6 434.9 A10.8 12.4 20 1 0 364.8 442.3 A10.8 12.4 20 1 0 344.6 434.9 Z" fill="none" stroke-width="2.4"/>
<path d="M366.9 437.2 C366.9 437.7 367 437.7 367 438.7 C367 439.7 367 439.2 366.9 440.2 C366.8 441.2 366.9 440.7 366.7 441.7 C366.5 442.7 366.6 442.2 366.3 443.2 C365.9 444.1 366.1 443.7 365.7 444.6 C365.3 445.5 365.5 445.1 365 445.9 C364.5 446.8 364.7 446.4 364.1 447.2 C363.5 448 363.9 447.6 363.2 448.3 C362.5 449.1 362.8 448.7 362.1 449.3 C361.3 450 361.7 449.7 360.9 450.2 C360.1 450.7 360.5 450.5 359.7 450.9 C358.8 451.3 359.2 451.2 358.3 451.5 C357.5 451.8 357.9 451.6 357 451.8 C356.1 452 356.5 451.9 355.6 452 C354.7 452.1 355.2 452.1 354.3 452 C353.4 451.9 353.8 452 353 451.8 C352.1 451.6 352.5 451.7 351.7 451.4 C350.9 451.1 351.3 451.3 350.5 450.9 C349.7 450.4 350.1 450.7 349.3 450.1 C348.6 449.6 349 449.9 348.3 449.3 C347.7 448.6 348 449 347.4 448.2 C346.8 447.5 347.1 447.9 346.6 447.1 C346.1 446.3 346.4 446.7 346 445.8 C345.6 444.9 345.7 444.9 345.5 444.5" fill="none" stroke-width="1.6"/>
<path d="M350.2 436.4 A3.4 4.2 20 1 0 356.6 438.8 A3.4 4.2 20 1 0 350.2 436.4 Z" fill="none" stroke-width="1.8"/>
<path d="M355 436.5 C355 436.6 355.1 436.6 355.1 436.7 C355.2 436.9 355.2 436.8 355.2 437 C355.3 437.2 355.2 437.1 355.3 437.3 C355.3 437.5 355.3 437.4 355.3 437.6 C355.3 437.8 355.3 437.7 355.3 437.9 C355.2 438.2 355.2 438.1 355.2 438.3 C355.1 438.5 355.2 438.4 355.1 438.6 C355 438.8 355.1 438.7 355 438.9 C354.8 439.1 354.9 439 354.8 439.2 C354.7 439.4 354.7 439.3 354.6 439.4 C354.4 439.6 354.5 439.5 354.4 439.7 C354.2 439.8 354.3 439.7 354.1 439.8 C354 440 354.1 439.9 353.9 440 C353.7 440.1 353.8 440 353.6 440.1 C353.5 440.1 353.5 440.1 353.4 440.1 C353.2 440.1 353.3 440.1 353.1 440.1 C353 440.1 353 440.1 352.9 440.1 C352.7 440 352.8 440.1 352.7 440 C352.5 439.9 352.6 439.9 352.5 439.8 C352.3 439.7 352.4 439.8 352.3 439.6 C352.2 439.5 352.2 439.6 352.1 439.4 C352.1 439.3 352.1 439.3 352 439.2 C352 439 352 439.1 352 438.9 C351.9 438.7 351.9 438.7 351.9 438.6" fill="none" stroke-width="1.7"/>
<path d="M358.2 442.9 C358.1 443 358.1 443.1 357.9 443.3 C357.7 443.6 357.8 443.5 357.6 443.7 C357.3 444 357.4 443.8 357.2 444.1 C356.9 444.3 357.1 444.2 356.8 444.4 C356.5 444.6 356.7 444.5 356.4 444.7 C356.1 444.9 356.3 444.8 356 445 C355.7 445.1 355.9 445.1 355.6 445.2 C355.3 445.3 355.4 445.3 355.1 445.4 C354.8 445.5 355 445.5 354.7 445.6 C354.4 445.7 354.5 445.6 354.2 445.7 C353.9 445.8 354.1 445.7 353.8 445.8 C353.5 445.8 353.6 445.8 353.4 445.8 C353.1 445.9 353.2 445.9 352.9 445.8 C352.6 445.8 352.8 445.9 352.5 445.8 C352.2 445.8 352.3 445.8 352 445.8 C351.7 445.7 351.9 445.7 351.6 445.7 C351.3 445.6 351.5 445.6 351.2 445.5 C350.9 445.4 351 445.5 350.8 445.3 C350.5 445.2 350.7 445.3 350.4 445.1 C350.2 445 350.3 445.1 350 444.9 C349.8 444.7 349.9 444.8 349.7 444.6 C349.5 444.4 349.6 444.5 349.4 444.3 C349.2 444.1 349.3 444.2 349.1 444 C348.9 443.7 348.9 443.7 348.8 443.6" fill="none" stroke-width="1.3"/>
<path d="M382.2 353.3 A8.6 11.8 25 1 0 397.8 360.5 A8.6 11.8 25 1 0 382.2 353.3 Z" fill="none" stroke-width="2.4"/>
<path d="M389.4 352.5 C389.6 352.5 389.7 352.5 390.1 352.5 C390.5 352.5 390.3 352.5 390.7 352.6 C391.1 352.7 390.9 352.6 391.2 352.8 C391.6 353 391.4 352.9 391.7 353.2 C392 353.4 391.9 353.3 392.2 353.6 C392.4 353.9 392.3 353.8 392.5 354.2 C392.7 354.5 392.6 354.3 392.7 354.8 C392.8 355.2 392.8 355 392.8 355.4 C392.8 355.9 392.8 355.7 392.8 356.1 C392.7 356.6 392.8 356.4 392.7 356.8 C392.5 357.3 392.6 357.1 392.4 357.5 C392.2 357.9 392.3 357.7 392.1 358.1 C391.8 358.5 392 358.3 391.6 358.7 C391.3 359 391.5 358.9 391.1 359.2 C390.8 359.4 390.9 359.3 390.6 359.5 C390.2 359.7 390.4 359.6 389.9 359.8 C389.5 359.9 389.7 359.9 389.3 359.9 C388.9 359.9 389.1 359.9 388.7 359.9 C388.3 359.8 388.5 359.9 388.1 359.7 C387.7 359.6 387.9 359.7 387.6 359.5 C387.2 359.2 387.4 359.4 387.1 359.1 C386.8 358.8 386.9 358.9 386.7 358.6 C386.5 358.2 386.6 358.4 386.4 358 C386.3 357.6 386.3 357.6 386.2 357.4" fill="none" stroke-width="1.7"/>
<path d="M380.6 363.8 C378.8 367.9 377.9 370 375 376.2 C372.1 382.5 372.9 380.4 371.9 382.5" fill="none" stroke-width="2"/>
<path d="M396.2 366.9 C393.8 369 392.9 367.9 388.8 373.1 C384.6 378.3 386.2 377.7 383.8 382.5 C381.2 387.3 382.1 385.8 381.2 387.5" fill="none" stroke-width="2"/>
<path d="M378.8 365 L386.2 371.2" fill="none" stroke-width="1.4"/>
<path d="M374.4 376.2 L383.8 377.5" fill="none" stroke-width="1.6"/>
<path d="M372.2 382.5 L381.9 384" fill="none" stroke-width="1.6"/>
<path d="M375 377.5 L381.2 383.1" fill="none" stroke-width="1.3"/>
<path d="M380 377.2 L375.6 382.8" fill="none" stroke-width="1.3"/>
<path d="M372.5 383.8 C370.8 387.5 370.6 387.9 367.5 395 C364.4 402.1 364.4 400 363.1 405 C361.9 410 361.5 402.5 363.8 410 C366 417.5 367.9 421.7 370 427.5" fill="none" stroke-width="2"/>
<path d="M379.4 388.1 C377.9 390.8 377.9 391 375 396.2 C372.1 401.5 371.9 399.2 370.6 403.8 C369.4 408.3 369.4 403.3 371.2 410 C373.1 416.7 374.6 419.2 376.2 423.8" fill="none" stroke-width="2"/>
<path d="M369 426.2 L376.9 423.5" fill="none" stroke-width="1.6"/>
<path d="M371.9 438.8 L382.5 436.2" fill="none" stroke-width="1.6"/>
<path d="M369 426.2 L372.5 440" fill="none" stroke-width="2"/>
<path d="M376.9 423.5 L383.8 440" fill="none" stroke-width="2"/>
<path d="M370.6 431.9 L379.4 429.4" fill="none" stroke-width="1.3"/>
<path d="M368.6 449.4 A9.8 11.8 15 1 0 387.6 454.4 A9.8 11.8 15 1 0 368.6 449.4 Z" fill="none" stroke-width="2.4"/>
<path d="M376.9 447.4 C377.1 447.4 377.1 447.3 377.5 447.3 C378 447.2 377.8 447.2 378.2 447.3 C378.6 447.3 378.4 447.3 378.8 447.4 C379.2 447.5 379 447.4 379.4 447.7 C379.8 447.9 379.6 447.8 379.9 448.1 C380.3 448.4 380.1 448.2 380.4 448.6 C380.6 449 380.5 448.8 380.7 449.2 C380.9 449.6 380.8 449.4 380.9 449.9 C381.1 450.4 381 450.1 381.1 450.7 C381.1 451.2 381.1 450.9 381 451.4 C381 452 381 451.7 380.9 452.2 C380.8 452.7 380.9 452.5 380.6 453 C380.4 453.5 380.6 453.2 380.3 453.7 C380 454.1 380.2 453.9 379.8 454.3 C379.5 454.7 379.7 454.5 379.3 454.8 C378.9 455.1 379.1 455 378.7 455.2 C378.3 455.4 378.5 455.3 378.1 455.4 C377.6 455.6 377.8 455.5 377.4 455.5 C377 455.6 377.2 455.6 376.8 455.5 C376.3 455.4 376.5 455.5 376.1 455.3 C375.7 455.2 375.9 455.3 375.6 455 C375.2 454.7 375.4 454.9 375.1 454.6 C374.8 454.2 374.9 454.4 374.7 454 C374.4 453.6 374.5 453.6 374.4 453.3" fill="none" stroke-width="1.7"/>
<path d="M325 451.7 L411.7 486.7 L403.3 513.3 L318.3 478.3Z" fill="none" stroke-width="2.4"/>
<path d="M330.7 467.5 C330.8 467.3 330.8 467.3 331 466.9 C331.3 466.6 331.2 466.7 331.5 466.4 C331.8 466.2 331.6 466.3 332 466.1 C332.3 465.9 332.1 465.9 332.5 465.8 C332.9 465.7 332.7 465.7 333.1 465.7 C333.5 465.7 333.3 465.7 333.7 465.7 C334.1 465.8 333.9 465.7 334.3 465.9 C334.6 466 334.5 465.9 334.8 466.2 C335.1 466.4 335 466.3 335.3 466.6 C335.6 466.9 335.4 466.7 335.7 467.1 C335.9 467.5 335.8 467.3 336 467.7 C336.2 468.1 336.1 467.9 336.2 468.4 C336.3 468.8 336.3 468.6 336.3 469.1 C336.3 469.5 336.3 469.3 336.3 469.8 C336.2 470.2 336.3 470 336.1 470.5 C336 470.9 336.1 470.7 335.9 471.1 C335.7 471.5 335.8 471.3 335.6 471.7 C335.3 472 335.4 471.9 335.1 472.2 C334.8 472.4 335 472.3 334.6 472.5 C334.3 472.7 334.5 472.7 334.1 472.8 C333.7 472.9 333.9 472.9 333.5 472.9 C333.1 472.9 333.3 472.9 332.9 472.9 C332.5 472.8 332.7 472.9 332.3 472.7 C332 472.6 332 472.5 331.8 472.4" fill="none" stroke-width="1.6"/>
<path d="M390.7 492.2 C390.8 492 390.8 492 391 491.6 C391.3 491.3 391.2 491.4 391.5 491.1 C391.8 490.9 391.6 491 392 490.8 C392.3 490.6 392.1 490.6 392.5 490.5 C392.9 490.4 392.7 490.4 393.1 490.4 C393.5 490.4 393.3 490.4 393.7 490.4 C394.1 490.5 393.9 490.4 394.3 490.6 C394.6 490.7 394.5 490.6 394.8 490.9 C395.1 491.1 395 491 395.3 491.3 C395.6 491.6 395.4 491.4 395.7 491.8 C395.9 492.2 395.8 492 396 492.4 C396.2 492.8 396.1 492.6 396.2 493.1 C396.3 493.5 396.3 493.3 396.3 493.8 C396.3 494.2 396.3 494 396.3 494.5 C396.2 494.9 396.3 494.7 396.1 495.2 C396 495.6 396.1 495.4 395.9 495.8 C395.7 496.2 395.8 496 395.6 496.4 C395.3 496.7 395.4 496.6 395.1 496.9 C394.8 497.1 395 497 394.6 497.2 C394.3 497.4 394.5 497.4 394.1 497.5 C393.7 497.6 393.9 497.6 393.5 497.6 C393.1 497.6 393.3 497.6 392.9 497.6 C392.5 497.5 392.7 497.6 392.3 497.4 C392 497.3 392 497.2 391.8 497.1" fill="none" stroke-width="1.6"/>
<path d="M388.3 461.5 L380 485 L392 491" fill="none" stroke-width="1.8"/>
<path d="M400 364 L413 372" fill="none" stroke-width="1.8"/>
<path d="M419 375.5 L450.5 396.5" fill="none" stroke-width="1.8"/>
<path d="M451.2 400 L446.9 411.2 L458.1 418.8" fill="none" stroke-width="1.8"/>
<path d="M463.8 422.5 L490 436.9" fill="none" stroke-width="1.8"/>
<path d="M495 362.5 L490.5 375.5 L502 380.5" fill="none" stroke-width="1.8"/>
<path d="M508 383 L530 392" fill="none" stroke-width="1.8"/>
<path d="M536 394.5 L559.4 403.8 L548.8 430.6" fill="none" stroke-width="1.8"/>
<path d="M435.6 542.5 L430 558.1 L456.2 570" fill="none" stroke-width="1.8"/>
<path d="M465 575 L502.5 591.9" fill="none" stroke-width="1.8"/>
<path d="M509.4 595 L549.4 613.8" fill="none" stroke-width="1.8"/>
<path d="M556.9 616.9 L575 625 L570.6 636.9" fill="none" stroke-width="1.8"/>
<path d="M475 651.2 L480.6 620 L488.1 616.2 L491.9 616.9" fill="none" stroke-width="3"/>
<path d="M491.9 616.9 C494.2 614.6 494 613.1 498.8 610 C503.5 606.9 501.7 607.9 506.2 607.5 C510.8 607.1 510.4 608.3 512.5 608.8" fill="none" stroke-width="3"/>
<path d="M512.5 608.8 L563.8 646.2" fill="none" stroke-width="3.6"/>
<path d="M496.2 620 L560 647.5" fill="none" stroke-width="3.6"/>
<path d="M506.2 611.9 L531.2 631.9 L550 640" fill="none" stroke-width="1.4"/>
<path d="M485 621.9 L558.8 651.2" fill="none" stroke-width="1.4"/>
<path d="M481.2 633.8 L486.9 636.2" fill="none" stroke-width="1.4"/>
<path d="M481.2 637.2 L486.5 639.5" fill="none" stroke-width="1.4"/>
<path d="M501.9 642.5 L553.8 663.8" fill="none" stroke-width="2.2"/>
<path d="M502.5 646.2 L552.5 666.9" fill="none" stroke-width="1.4"/>
<path d="M488.5 639 A6 8 10 1 0 500.3 641 A6 8 10 1 0 488.5 639 Z" fill="none" stroke-width="2.8"/>
<path d="M475 651.2 L532.5 675" fill="none" stroke-width="3"/>
<path d="M532.5 675 L550 672.5" fill="none" stroke-width="3"/>
<path d="M560 670 L586.2 665" fill="none" stroke-width="3"/>
<path d="M501.2 685 L547.5 677.5" fill="none" stroke-width="1.4"/>
<path d="M558.8 676.2 L585 668.8" fill="none" stroke-width="1.4"/>
<path d="M533.8 674.6 C524.2 676.8 513.1 678.7 501.9 681.9 C490.6 685.1 499.6 682.4 496.2 685.2 C492.9 688.1 493.4 687.4 490.6 691.5 C487.8 695.6 488.6 694.8 486.9 699 C485.1 703.2 486.7 697.8 484.8 705.6 C482.8 713.4 482.8 714.7 480.2 725 C477.7 735.3 477.4 735.5 476.2 740" fill="none" stroke-width="3"/>
<path d="M503.1 711.2 C505.4 709.6 504.8 708.5 510 706.2 C515.2 704 510.8 704.6 518.8 704.4 C526.7 704.2 528.8 705.2 533.8 705.6" fill="none" stroke-width="3"/>
<path d="M543.8 705.6 L572.5 697.5" fill="none" stroke-width="3"/>
<path d="M503.1 711.2 L501.2 740" fill="none" stroke-width="2.2"/>
<path d="M508.1 711.9 L507.5 740" fill="none" stroke-width="3"/>
<path d="M508.8 594.4 L549.4 613.1" fill="none" stroke-width="1.8"/>
<path d="M557.5 616.9 L575.6 625 L568.8 640" fill="none" stroke-width="1.8"/>
<path d="M567.5 641.9 L550.6 681.9" fill="none" stroke-width="1.8"/>
<path d="M547.5 688.8 L522.5 740" fill="none" stroke-width="1.8"/>
<path d="M586.2 665 L598.8 682.5 L591.2 696.2 L583.1 696.9" fill="none" stroke-width="2.2"/>
<path d="M585 670 L592.5 685 L587.5 695" fill="none" stroke-width="1.4"/>
<path d="M592.5 685 L598.1 683.1" fill="none" stroke-width="1.4"/>
<path d="M567.2 684 A9.2 10.6 10 1 0 585.3 687.2 A9.2 10.6 10 1 0 567.2 684 Z" fill="none" stroke-width="2.2"/>
<path d="M585.8 676.1 C586.1 676.3 586.1 676.3 586.6 676.7 C587.1 677.1 586.9 676.9 587.3 677.4 C587.8 677.8 587.6 677.6 588 678.1 C588.4 678.6 588.2 678.3 588.6 678.9 C588.9 679.5 588.8 679.2 589.1 679.8 C589.4 680.4 589.2 680.1 589.5 680.7 C589.7 681.4 589.6 681 589.8 681.7 C590 682.4 589.9 682 590 682.7 C590.2 683.4 590.1 683.1 590.2 683.8 C590.3 684.5 590.2 684.1 590.2 684.9 C590.2 685.6 590.3 685.2 590.2 685.9 C590.1 686.6 590.2 686.3 590.1 687 C589.9 687.7 590 687.4 589.8 688.1 C589.6 688.7 589.7 688.4 589.5 689.1 C589.3 689.7 589.4 689.4 589.1 690.1 C588.8 690.7 588.9 690.4 588.6 691 C588.2 691.6 588.4 691.3 588 691.9 C587.6 692.4 587.8 692.2 587.4 692.7 C586.9 693.2 587.1 693 586.7 693.4 C586.2 693.9 586.4 693.7 585.9 694.1 C585.3 694.5 585.6 694.3 585.1 694.7 C584.5 695 584.8 694.8 584.2 695.1 C583.6 695.4 583.9 695.3 583.3 695.5 C582.7 695.7 582.7 695.7 582.4 695.8" fill="none" stroke-width="1.4"/>
<path d="M572.7 683.2 C572.9 683 572.9 682.9 573.3 682.5 C573.7 682.2 573.5 682.3 573.9 682 C574.4 681.8 574.2 681.9 574.6 681.7 C575.1 681.6 574.9 681.6 575.4 681.6 C575.9 681.6 575.7 681.6 576.2 681.7 C576.6 681.8 576.4 681.7 576.9 681.9 C577.3 682.2 577.1 682 577.5 682.4 C578 682.7 577.8 682.5 578.1 683 C578.5 683.4 578.3 683.2 578.6 683.7 C578.8 684.2 578.7 684 578.9 684.6 C579.1 685.1 579 684.8 579.1 685.5 C579.1 686.1 579.1 685.8 579.1 686.4 C579 687 579.1 686.7 578.9 687.3 C578.8 687.9 578.9 687.6 578.6 688.1 C578.4 688.7 578.5 688.4 578.2 688.9 C577.9 689.4 578.1 689.2 577.6 689.5 C577.2 689.9 577.5 689.7 577 690 C576.5 690.3 576.8 690.2 576.3 690.3 C575.8 690.4 576 690.4 575.5 690.4 C575 690.4 575.3 690.4 574.8 690.3 C574.3 690.2 574.5 690.3 574.1 690 C573.6 689.8 573.8 689.9 573.4 689.6 C573 689.2 573.2 689.4 572.8 688.9 C572.5 688.5 572.5 688.4 572.4 688.2" fill="none" stroke-width="1.6"/>
<path d="M568.8 650 L621.2 670" fill="none" stroke-width="3"/>
<path d="M621.2 670 C623.1 671.2 623.9 670.5 626.9 673.5 C629.9 676.5 628.7 675.7 630.2 679 C631.8 682.3 631.1 682 631.5 683.5" fill="none" stroke-width="3"/>
<path d="M631.5 683.5 L660 694.4" fill="none" stroke-width="3"/>
<path d="M567.5 655 L626.2 678.8" fill="none" stroke-width="1.4"/>
<path d="M631.2 685 C626.7 685.4 623.3 683.8 617.5 686.2 C611.7 688.8 613.8 687.5 613.8 692.5 C613.8 697.5 612.9 697.1 617.5 701.2 C622.1 705.4 624.2 703.8 627.5 705" fill="none" stroke-width="2.2"/>
<path d="M627.5 705 L660 717.5" fill="none" stroke-width="2.2"/>
<path d="M603.8 715 L660 738.8" fill="none" stroke-width="3"/>
<path d="M576.2 697.5 L578.8 740" fill="none" stroke-width="3"/>
<path d="M597.5 701.2 L600 740" fill="none" stroke-width="2.2"/>
<path d="M602.5 702.5 L605 740" fill="none" stroke-width="1.4"/>
<path d="M591.2 696.2 L622.5 706.2" fill="none" stroke-width="3"/>
<path d="M476.2 740 C475.2 745 473.3 751.8 472.5 758.8 C471.7 765.8 471.5 761.6 473.1 766.2 C474.8 770.9 475.2 771.1 478.8 776.2 C482.2 781.4 484.2 783.1 486.2 785.6" fill="none" stroke-width="3"/>
<path d="M486.2 785.6 L501.9 778.1" fill="none" stroke-width="3"/>
<path d="M501.9 778.1 C502.5 774.6 502.1 774 503.8 767.5 C505.4 761 504.6 765.2 506.9 758.8 C509.2 752.3 509.4 751.7 510.6 748.1" fill="none" stroke-width="2.2"/>
<path d="M500 775 L506.5 750" fill="none" stroke-width="1.4"/>
<path d="M474.6 760.6 A12.3 12.6 0 1 0 499.2 760.6 A12.3 12.6 0 1 0 474.6 760.6 Z" fill="none" stroke-width="2.2"/>
<path d="M478.4 762 A5.6 6 0 1 0 489.6 762 A5.6 6 0 1 0 478.4 762 Z" fill="none" stroke-width="1.8"/>
<path d="M482.3 760.7 C482.4 760.5 482.4 760.5 482.6 760.2 C482.9 759.9 482.7 760.1 483 759.8 C483.3 759.6 483.1 759.7 483.5 759.5 C483.8 759.3 483.6 759.4 483.9 759.3 C484.3 759.2 484.1 759.2 484.4 759.2 C484.8 759.2 484.6 759.2 484.9 759.2 C485.3 759.3 485.1 759.2 485.4 759.4 C485.8 759.5 485.6 759.4 485.9 759.6 C486.2 759.8 486.1 759.7 486.3 759.9 C486.6 760.2 486.5 760.1 486.7 760.4 C486.9 760.7 486.8 760.5 486.9 760.9 C487.1 761.2 487 761 487.1 761.4 C487.2 761.8 487.2 761.6 487.2 762 C487.2 762.4 487.2 762.2 487.2 762.6 C487.1 763 487.2 762.8 487.1 763.2 C487 763.5 487 763.4 486.9 763.7 C486.7 764 486.8 763.9 486.6 764.2 C486.3 764.5 486.5 764.3 486.2 764.6 C485.9 764.8 486.1 764.7 485.7 764.9 C485.4 765.1 485.6 765 485.3 765.1 C484.9 765.2 485.1 765.2 484.8 765.2 C484.4 765.2 484.6 765.2 484.3 765.2 C483.9 765.1 484.1 765.2 483.8 765 C483.4 764.9 483.5 764.9 483.3 764.8" fill="none" stroke-width="1.8"/>
<path d="M493 751.7 C493.2 751.8 493.2 751.8 493.7 752.1 C494.1 752.5 493.9 752.3 494.3 752.6 C494.7 753 494.5 752.8 494.9 753.2 C495.2 753.6 495.1 753.4 495.4 753.8 C495.7 754.3 495.6 754 495.9 754.5 C496.2 755 496 754.7 496.3 755.2 C496.6 755.7 496.4 755.4 496.7 755.9 C496.9 756.4 496.8 756.2 497 756.7 C497.1 757.2 497.1 757 497.2 757.5 C497.3 758.1 497.3 757.8 497.4 758.3 C497.5 758.9 497.4 758.6 497.5 759.2 C497.5 759.7 497.5 759.4 497.5 760 C497.5 760.6 497.5 760.3 497.5 760.8 C497.4 761.4 497.5 761.1 497.4 761.7 C497.3 762.2 497.3 761.9 497.2 762.5 C497.1 763 497.1 762.8 497 763.3 C496.8 763.8 496.9 763.6 496.7 764.1 C496.4 764.6 496.6 764.3 496.3 764.8 C496 765.3 496.2 765 495.9 765.5 C495.6 766 495.7 765.7 495.4 766.2 C495.1 766.6 495.2 766.4 494.9 766.8 C494.5 767.2 494.7 767 494.3 767.4 C493.9 767.7 494.1 767.5 493.7 767.9 C493.2 768.2 493.2 768.2 493 768.3" fill="none" stroke-width="1.4"/>
<path d="M501.2 740 C501.6 741 501.3 741.9 502.5 743.8 C503.7 745.6 503.5 745.7 505.6 746.9 C507.8 748 509.3 747.8 510.6 748.1" fill="none" stroke-width="2.2"/>
<path d="M507.5 740 L507.2 737.5" fill="none" stroke-width="3"/>
<path d="M508.5 738.1 L518.8 738.8" fill="none" stroke-width="3"/>
<path d="M526.2 733.8 L502.5 785" fill="none" stroke-width="1.8"/>
<path d="M502.2 786.2 L498.1 795 L506.9 800" fill="none" stroke-width="1.8"/>
<path d="M511.2 802.5 L532.5 812.5" fill="none" stroke-width="1.8"/>
<path d="M537.5 815 L573.1 832.5" fill="none" stroke-width="1.8"/>
<path d="M528.1 737.5 L535 737.8" fill="none" stroke-width="3.4"/>
<path d="M530 740.2 L585 742.8 L590 741.9" fill="none" stroke-width="3.4"/>
<path d="M528.1 744.4 L577.5 747.2" fill="none" stroke-width="2.2"/>
<path d="M577.5 747.2 C579.9 748.3 582.1 747.5 585.6 750.6 C589.2 753.7 588.8 753 589.4 757.5 C589.9 762 589.8 761.7 587.5 765.6 C585.2 769.6 585.2 768.8 581.9 770.6 C578.5 772.5 577.9 771.5 576.2 771.9" fill="none" stroke-width="2.2"/>
<path d="M576.2 771.9 L515 768.8" fill="none" stroke-width="3"/>
<path d="M529.3 756.9 A6.3 6.6 0 1 0 541.9 756.9 A6.3 6.6 0 1 0 529.3 756.9 Z" fill="none" stroke-width="2.2"/>
<path d="M534.5 751.9 C534.8 751.9 534.8 751.9 535.4 751.9 C536 751.9 535.7 751.9 536.3 752 C536.9 752.2 536.6 752.1 537.2 752.4 C537.7 752.7 537.5 752.5 537.9 753 C538.4 753.4 538.2 753.1 538.6 753.7 C538.9 754.2 538.8 753.9 539 754.5 C539.3 755.1 539.2 754.8 539.3 755.5 C539.5 756.1 539.4 755.8 539.4 756.5 C539.4 757.1 539.5 756.8 539.3 757.5 C539.2 758.1 539.3 757.8 539 758.4 C538.8 759 538.9 758.7 538.6 759.3 C538.2 759.8 538.4 759.6 537.9 760 C537.5 760.4 537.7 760.2 537.2 760.6 C536.6 760.9 536.9 760.7 536.3 760.9 C535.7 761.1 536 761 535.4 761.1 C534.8 761.1 535.1 761.1 534.5 761 C533.9 760.9 534.2 761 533.6 760.7 C533.1 760.5 533.3 760.6 532.8 760.2 C532.3 759.9 532.5 760.1 532.1 759.6 C531.7 759.1 531.9 759.3 531.6 758.8 C531.3 758.2 531.4 758.5 531.2 757.9 C531 757.2 531.1 757.5 531 756.9 C531 756.2 531 756.5 531.1 755.9 C531.1 755.2 531.2 755.2 531.3 754.9" fill="none" stroke-width="1.6"/>
<path d="M569.3 758.8 A6.3 6.6 0 1 0 581.9 758.8 A6.3 6.6 0 1 0 569.3 758.8 Z" fill="none" stroke-width="2.2"/>
<path d="M574.5 753.8 C574.8 753.8 574.8 753.7 575.4 753.8 C576 753.8 575.7 753.7 576.3 753.9 C576.9 754.1 576.6 754 577.2 754.3 C577.7 754.6 577.5 754.4 577.9 754.8 C578.4 755.3 578.2 755 578.6 755.5 C578.9 756.1 578.8 755.8 579 756.4 C579.3 757 579.2 756.7 579.3 757.4 C579.5 758 579.4 757.7 579.4 758.4 C579.4 759 579.5 758.7 579.3 759.3 C579.2 760 579.3 759.7 579 760.3 C578.8 760.9 578.9 760.6 578.6 761.2 C578.2 761.7 578.4 761.4 577.9 761.9 C577.5 762.3 577.7 762.1 577.2 762.4 C576.6 762.7 576.9 762.6 576.3 762.8 C575.7 763 576 762.9 575.4 762.9 C574.8 763 575.1 763 574.5 762.9 C573.9 762.8 574.2 762.9 573.6 762.6 C573.1 762.3 573.3 762.5 572.8 762.1 C572.3 761.7 572.5 761.9 572.1 761.5 C571.7 761 571.9 761.2 571.6 760.6 C571.3 760.1 571.4 760.4 571.2 759.7 C571 759.1 571.1 759.4 571 758.8 C571 758.1 571 758.4 571.1 757.7 C571.1 757.1 571.2 757.1 571.3 756.8" fill="none" stroke-width="1.6"/>
<path d="M590 741.9 C591.7 743.8 593.2 743.8 595.6 748.1 C598.1 752.4 597.8 751.4 598.1 756.2 C598.5 761.1 598.9 760.8 596.9 764.4 C594.8 767.9 592.9 767 591.2 768.1" fill="none" stroke-width="2.2"/>
<path d="M586.2 743.1 C588.3 745.4 589.8 745 592.5 750 C595.2 755 594.4 752.7 594.4 758.1 C594.4 763.5 593.1 763.5 592.5 766.2" fill="none" stroke-width="1.4"/>
<path d="M585 750 L591.2 748.1" fill="none" stroke-width="1.4"/>
<path d="M589.4 758.8 L595 756.9" fill="none" stroke-width="1.4"/>
<path d="M578.8 740 L579 741.5" fill="none" stroke-width="3"/>
<path d="M600 740 C600.6 745.2 603.1 756.3 602.5 762.5 C601.9 768.7 600.1 765.2 597.5 766.5 C594.9 767.8 592.7 767.7 591.2 768.1" fill="none" stroke-width="2.2"/>
<path d="M605 740 L606 758.8 L602.5 762.5" fill="none" stroke-width="3"/>
<path d="M535 737.5 C535.4 735.2 534 734.1 536.2 730 C538.5 725.9 536.9 727.1 542.5 723.8 C548.1 720.4 548.2 721 555 718.8 C561.8 716.5 559.8 716.2 565 716.2 C570.2 716.2 569 716.4 572.5 718.8 C576 721.1 575.3 722.4 576.5 724" fill="none" stroke-width="2.2"/>
<path d="M550 723.1 C553.3 724.4 552.5 726.9 560 726.9 C567.5 726.9 568.3 724.4 572.5 723.1" fill="none" stroke-width="1.4"/>
<path d="M560 726.9 L565 739" fill="none" stroke-width="1.4"/>
<path d="M537.5 735 C540.8 733.8 542.1 732.1 547.5 731.2 C552.9 730.4 550.4 729.9 553.8 732.5 C557.1 735.1 556.2 736.8 557.5 739" fill="none" stroke-width="1.4"/>
<path d="M606.2 755 L623.8 761.9" fill="none" stroke-width="3"/>
<path d="M552.5 806.2 C553.5 805.8 553.2 804.9 556.2 804.4 C559.2 803.9 561.1 803.2 563.8 804.4 C566.4 805.5 565.6 807.6 566.2 808.8" fill="none" stroke-width="3"/>
<path d="M566.2 808.8 L621.2 835" fill="none" stroke-width="3"/>
<path d="M552.5 806.2 L550 816.2" fill="none" stroke-width="2.2"/>
<path d="M558.8 807.5 L555 818.8" fill="none" stroke-width="2.2"/>
<path d="M563.8 810 L560 822.5" fill="none" stroke-width="2.2"/>
<path d="M546.2 825 C544.2 830.4 541.7 832.9 540 841.2 C538.3 849.6 540.8 847.1 541.2 850" fill="none" stroke-width="2.2"/>
<path d="M551.2 826.2 C550 831.2 548.3 833.3 547.5 841.2 C546.7 849.2 548.3 847.1 548.8 850" fill="none" stroke-width="2.2"/>
<path d="M558.8 830 C558 831.5 555 835 555 837.5 C555 840 553.5 840 558.8 842.5 C564 845 576.8 848.5 581.2 850" fill="none" stroke-width="2.2"/>
<path d="M572 832.8 A2.6 3.4 20 1 0 576.8 834.6 A2.6 3.4 20 1 0 572 832.8 Z" fill="none" stroke-width="2.4"/>
<path d="M621.2 835 L640 810" fill="none" stroke-width="3.6"/>
<path d="M635 837.5 L652.5 816.2" fill="none" stroke-width="1.4"/>
<path d="M621.2 836.9 L660 853.8" fill="none" stroke-width="3"/>
<path d="M631.2 681.9 L653.8 690.4" fill="none" stroke-width="3"/>
<path d="M706.2 712.2 L723.8 719.4" fill="none" stroke-width="3.6"/>
<path d="M733.1 723.1 L780 741.1" fill="none" stroke-width="3.6"/>
<path d="M627.5 706 L708.8 738.1" fill="none" stroke-width="3"/>
<path d="M718.8 741.9 L780 766.9" fill="none" stroke-width="3"/>
<path d="M660 738.8 L695 753.1" fill="none" stroke-width="3"/>
<path d="M704.4 756.9 L780 787.5" fill="none" stroke-width="3"/>
<path d="M701.2 761.9 L780 791.4" fill="none" stroke-width="3"/>
<path d="M697.5 767.5 L728.8 781.2" fill="none" stroke-width="1.4"/>
<path d="M652.5 690 L706.2 712.2" fill="none" stroke-width="3.4"/>
<path d="M651 688.8 C651.8 687.5 650.8 686.9 653.5 685 C656.2 683.1 655.3 683.3 659 683 C662.7 682.7 661.8 683.1 664.5 684.2 C667.2 685.3 666.3 685.5 667.2 686.2" fill="none" stroke-width="2.9"/>
<path d="M652 689.8 C654.7 690.5 652.7 689.2 660 692 C667.3 694.8 669.3 696.1 674 698.2" fill="none" stroke-width="4.6"/>
<path d="M667 685.7 C668.3 683.8 667.3 682.9 671 680 C674.7 677.1 673.7 678 678 677 C682.3 676 680.7 676.4 684 677 C687.3 677.6 686.7 678.1 688 678.7" fill="none" stroke-width="2.9"/>
<path d="M669.5 684.5 C671.3 684.5 671.2 682.7 675 684.5 C678.8 686.3 677.5 685.5 681 690 C684.5 694.5 683.5 693.2 685.5 698 C687.5 702.8 686.5 702.3 687 704.5" fill="none" stroke-width="2.9"/>
<path d="M674 680 C676 680.4 676 678.5 680 681.2 C684 683.9 682.7 682.7 686 688 C689.3 693.3 688.2 691 690 697 C691.8 703 691 703 691.5 706" fill="none" stroke-width="2.9"/>
<path d="M688 678.7 C689.2 677.4 688.7 676.4 692 674.5 C695.3 672.6 695.1 672.6 699 672.5 C702.9 672.4 701.7 672 705 674 C708.3 676 707 674.8 710 679 C713 683.2 712.9 682.6 715 688 C717.1 693.4 717 692.2 717 697 C717 701.8 717.1 700.5 715 704 C712.9 707.5 712.7 706.7 710 708.5 C707.3 710.3 707.2 709.5 706 710" fill="none" stroke-width="2.9"/>
<path d="M692 679 C694.3 681 695.3 679.7 699 685 C702.7 690.3 701.3 687.2 703 695 C704.7 702.8 703.7 704 704 708.5" fill="none" stroke-width="2.9"/>
<path d="M694.2 678 C696.5 680 697.5 678.7 701.2 684 C704.9 689.3 703.7 686.2 705.2 694 C706.7 701.8 705.5 703 705.7 707.5" fill="none" stroke-width="1.5"/>
<path d="M696 699 L698 707.2" fill="none" stroke-width="1.5"/>
<path d="M713 671.5 C714 670.3 712.7 670 716 668 C719.3 666 719 666 723 665.5 C727 665 725.7 665.3 728 666.5 C730.3 667.7 729.3 668.2 730 669" fill="none" stroke-width="2.9"/>
<path d="M718 695 C720.7 694.3 721 694.7 726 693 C731 691.3 729.3 692.7 733 690 C736.7 687.3 735.5 688 737 685 C738.5 682 737.3 682.3 737.5 681" fill="none" stroke-width="2.9"/>
<path d="M710 679 C710.9 677.8 710.9 676.6 713 675 C715.1 673.4 714.8 673.5 717 673.5 C719.2 673.5 718.4 672.5 720.5 675 C722.6 677.5 722.8 677.5 724 682 C725.2 686.5 724.8 686.8 724.5 690 C724.2 693.2 723.5 691.9 723 692.7" fill="none" stroke-width="2.9"/>
<path d="M725 670 C726.3 672 727.3 671.3 729 676 C730.7 680.7 730.2 678.9 730 684 C729.8 689.1 729 688.8 728.5 691.2" fill="none" stroke-width="1.9"/>
<path d="M730 669 C731.3 671 732.3 670.3 734 675 C735.7 679.7 735.3 678.1 735 683 C734.7 687.9 733.7 687.5 733 689.7" fill="none" stroke-width="1.9"/>
<path d="M728.5 675.8 A2.6 3.6 15 1 0 733.5 677.2 A2.6 3.6 15 1 0 728.5 675.8 Z" fill="none" stroke-width="2.4"/>
<path d="M732.7 674.4 A2.4 3.4 15 1 0 737.3 675.6 A2.4 3.4 15 1 0 732.7 674.4 Z" fill="none" stroke-width="1.8"/>
<path d="M731 672.5 L742 666" fill="none" stroke-width="2.9"/>
<path d="M734 680.5 L746 677" fill="none" stroke-width="2.9"/>
<path d="M742 666 C743.3 666.3 744 665 746 667 C748 669 748 668.7 748 672 C748 675.3 746.7 675.3 746 677" fill="none" stroke-width="2.9"/>
<path d="M737.5 668.5 C738.3 670 739.3 669.6 740 673 C740.7 676.4 739.7 676.9 739.5 678.8" fill="none" stroke-width="1.9"/>
<path d="M741 667 C741.8 668.5 742.8 667.9 743.5 671.5 C744.2 675.1 743.2 675.7 743 677.8" fill="none" stroke-width="1.9"/>
<path d="M632.3 760 L632.3 743.5 L636.8 739.4 L640.9 742" fill="none" stroke-width="3"/>
<path d="M640.9 742 C642.8 741.9 642.1 742.5 646.5 741.6 C650.9 740.8 649.5 740.3 654 739.4 C658.5 738.5 658 739 660 738.9" fill="none" stroke-width="3.4"/>
<path d="M636 744.3 L639.8 745.4" fill="none" stroke-width="1.5"/>
<path d="M635.3 745.4 L635.3 759.3" fill="none" stroke-width="1.5"/>
<path d="M649.5 744.6 C651.5 744.6 653.2 743.7 657 744.4 C660.8 745.1 660.6 745.2 663.8 747.4 C667 749.6 666.8 750.2 669 752.5 C671.2 754.8 666.6 752.8 672 755.9 C677.4 759 684.7 761.9 689.3 764.1" fill="none" stroke-width="2"/>
<path d="M644.3 746.7 C646.5 746.3 648.3 745 652.5 745.4 C656.7 745.7 656.4 746.1 660 748 C663.6 749.9 663.4 750.3 666 752.5 C668.6 754.7 668.3 754.8 669.8 756.3 C671.2 757.7 671 757.5 671.4 757.9" fill="none" stroke-width="2"/>
<path d="M669 745 L673.1 750.6 L692.6 759.1" fill="none" stroke-width="3.6"/>
<path d="M637.5 760 C638 758.4 637 757.7 639 754.8 C641 751.8 640.7 752.1 644.3 750.3 C647.9 748.5 647 748.8 651 748.8 C655.1 748.8 653.9 748.5 657.8 750.3 C661.6 752.1 660.6 751.4 663.8 754.8 C666.9 758.1 666.2 757.7 668.3 761.5 C670.3 765.3 670.1 764.1 670.5 767.5 C671 770.9 670.7 770.5 669.8 772.8 C668.9 775 668.2 774.3 667.5 775" fill="none" stroke-width="3"/>
<path d="M639.8 760 C640.4 758.7 640 757.8 642 755.5 C644 753.3 643.4 753.4 646.5 752.5 C649.7 751.6 648.9 751.6 652.5 752.5 C656.1 753.4 655.4 752.8 658.5 755.5 C661.7 758.2 660.8 757.5 663 761.5 C665.3 765.6 665.1 765 666 769 C666.9 773.1 666.7 772.1 666 775 C665.3 777.9 665.1 777.4 663.8 778.8 C662.4 780.1 662.2 779.3 661.5 779.5" fill="none" stroke-width="2"/>
<path d="M645 754 L651.8 755.5" fill="none" stroke-width="2"/>
<path d="M660 760 C661.3 761.8 661.5 761.3 663.8 765.3 C666 769.3 665.8 769.8 666.8 772" fill="none" stroke-width="2"/>
<path d="M644.3 765.3 C644.3 763.9 644.5 763.4 646.5 762.3 C648.5 761.1 648.3 761.1 651 761.5 C653.7 762 653.5 761.5 655.5 763.8 C657.5 766 657.3 766.1 657.8 769 C658.2 771.9 658.1 772.6 657 773.5 C655.9 774.4 655.8 773.8 654 772 C652.2 770.2 653.3 769.1 651 767.5 C648.8 765.9 648.5 767.4 646.5 766.8 C644.5 766.1 644.3 766.6 644.3 765.3Z" fill="none" stroke-width="3.4"/>
<path d="M627 762.3 L649.5 770.5" fill="none" stroke-width="3"/>
<path d="M627 766.9 L648 773.7" fill="none" stroke-width="1.5"/>
<path d="M627 762.3 C626.4 762.8 623.8 764.4 623.4 765.3 C623 766.1 623.3 764.9 624.8 767.5 C626.2 770.1 630.6 778 632.3 781 C633.9 784 634.5 783.3 634.5 785.5 C634.5 787.8 631.5 790.8 632.3 794.5 C633 798.3 636.6 803.8 639 808 C641.4 812.3 645.3 818 646.5 820" fill="none" stroke-width="3"/>
<path d="M636.8 775.8 C637.4 775.3 637 774.5 639 774.3 C641 774 641 773.7 643.5 775 C646 776.4 646.1 776.3 647.3 778.8 C648.4 781.2 648.2 781.5 647.3 783.3 C646.4 785.1 646.1 784.6 644.3 784.8 C642.5 784.9 642.2 784 641.3 783.6" fill="none" stroke-width="3"/>
<path d="M639.8 778.8 C640.8 779 641.3 778.5 642.8 779.5 C644.3 780.5 643.8 781 644.3 781.8" fill="none" stroke-width="2"/>
<path d="M651.8 772.8 C652.8 773.8 655.1 775.8 657 778 C659 780.3 659.7 781.6 661.5 784 C663.3 786.4 665 786.7 666 790 C667 793.3 664.6 794.5 666.4 800.5 C668.2 806.5 673.3 816.1 675 820" fill="none" stroke-width="3"/>
<path d="M650.3 775 L653.3 781.8" fill="none" stroke-width="1.5"/>
<path d="M656.3 786.3 C657 787.3 659.3 788.4 660 791.5 C660.8 794.7 658.5 796.3 660 802 C661.5 807.7 666 816.4 667.5 820" fill="none" stroke-width="2"/>
<path d="M636.8 785.1 L656.3 792.6" fill="none" stroke-width="1.5"/>
<path d="M635.3 796 L641.3 797.9" fill="none" stroke-width="1.5"/>
<path d="M652.5 802 L659.3 804.3" fill="none" stroke-width="1.5"/>
<path d="M735.6 711.9 L737.5 710 L760 718.1" fill="none" stroke-width="1.8"/>
<path d="M765 720 L783.8 726.9 L795 713.8" fill="none" stroke-width="1.8"/>
<path d="M734.8 713.1 L722.5 728.8" fill="none" stroke-width="1.8"/>
<path d="M720 733.1 L690 770.6" fill="none" stroke-width="1.8"/>
<path d="M686.2 776.2 L675 790" fill="none" stroke-width="1.8"/>
<path d="M780 742.2 L973.1 817.2" fill="none" stroke-width="3.6"/>
<path d="M973.1 817.2 C975 816.4 974.4 814.9 978.8 814.9 C983.1 814.9 983.8 816.4 986.3 817.2" fill="none" stroke-width="3"/>
<path d="M986.3 817.2 L1050 839.7" fill="none" stroke-width="3"/>
<path d="M780 766.8 L935.6 829.4 L984.4 848.1" fill="none" stroke-width="3"/>
<path d="M780 788.1 C785.4 790.1 790.1 791.1 800.1 795.6 C810.1 800.1 800.4 799 817.5 805 C834.7 811 839.4 811.6 864.4 818.1 C889.4 824.6 895.3 824.6 911.3 829.4 C927.3 834.1 919.1 832.2 924.4 835.9 C929.6 839.7 928.7 839.2 930.9 843.4 C933.2 847.7 934.1 847.9 932.8 851.9 C931.6 855.9 933 856.4 926.3 858.4 C919.5 860.4 912.5 859.1 907.5 859.4" fill="none" stroke-width="3"/>
<path d="M780 822.8 C784.5 824.6 776.9 822.6 796.9 829.4 C816.9 836.1 825.5 840.1 855 848.1 C884.5 856.1 893.5 856.4 907.5 859.4" fill="none" stroke-width="3"/>
<path d="M795 831.5 L1018.5 924.5" fill="none" stroke-width="3"/>
<path d="M911.3 829.4 L981.6 849.1" fill="none" stroke-width="2.2"/>
<path d="M914.1 832.8 L980.6 850.6" fill="none" stroke-width="1.4"/>
<path d="M903.8 859.4 C912.5 865 913.1 867.8 930 876.3 C946.9 884.7 941.6 880.9 954.4 884.7 C967.2 888.4 963.8 886.6 968.4 887.5" fill="none" stroke-width="3.6"/>
<path d="M969.6 871 A24.6 30.4 8 1 0 1018.4 877.8 A24.6 30.4 8 1 0 969.6 871 Z" fill="none" stroke-width="3"/>
<path d="M1008.9 844.4 C1009.9 844.9 1009.9 844.7 1011.8 845.8 C1013.6 846.8 1012.8 846.2 1014.5 847.5 C1016.2 848.9 1015.4 848.2 1017 849.7 C1018.5 851.3 1017.8 850.5 1019.2 852.3 C1020.5 854.2 1019.9 853.2 1021.1 855.2 C1022.2 857.3 1021.7 856.2 1022.6 858.5 C1023.6 860.7 1023.2 859.6 1023.9 861.9 C1024.5 864.3 1024.3 863.1 1024.7 865.6 C1025.1 868 1025 866.8 1025.1 869.3 C1025.3 871.9 1025.3 870.6 1025.2 873.2 C1025.1 875.7 1025.2 874.5 1024.8 877 C1024.5 879.6 1024.7 878.3 1024.1 880.8 C1023.5 883.3 1023.8 882.1 1023 884.5 C1022.1 886.9 1022.6 885.7 1021.5 888 C1020.4 890.2 1021 889.2 1019.7 891.3 C1018.3 893.3 1019 892.4 1017.5 894.2 C1016 896.1 1016.8 895.2 1015.1 896.9 C1013.4 898.5 1014.3 897.8 1012.4 899.1 C1010.6 900.5 1011.5 899.9 1009.6 901 C1007.7 902 1008.6 901.6 1006.6 902.4 C1004.6 903.1 1005.6 902.8 1003.5 903.3 C1001.4 903.8 1002.5 903.6 1000.4 903.8 C998.3 903.9 999.3 903.9 997.2 903.7 C995.2 903.5 995.2 903.4 994.2 903.2" fill="none" stroke-width="2.2"/>
<path d="M990 900.3 C989 900 988.9 900.2 987 899.6 C985.2 898.9 986.1 899.3 984.3 898.4 C982.5 897.4 983.3 898 981.7 896.7 C980.1 895.4 980.8 896.1 979.4 894.5 C977.9 893 978.6 893.8 977.4 892 C976.1 890.1 976.7 891.1 975.7 889 C974.7 887 975.1 888 974.4 885.8 C973.6 883.6 973.9 884.7 973.5 882.4 C973 880 973.1 881.2 973 878.8 C972.8 876.4 972.8 877.6 972.9 875.1 C973 872.6 972.9 873.8 973.3 871.4 C973.7 869 973.4 870.2 974.1 867.8 C974.8 865.5 974.4 866.6 975.3 864.3 C976.3 862.1 975.8 863.2 977 861.1 C978.1 859.1 977.5 860 978.9 858.2 C980.3 856.3 979.6 857.2 981.2 855.6 C982.8 854 981.9 854.7 983.7 853.4 C985.4 852.1 984.6 852.7 986.4 851.7 C988.3 850.7 987.4 851.1 989.3 850.5 C991.3 849.8 990.3 850.1 992.3 849.8 C994.3 849.5 993.3 849.5 995.3 849.6 C997.2 849.7 996.3 849.5 998.2 850 C1000.2 850.4 999.2 850.1 1001.1 850.8 C1002.9 851.6 1002.9 851.8 1003.8 852.2" fill="none" stroke-width="1.4"/>
<path d="M987.8 895.1 C987.1 894.7 987 894.9 985.6 894 C984.2 893.2 984.8 893.7 983.6 892.6 C982.3 891.5 982.9 892.1 981.7 890.7 C980.6 889.4 981.1 890.1 980.2 888.6 C979.2 887 979.6 887.8 978.9 886.1 C978.1 884.4 978.4 885.3 977.9 883.4 C977.3 881.6 977.6 882.5 977.2 880.5 C976.9 878.6 977 879.6 976.9 877.6 C976.8 875.6 976.8 876.5 977 874.5 C977.1 872.5 977 873.5 977.4 871.5 C977.7 869.5 977.5 870.5 978.1 868.5 C978.7 866.6 978.3 867.5 979.1 865.7 C980 863.9 979.5 864.8 980.5 863.1 C981.5 861.4 981 862.2 982.1 860.7 C983.3 859.3 982.7 859.9 984 858.7 C985.3 857.4 984.7 858 986.1 856.9 C987.5 855.9 986.8 856.4 988.3 855.6 C989.8 854.8 989.1 855.2 990.7 854.7 C992.2 854.2 991.5 854.4 993.1 854.2 C994.7 854 993.9 854 995.5 854.1 C997.1 854.2 996.3 854.1 997.8 854.5 C999.4 854.9 998.6 854.6 1000.1 855.3 C1001.6 856 1000.9 855.6 1002.2 856.5 C1003.6 857.5 1003.6 857.6 1004.2 858.1" fill="none" stroke-width="1.4"/>
<path d="M1006.2 855.5 C1006.6 855.9 1006.6 855.9 1007.3 856.8 C1008.1 857.7 1007.7 857.2 1008.4 858.2 C1009.1 859.1 1008.8 858.6 1009.4 859.7 C1010 860.7 1009.7 860.2 1010.2 861.3 C1010.7 862.4 1010.5 861.8 1010.9 863 C1011.4 864.2 1011.2 863.6 1011.5 864.8 C1011.9 866 1011.7 865.4 1012 866.6 C1012.3 867.9 1012.2 867.3 1012.3 868.6 C1012.5 869.9 1012.5 869.2 1012.5 870.5 C1012.6 871.8 1012.6 871.2 1012.6 872.5 C1012.6 873.8 1012.6 873.2 1012.5 874.5 C1012.4 875.8 1012.5 875.2 1012.3 876.5 C1012.1 877.8 1012.3 877.2 1012 878.5 C1011.7 879.8 1011.9 879.1 1011.5 880.4 C1011.1 881.7 1011.3 881.1 1010.9 882.3 C1010.4 883.6 1010.7 883 1010.2 884.1 C1009.6 885.3 1009.9 884.8 1009.3 885.9 C1008.7 887 1009 886.5 1008.3 887.6 C1007.7 888.6 1008 888.1 1007.3 889.1 C1006.5 890.1 1006.9 889.6 1006.1 890.6 C1005.3 891.5 1005.7 891 1004.8 891.9 C1004 892.7 1004.4 892.3 1003.5 893.1 C1002.6 893.8 1003.1 893.5 1002.1 894.1 C1001.1 894.7 1001.1 894.7 1000.6 895" fill="none" stroke-width="1.4"/>
<path d="M979.1 875.5 A9.4 10.4 0 1 0 997.9 875.5 A9.4 10.4 0 1 0 979.1 875.5 Z" fill="none" stroke-width="2.2"/>
<path d="M981.3 876 A6.2 7 0 1 0 993.7 876 A6.2 7 0 1 0 981.3 876 Z" fill="none" stroke-width="1.8"/>
<path d="M993.1 866.1 C993.3 866.2 993.3 866.2 993.8 866.3 C994.2 866.5 994 866.4 994.4 866.6 C994.8 866.8 994.6 866.7 995 866.9 C995.4 867.2 995.2 867 995.6 867.3 C995.9 867.6 995.8 867.5 996.1 867.8 C996.4 868.1 996.3 868 996.6 868.3 C996.9 868.7 996.8 868.5 997 868.9 C997.3 869.4 997.2 869.2 997.4 869.6 C997.7 870.1 997.6 869.8 997.8 870.3 C998 870.8 997.9 870.5 998 871 C998.2 871.6 998.1 871.3 998.3 871.8 C998.4 872.3 998.3 872.1 998.4 872.6 C998.5 873.1 998.5 872.9 998.5 873.4 C998.5 874 998.5 873.7 998.5 874.2 C998.5 874.8 998.5 874.5 998.4 875 C998.4 875.6 998.4 875.3 998.3 875.8 C998.2 876.4 998.3 876.1 998.1 876.6 C998 877.1 998.1 876.9 997.9 877.4 C997.7 877.9 997.8 877.6 997.6 878.1 C997.4 878.6 997.5 878.3 997.2 878.8 C997 879.2 997.1 879 996.8 879.4 C996.5 879.8 996.7 879.6 996.3 880 C996 880.3 996.2 880.2 995.8 880.5 C995.4 880.8 995.4 880.8 995.2 880.9" fill="none" stroke-width="1.4"/>
<path d="M1001 845.5 A6 5 0 1 0 1013 845.5 A6 5 0 1 0 1001 845.5 Z" fill="none" stroke-width="1.8"/>
<path d="M1035.3 870 A7.2 8 0 1 0 1049.7 870 A7.2 8 0 1 0 1035.3 870 Z" fill="none" stroke-width="2.2"/>
<path d="M1025.6 865 L1036.5 868.8" fill="none" stroke-width="2.2"/>
<path d="M1050 869.7 L1080 880" fill="none" stroke-width="2.2"/>
<path d="M1027.5 884.7 L1080 895.9" fill="none" stroke-width="2.2"/>
<path d="M1051.9 873.4 L1080 884.7" fill="none" stroke-width="1.4"/>
<path d="M973.1 824.1 C975.6 823.4 976.3 820.8 980.6 821.9 C985 823 982.2 823 986.3 827.5 C990.3 832 990.6 832.8 992.8 835.4" fill="none" stroke-width="2.2"/>
<path d="M986.3 821.9 L1061.3 852.8" fill="none" stroke-width="1.4"/>
<path d="M1050 839.7 L1059.4 835 L1080 849.1" fill="none" stroke-width="2.2"/>
<path d="M1053.8 842.5 L1080 855.6" fill="none" stroke-width="3.6"/>
<path d="M1060.3 837.8 L1073.4 850" fill="none" stroke-width="1.4"/>
<path d="M1040 838.2 L1050.6 839.8" fill="none" stroke-width="3"/>
<path d="M1050.6 839.8 L1059.5 834.9" fill="none" stroke-width="3"/>
<path d="M1059.5 834.9 C1063.8 837.9 1064.9 837.6 1072.5 843.9 C1080.1 850.1 1075.2 847.9 1082.2 853.6 C1089.3 859.3 1089.8 858.5 1093.6 860.9" fill="none" stroke-width="3.6"/>
<path d="M1093.6 860.9 L1167.6 890.2" fill="none" stroke-width="3.6"/>
<path d="M1053 841.9 L1083.9 856.9" fill="none" stroke-width="3.6"/>
<path d="M1061.1 839.8 L1075.7 848.7" fill="none" stroke-width="1.4"/>
<path d="M1085.5 862.6 L1161.1 894.2" fill="none" stroke-width="1.4"/>
<path d="M1040 841.4 L1059.5 852.3" fill="none" stroke-width="1.4"/>
<path d="M1167.6 890.2 C1167.1 894.6 1166.4 904.2 1165.1 912.1 C1163.8 920.1 1162.7 925.7 1161.1 930 C1159.4 934.3 1157.8 932.9 1157 933.6" fill="none" stroke-width="3"/>
<path d="M1161.1 894.2 C1160.5 900.2 1161.1 900.2 1159.4 912.1 C1157.8 924 1157.3 924 1156.2 930" fill="none" stroke-width="2.2"/>
<path d="M1052.2 865 L1055.4 873.1 L1080.6 882.9 L1105 892.3" fill="none" stroke-width="2.2"/>
<path d="M1053 878 L1085.5 891.3" fill="none" stroke-width="2.2"/>
<path d="M1040 897.5 L1072.5 899.1" fill="none" stroke-width="1.4"/>
<path d="M1080.6 898.6 L1135.9 897.5" fill="none" stroke-width="1.4"/>
<path d="M1040 893.1 L1144.8 893.4" fill="none" stroke-width="3.4"/>
<path d="M1144 893.9 L1153.7 912.1 L1148.1 925.1 L1137.5 927.1" fill="none" stroke-width="2.2"/>
<path d="M1083.9 927.6 L1131 925.9 L1137.5 927.1" fill="none" stroke-width="3"/>
<path d="M1140.7 899.1 L1148.9 913.7 L1144 925.1" fill="none" stroke-width="1.4"/>
<path d="M1148.9 913.7 L1153.7 912.1" fill="none" stroke-width="1.4"/>
<path d="M1123 912.9 A10.4 11.4 0 1 0 1143.8 912.9 A10.4 11.4 0 1 0 1123 912.9 Z" fill="none" stroke-width="2.2"/>
<path d="M1127.4 913.4 A5 5.4 0 1 0 1137.4 913.4 A5 5.4 0 1 0 1127.4 913.4 Z" fill="none" stroke-width="1.7"/>
<path d="M1130.7 912.2 C1130.8 912.1 1130.8 912 1131 911.8 C1131.2 911.5 1131.1 911.6 1131.3 911.4 C1131.6 911.2 1131.5 911.2 1131.7 911.1 C1132 910.9 1131.9 911 1132.2 910.9 C1132.5 910.8 1132.3 910.8 1132.6 910.8 C1133 910.8 1132.8 910.8 1133.1 910.8 C1133.4 910.9 1133.3 910.8 1133.6 910.9 C1133.9 911.1 1133.7 911 1134 911.2 C1134.3 911.4 1134.1 911.3 1134.4 911.5 C1134.6 911.7 1134.5 911.6 1134.7 911.9 C1134.9 912.2 1134.8 912 1135 912.4 C1135.1 912.7 1135 912.5 1135.1 912.9 C1135.2 913.2 1135.2 913.1 1135.2 913.4 C1135.2 913.8 1135.2 913.6 1135.2 914 C1135.1 914.3 1135.2 914.2 1135.1 914.5 C1135 914.8 1135 914.7 1134.9 915 C1134.7 915.3 1134.8 915.2 1134.6 915.4 C1134.4 915.7 1134.5 915.6 1134.3 915.8 C1134 916 1134.1 916 1133.9 916.1 C1133.6 916.3 1133.7 916.2 1133.4 916.3 C1133.1 916.4 1133.3 916.4 1133 916.4 C1132.6 916.4 1132.8 916.4 1132.5 916.4 C1132.2 916.3 1132.3 916.4 1132 916.3 C1131.7 916.1 1131.7 916.1 1131.6 916" fill="none" stroke-width="1.6"/>
<path d="M1141.1 901.8 C1141.4 901.9 1141.4 901.9 1142 902.2 C1142.7 902.6 1142.4 902.4 1143 902.8 C1143.6 903.2 1143.3 903 1143.8 903.5 C1144.4 903.9 1144.1 903.7 1144.6 904.2 C1145.1 904.7 1144.9 904.5 1145.4 905 C1145.8 905.6 1145.6 905.3 1146 906 C1146.4 906.6 1146.2 906.3 1146.6 906.9 C1146.9 907.6 1146.8 907.3 1147 908 C1147.3 908.7 1147.2 908.3 1147.4 909.1 C1147.6 909.8 1147.5 909.4 1147.7 910.2 C1147.8 911 1147.8 910.6 1147.8 911.3 C1147.9 912.1 1147.9 911.7 1147.9 912.5 C1147.9 913.3 1147.9 912.9 1147.8 913.7 C1147.8 914.4 1147.8 914 1147.7 914.8 C1147.5 915.6 1147.6 915.2 1147.4 915.9 C1147.2 916.7 1147.3 916.3 1147 917 C1146.8 917.7 1146.9 917.4 1146.6 918.1 C1146.2 918.7 1146.4 918.4 1146 919 C1145.6 919.7 1145.8 919.4 1145.4 920 C1144.9 920.5 1145.1 920.3 1144.6 920.8 C1144.1 921.3 1144.4 921.1 1143.8 921.5 C1143.3 922 1143.6 921.8 1143 922.2 C1142.4 922.6 1142.7 922.4 1142 922.8 C1141.4 923.1 1141.4 923.1 1141.1 923.2" fill="none" stroke-width="1.4"/>
<path d="M1121.2 928.4 L1140.7 929.2 L1152.1 934.9 L1152.1 982 L1131 993.4 L1127.7 989.3" fill="none" stroke-width="3"/>
<path d="M1147.2 935.7 L1146.4 983.6" fill="none" stroke-width="1.4"/>
<path d="M1122.9 928.4 L1119.6 956" fill="none" stroke-width="2.2"/>
<path d="M1141.6 930 L1152.1 935.7" fill="none" stroke-width="1.4"/>
<path d="M1044.9 952.7 L1127.7 962.5" fill="none" stroke-width="3"/>
<path d="M1127.7 962.5 C1129.9 964 1132.1 963.2 1135.1 967.4 C1138 971.5 1137.5 970.9 1137.5 976.3 C1137.5 981.7 1137.7 981.3 1135.1 985.2 C1132.4 989.1 1130.5 988.1 1128.6 989.3" fill="none" stroke-width="2.2"/>
<path d="M1044.9 978.7 L1128.6 989.3" fill="none" stroke-width="3"/>
<path d="M1133.4 962.5 C1135.9 965.2 1137.9 965.2 1140.7 970.6 C1143.6 976 1143.1 973.3 1142 978.7 C1141 984.2 1139 984.2 1137.5 986.9" fill="none" stroke-width="2.2"/>
<path d="M1075.1 965.8 C1075.4 965.6 1075.3 965.6 1075.9 965.2 C1076.5 964.9 1076.2 965 1076.8 964.8 C1077.4 964.6 1077.1 964.7 1077.8 964.6 C1078.4 964.6 1078.1 964.6 1078.7 964.6 C1079.4 964.7 1079.1 964.7 1079.7 964.9 C1080.3 965.1 1080 965 1080.6 965.3 C1081.1 965.7 1080.9 965.5 1081.4 965.9 C1081.9 966.4 1081.7 966.1 1082 966.7 C1082.4 967.3 1082.3 967 1082.5 967.6 C1082.8 968.3 1082.7 967.9 1082.9 968.6 C1083 969.3 1083 969 1083 969.7 C1083 970.4 1083 970 1082.9 970.7 C1082.8 971.4 1082.9 971.1 1082.6 971.7 C1082.4 972.4 1082.6 972.1 1082.2 972.7 C1081.8 973.3 1082 973 1081.6 973.5 C1081.1 974 1081.4 973.8 1080.8 974.2 C1080.3 974.5 1080.6 974.4 1080 974.6 C1079.4 974.9 1079.7 974.8 1079 974.9 C1078.4 975.1 1078.7 975 1078 975 C1077.4 975 1077.7 975 1077.1 974.9 C1076.5 974.7 1076.7 974.8 1076.2 974.5 C1075.6 974.2 1075.8 974.4 1075.3 974 C1074.8 973.6 1075 973.8 1074.6 973.3 C1074.2 972.7 1074.2 972.7 1074 972.4" fill="none" stroke-width="2.2"/>
<path d="M1116.5 969.9 C1116.8 969.7 1116.8 969.6 1117.3 969.3 C1117.9 969 1117.6 969.1 1118.2 968.9 C1118.9 968.7 1118.6 968.8 1119.2 968.7 C1119.9 968.6 1119.5 968.6 1120.2 968.7 C1120.8 968.8 1120.5 968.7 1121.1 968.9 C1121.7 969.2 1121.5 969 1122 969.4 C1122.6 969.7 1122.3 969.5 1122.8 970 C1123.3 970.5 1123.1 970.2 1123.5 970.8 C1123.9 971.3 1123.7 971 1124 971.7 C1124.2 972.3 1124.1 972 1124.3 972.7 C1124.4 973.4 1124.4 973 1124.4 973.7 C1124.4 974.4 1124.5 974.1 1124.4 974.8 C1124.2 975.5 1124.3 975.1 1124.1 975.8 C1123.8 976.4 1124 976.1 1123.6 976.7 C1123.3 977.3 1123.5 977.1 1123 977.6 C1122.6 978 1122.8 977.8 1122.3 978.2 C1121.7 978.6 1122 978.4 1121.4 978.7 C1120.8 979 1121.1 978.9 1120.5 979 C1119.8 979.1 1120.1 979.1 1119.5 979.1 C1118.8 979.1 1119.1 979.1 1118.5 978.9 C1117.9 978.8 1118.2 978.9 1117.6 978.6 C1117 978.3 1117.3 978.5 1116.8 978 C1116.2 977.6 1116.5 977.9 1116 977.3 C1115.6 976.8 1115.7 976.8 1115.5 976.5" fill="none" stroke-width="2.2"/>
<path d="M1073.3 949.5 C1074.5 946.6 1072.7 944.6 1077.4 939.7 C1082 934.9 1081.4 936.2 1088.7 933.2 C1096.1 930.3 1094.9 930.5 1101.7 930 C1108.6 929.5 1106 929.1 1111.5 931.6 C1117 934.2 1117.4 936.4 1119.9 938.4" fill="none" stroke-width="2.2"/>
<path d="M1087.1 939.7 C1090.9 940.3 1090.9 942.5 1098.5 941.4 C1106.1 940.3 1106.1 938.1 1109.9 936.5" fill="none" stroke-width="1.4"/>
<path d="M1098.5 941.4 L1105 954.4" fill="none" stroke-width="1.4"/>
<path d="M1079 949.5 C1081.7 948.4 1081.7 946.2 1087.1 946.2 C1092.5 946.2 1091.5 946.7 1095.2 949.5 C1099 952.3 1097.4 953 1098.5 954.7" fill="none" stroke-width="1.4"/>
<path d="M1044.9 947.1 L1072.5 950.6" fill="none" stroke-width="3.6"/>
<path d="M1155 959 L1184 945" fill="none" stroke-width="3.2"/>
<path d="M1167 910 L1173 904" fill="none" stroke-width="2.9"/>
<path d="M1169 911 C1171.7 911.9 1173.2 910.7 1178 914 C1182.8 917.3 1181.7 916.6 1185 922 C1188.3 927.4 1188.1 926.6 1189 932 C1189.9 937.4 1189.5 936.1 1188 940 C1186.5 943.9 1185.2 943.5 1184 945" fill="none" stroke-width="2.9"/>
<path d="M1169 908 C1170.5 906.2 1170.1 905.5 1174 902 C1177.9 898.5 1177.2 899 1182 896.5 C1186.8 894 1186.2 894.5 1190 893.5 C1193.8 892.5 1193.2 893.1 1194.5 893" fill="none" stroke-width="2.9"/>
<path d="M1176.5 904.5 C1177 903.2 1178.7 902.3 1182 901.8 C1185.3 901.3 1186.2 901.2 1189 902.5 C1191.8 903.8 1193 905.1 1192.5 906.5 C1192 907.9 1190.3 907.8 1187 907.8 C1183.7 907.8 1182.8 907.4 1180 906.5 C1177.2 905.6 1176 905.8 1176.5 904.5Z" fill="none" stroke-width="1.9"/>
<path d="M1191 910 C1192 913.3 1191.3 914.5 1194 920 C1196.7 925.5 1197.3 924.3 1199 926.5" fill="none" stroke-width="1.9"/>
<path d="M1199 926.5 C1201.1 925.4 1203.2 925.5 1204 928 C1204.8 930.5 1204.1 932.5 1202 936 C1199.9 939.5 1198 940.2 1196 941 C1194 941.8 1194.5 941.4 1194.5 939 C1194.5 936.6 1194.8 935.3 1196 932 C1197.2 928.7 1196.9 927.6 1199 926.5Z" fill="none" stroke-width="1.9"/>
<path d="M1184 945 C1185.8 945.3 1186.4 946.6 1190 946 C1193.6 945.4 1191.8 945.1 1196 943 C1200.2 940.9 1199.8 941.7 1204 939 C1208.2 936.3 1208.2 935.5 1210 934" fill="none" stroke-width="2.9"/>
<path d="M1190 894 C1192.4 895.8 1193.8 894.6 1198 900 C1202.2 905.4 1201.3 904.8 1204 912 C1206.7 919.2 1206.4 918 1207 924 C1207.6 930 1206.9 927.8 1206 932 C1205.1 936.2 1204.6 936.2 1204 938" fill="none" stroke-width="2.9"/>
<path d="M1193 900 L1200 907" fill="none" stroke-width="1.4"/>
<path d="M1200 896 C1201.8 898.4 1202.7 898.6 1206 904 C1209.3 909.4 1209 908 1211 914 C1213 920 1212.7 918.6 1212.5 924 C1212.3 929.4 1211.1 929.6 1210.5 932" fill="none" stroke-width="2.9"/>
<path d="M1205 895 C1207.1 895.9 1208.4 895 1212 898 C1215.6 901 1214.6 900.2 1217 905 C1219.4 909.8 1219.2 909.5 1220 914 C1220.8 918.5 1219.7 918.2 1219.5 920" fill="none" stroke-width="2.9"/>
<path d="M1194.5 893 C1195.5 891.8 1195.2 890.8 1198 889 C1200.8 887.2 1200.4 887.1 1204 887 C1207.6 886.9 1206.4 886.4 1210 888.5 C1213.6 890.6 1212.1 889 1216 894 C1219.9 899 1219.7 898.4 1223 905 C1226.3 911.6 1226 910 1227 916 C1228 922 1227.7 920.2 1226.5 925 C1225.3 929.8 1225.8 929 1223 932 C1220.2 935 1219.7 934.4 1217 935 C1214.3 935.6 1214.9 934.3 1214 934" fill="none" stroke-width="2.9"/>
<path d="M1212 888.5 C1215.3 887.1 1217.6 885.5 1223 884 C1228.4 882.5 1226.4 882.9 1230 883.5 C1233.6 884.1 1231.7 883.1 1235 886 C1238.3 888.9 1238 888.2 1241 893 C1244 897.8 1243.5 897.2 1245 902 C1246.5 906.8 1246.3 905.4 1246 909 C1245.7 912.6 1245.5 911.6 1244 914 C1242.5 916.4 1241.9 916.1 1241 917" fill="none" stroke-width="2.9"/>
<path d="M1241 917 L1228 923" fill="none" stroke-width="2.9"/>
<path d="M1226.5 894.5 C1228 896.7 1228.5 896.5 1231 901 C1233.5 905.5 1232.8 903.7 1234 908 C1235.2 912.3 1234.3 912 1234.5 914" fill="none" stroke-width="1.5"/>
<path d="M1238 887.5 L1247.5 883.5" fill="none" stroke-width="2.9"/>
<path d="M1246 904 L1255 899.5" fill="none" stroke-width="2.9"/>
<path d="M1246.5 883 C1247 882 1246.3 881.1 1248 879.5 C1249.7 877.9 1249.6 877.8 1252 877.5 C1254.4 877.2 1253.6 876.5 1256 878.5 C1258.4 880.5 1257.9 880.2 1260 884 C1262.1 887.8 1262 887.1 1263 891 C1264 894.9 1264.1 894 1263.5 897 C1262.9 900 1263 899.5 1261 901 C1259 902.5 1258.8 902.5 1257 902 C1255.2 901.5 1255.6 900.2 1255 899.5" fill="none" stroke-width="2.9"/>
<path d="M1248 884 C1249.7 885.7 1250.3 885.3 1253 889 C1255.7 892.7 1255.3 891.5 1256 895 C1256.7 898.5 1255.3 898 1255 899.5" fill="none" stroke-width="2.9"/>
<path d="M1256 878.5 L1272 873.5" fill="none" stroke-width="2.9"/>
<path d="M1272 873.5 C1273.7 874 1274.5 872.5 1277 875 C1279.5 877.5 1279.2 877.7 1279.5 881 C1279.8 884.3 1279.8 883 1278 885 C1276.2 887 1275.3 886.3 1274 887" fill="none" stroke-width="2.9"/>
<path d="M1274 887 L1264 893" fill="none" stroke-width="2.9"/>
<path d="M1258 879.5 C1259.3 881 1259.8 880.5 1262 884 C1264.2 887.5 1263.7 888 1264.5 890" fill="none" stroke-width="1.9"/>
<path d="M1263 877 C1264.3 878.7 1265 878.2 1267 882 C1269 885.8 1268.3 886.3 1269 888.5" fill="none" stroke-width="1.9"/>
<path d="M1268 875.5 C1269 877 1269.3 876.5 1271 880 C1272.7 883.5 1272.3 884 1273 886" fill="none" stroke-width="1.9"/>
<path d="M1040 893.1 C1037.7 894 1035.2 893.8 1031.2 896.2 C1027.2 898.8 1027.8 898.5 1025 902.5 C1022.2 906.5 1022.8 904.9 1020.6 911.2 C1018.5 917.6 1019 916.6 1016.9 926.2 C1014.7 935.9 1015.3 934.5 1012.5 947.5 C1009.7 960.5 1007.9 967.7 1006.2 975" fill="none" stroke-width="3"/>
<path d="M1006.2 975 L1013.8 991.9 L1042.5 986.9 L1045 960" fill="none" stroke-width="3"/>
<path d="M1041.2 923.8 C1043.5 922.2 1043.1 920.8 1048.8 918.8 C1054.4 916.7 1053.6 916.9 1060 916.9 C1066.4 916.9 1064.8 917.1 1070 918.8 C1075.2 920.4 1073.4 919.7 1077.5 922.5 C1081.6 925.3 1081.9 926.4 1083.8 928.1" fill="none" stroke-width="3"/>
<path d="M1041.2 923.8 C1040.7 927.5 1039.8 933.3 1038.8 940 C1037.7 946.7 1036.6 948.4 1036.9 952.5 C1037.2 956.6 1038 955.9 1040 957.5 C1042 959.1 1044.3 958.9 1045.6 959.4" fill="none" stroke-width="2.8"/>
<path d="M1045.6 925 L1042.5 950" fill="none" stroke-width="2.8"/>
<path d="M1045 935.6 L1073.1 948.1" fill="none" stroke-width="3"/>
<path d="M1040 958.1 L1038.5 985.6" fill="none" stroke-width="1.8"/>
<path d="M1012.8 972.5 A11.6 12.4 0 1 0 1036 972.5 A11.6 12.4 0 1 0 1012.8 972.5 Z" fill="none" stroke-width="2.8"/>
<path d="M1016.1 974 A5.4 5.8 0 1 0 1026.9 974 A5.4 5.8 0 1 0 1016.1 974 Z" fill="none" stroke-width="1.8"/>
<path d="M1019.9 972.8 C1020 972.7 1020 972.6 1020.2 972.4 C1020.4 972.1 1020.3 972.2 1020.5 972 C1020.8 971.8 1020.7 971.8 1020.9 971.7 C1021.2 971.5 1021.1 971.6 1021.4 971.5 C1021.7 971.4 1021.5 971.4 1021.8 971.4 C1022.2 971.4 1022 971.4 1022.3 971.4 C1022.6 971.5 1022.5 971.4 1022.8 971.5 C1023.1 971.7 1022.9 971.6 1023.2 971.8 C1023.5 972 1023.3 971.9 1023.6 972.1 C1023.8 972.3 1023.7 972.2 1023.9 972.5 C1024.1 972.8 1024 972.6 1024.2 973 C1024.3 973.3 1024.2 973.1 1024.3 973.5 C1024.4 973.8 1024.4 973.7 1024.4 974 C1024.4 974.4 1024.4 974.2 1024.4 974.6 C1024.3 974.9 1024.4 974.8 1024.3 975.1 C1024.2 975.4 1024.2 975.3 1024.1 975.6 C1023.9 975.9 1024 975.8 1023.8 976 C1023.6 976.3 1023.7 976.2 1023.5 976.4 C1023.2 976.6 1023.3 976.6 1023.1 976.7 C1022.8 976.9 1022.9 976.8 1022.6 976.9 C1022.3 977 1022.5 977 1022.2 977 C1021.8 977 1022 977 1021.7 977 C1021.4 976.9 1021.5 977 1021.2 976.9 C1020.9 976.7 1020.9 976.7 1020.8 976.6" fill="none" stroke-width="1.7"/>
<path d="M1030.3 963.9 C1030.5 964 1030.5 964 1030.9 964.3 C1031.3 964.6 1031.1 964.4 1031.5 964.8 C1031.9 965.2 1031.7 965 1032.1 965.4 C1032.4 965.7 1032.3 965.5 1032.6 966 C1032.9 966.4 1032.8 966.2 1033 966.6 C1033.3 967.1 1033.2 966.8 1033.4 967.3 C1033.7 967.8 1033.6 967.5 1033.8 968 C1034 968.5 1033.9 968.3 1034.1 968.8 C1034.3 969.3 1034.2 969 1034.3 969.6 C1034.4 970.1 1034.4 969.8 1034.5 970.4 C1034.6 970.9 1034.5 970.6 1034.6 971.2 C1034.6 971.7 1034.6 971.5 1034.6 972 C1034.6 972.5 1034.6 972.3 1034.6 972.8 C1034.5 973.4 1034.6 973.1 1034.5 973.6 C1034.4 974.2 1034.4 973.9 1034.3 974.4 C1034.2 975 1034.3 974.7 1034.1 975.2 C1033.9 975.7 1034 975.5 1033.8 976 C1033.6 976.5 1033.7 976.2 1033.4 976.7 C1033.2 977.2 1033.3 976.9 1033 977.4 C1032.8 977.8 1032.9 977.6 1032.6 978 C1032.3 978.5 1032.4 978.3 1032.1 978.6 C1031.7 979 1031.9 978.8 1031.5 979.2 C1031.1 979.6 1031.3 979.4 1030.9 979.7 C1030.5 980 1030.5 980 1030.3 980.1" fill="none" stroke-width="1.8"/>
<path d="M1026.2 885 L1042.5 892.2" fill="none" stroke-width="3"/>
<path d="M1032.5 899.8 L1072.5 900" fill="none" stroke-width="1.8"/>
<path d="M541.2 850 C541.8 851.2 539.1 846 543.8 855 C548.4 864 555.1 878.8 561.2 888.8 C567.4 898.7 565.9 894.6 570 897.5 C574.1 900.4 576.7 900.4 578.8 901.2" fill="none" stroke-width="3"/>
<path d="M548.8 850 C549.3 850.9 546.9 844.7 551.2 853.8 C555.6 862.8 562.2 879.1 567.5 888.8 C572.8 898.4 570.5 893 573.8 895 C577 897 579.5 896.9 581.2 897.5" fill="none" stroke-width="1.4"/>
<path d="M555 838.8 C555.8 840.5 554.8 838.8 558.8 847.5 C562.8 856.2 569.2 874.2 575 882.5 C580.8 890.8 585 887.5 587.5 888.8" fill="none" stroke-width="3"/>
<path d="M560 842.5 L617.5 866.9" fill="none" stroke-width="1.8"/>
<path d="M646.2 849.8 C648.6 849.8 651.7 847.9 655 850 C658.3 852.1 659.9 850.2 658.8 857.5 C657.6 864.8 651.3 869.5 650.6 877.5 C650 885.5 651.8 879.5 656.2 887.5 C660.8 895.5 662.8 900 667.5 907.5 C672.2 915 670.4 912.5 673.8 915.6 C677.1 918.8 676.7 918 680 919.4 C683.3 920.7 682.9 920.8 686.2 920.6 C689.6 920.5 689.2 920.8 692.5 918.8 C695.8 916.8 688.8 924.8 698.8 913.1 C708.8 901.5 721.7 885.2 730 875" fill="none" stroke-width="2.8"/>
<path d="M650 853.8 C648.2 861.3 641.3 873.1 642.5 886.2 C643.7 899.4 649.2 897.5 655 910 C660.8 922.5 664.6 933 667.5 940" fill="none" stroke-width="1.4"/>
<path d="M646.2 851.2 C644.2 858.5 637.8 879 636.2 887.5 C634.8 896 636 888.2 638.8 893.8 C641.5 899.2 646.8 908.2 650 915 C653.2 921.8 652.8 922.5 655 927.5 C657.2 932.5 660 937.5 661.2 940" fill="none" stroke-width="3"/>
<path d="M621.2 905 L647.5 918.8" fill="none" stroke-width="3.6"/>
<path d="M571.8 831.8 C572 831.7 572 831.6 572.3 831.3 C572.6 831 572.4 831.2 572.8 830.9 C573.1 830.7 572.9 830.8 573.3 830.6 C573.7 830.5 573.5 830.5 573.8 830.5 C574.2 830.4 574 830.4 574.4 830.5 C574.7 830.5 574.6 830.5 574.9 830.6 C575.2 830.7 575.1 830.6 575.4 830.8 C575.7 831 575.5 830.9 575.8 831.2 C576 831.5 575.9 831.3 576.1 831.7 C576.3 832 576.2 831.8 576.3 832.2 C576.4 832.6 576.4 832.4 576.4 832.8 C576.5 833.3 576.5 833.1 576.4 833.5 C576.4 833.9 576.4 833.7 576.3 834.2 C576.2 834.6 576.3 834.4 576.1 834.8 C575.9 835.2 576 835 575.8 835.4 C575.6 835.8 575.7 835.6 575.4 836 C575.1 836.3 575.3 836.2 574.9 836.4 C574.6 836.7 574.8 836.6 574.4 836.8 C574.1 836.9 574.3 836.9 573.9 837 C573.5 837.1 573.7 837 573.3 837 C573 837.1 573.2 837.1 572.8 837 C572.5 836.9 572.6 837 572.3 836.8 C572 836.6 572.1 836.7 571.9 836.5 C571.6 836.2 571.6 836.2 571.5 836.1" fill="none" stroke-width="1.8"/>
<path d="M573.1 860.6 C573.2 860.4 573.2 860.4 573.5 860.1 C573.8 859.8 573.7 859.9 574 859.7 C574.4 859.4 574.2 859.5 574.5 859.4 C574.9 859.2 574.7 859.3 575.1 859.2 C575.5 859.2 575.3 859.2 575.6 859.2 C576 859.2 575.8 859.2 576.2 859.3 C576.5 859.4 576.3 859.4 576.6 859.6 C576.9 859.8 576.8 859.7 577 859.9 C577.3 860.2 577.2 860.1 577.3 860.4 C577.5 860.8 577.5 860.6 577.6 861 C577.7 861.4 577.6 861.2 577.7 861.6 C577.7 862 577.7 861.8 577.7 862.2 C577.7 862.7 577.7 862.5 577.6 862.9 C577.5 863.4 577.5 863.2 577.4 863.6 C577.2 864 577.3 863.8 577.1 864.2 C576.8 864.6 577 864.4 576.7 864.7 C576.4 865 576.5 864.9 576.2 865.2 C575.9 865.4 576 865.3 575.7 865.5 C575.3 865.7 575.5 865.6 575.1 865.7 C574.8 865.8 575 865.8 574.6 865.8 C574.2 865.8 574.4 865.8 574.1 865.7 C573.7 865.7 573.9 865.7 573.6 865.6 C573.3 865.4 573.4 865.5 573.1 865.2 C572.9 865 572.9 864.9 572.8 864.8" fill="none" stroke-width="1.8"/>
<path d="M633.1 859.3 C633.2 859.2 633.2 859.1 633.5 858.8 C633.8 858.5 633.7 858.7 634 858.4 C634.4 858.2 634.2 858.3 634.5 858.1 C634.9 858 634.7 858 635.1 858 C635.5 857.9 635.3 857.9 635.6 858 C636 858 635.8 858 636.2 858.1 C636.5 858.2 636.3 858.1 636.6 858.3 C636.9 858.5 636.8 858.4 637 858.7 C637.3 859 637.2 858.8 637.3 859.2 C637.5 859.5 637.5 859.3 637.6 859.7 C637.7 860.1 637.6 859.9 637.7 860.3 C637.7 860.8 637.7 860.6 637.7 861 C637.7 861.4 637.7 861.2 637.6 861.7 C637.5 862.1 637.5 861.9 637.4 862.3 C637.2 862.7 637.3 862.5 637.1 862.9 C636.8 863.3 637 863.1 636.7 863.5 C636.4 863.8 636.5 863.7 636.2 863.9 C635.9 864.2 636 864.1 635.7 864.3 C635.3 864.4 635.5 864.4 635.1 864.5 C634.8 864.6 635 864.5 634.6 864.5 C634.2 864.6 634.4 864.6 634.1 864.5 C633.7 864.4 633.9 864.5 633.6 864.3 C633.3 864.1 633.4 864.2 633.1 864 C632.9 863.7 632.9 863.7 632.8 863.6" fill="none" stroke-width="1.8"/>
<path d="M627.1 885.9 C627.3 885.7 627.2 885.7 627.5 885.4 C627.8 885.2 627.6 885.3 627.9 885.1 C628.2 884.9 628.1 885 628.4 884.9 C628.7 884.7 628.5 884.8 628.8 884.7 C629.1 884.7 629 884.7 629.3 884.7 C629.6 884.7 629.4 884.7 629.7 884.8 C630 884.9 629.9 884.8 630.1 885 C630.4 885.2 630.3 885.1 630.5 885.3 C630.7 885.6 630.6 885.4 630.7 885.7 C630.9 886 630.8 885.9 630.9 886.2 C631 886.5 631 886.4 631 886.7 C631.1 887.1 631.1 886.9 631 887.3 C631 887.7 631 887.5 630.9 887.9 C630.8 888.2 630.9 888.1 630.8 888.4 C630.6 888.8 630.7 888.6 630.5 888.9 C630.3 889.2 630.4 889.1 630.2 889.4 C629.9 889.7 630 889.5 629.8 889.8 C629.5 890 629.6 889.9 629.3 890 C629 890.2 629.2 890.1 628.9 890.2 C628.6 890.3 628.7 890.3 628.4 890.3 C628.1 890.3 628.2 890.3 628 890.2 C627.7 890.2 627.8 890.2 627.5 890.1 C627.3 889.9 627.4 890 627.2 889.8 C626.9 889.6 627 889.6 626.9 889.5" fill="none" stroke-width="1.8"/>
<path d="M607.5 885.6 C609.4 885.1 611.3 886.2 613.8 883.8 C616.2 881.3 616.4 881.6 615.6 877.5 C614.9 873.4 614.8 873.8 611.2 870 C607.7 866.2 608.2 866.1 603.8 865 C599.2 863.9 599.2 864 596.2 866.2 C593.2 868.5 594.1 869.5 593.8 872.5 C593.4 875.5 594.6 875.1 595 876.2" fill="none" stroke-width="3.6"/>
<path d="M598.1 876.2 C598.2 874.6 597 873.5 598.5 871.2 C600 869 599.9 869.4 602.5 869.4 C605.1 869.4 605 870.6 606.2 871.2" fill="none" stroke-width="2.8"/>
<path d="M605 881.2 C606.7 881.7 607.3 883.1 610 882.5 C612.7 881.9 612.1 880.4 613.1 879.4" fill="none" stroke-width="2.8"/>
<path d="M596.2 892.5 C597.5 893.8 597.5 894.2 600 896.2 C602.5 898.3 603.8 896.7 603.8 898.8 C603.8 900.8 604.6 900.6 600 902.5 C595.4 904.4 593.3 903.8 590 904.4" fill="none" stroke-width="3.6"/>
<path d="M597.5 890 L612.5 900" fill="none" stroke-width="3.6"/>
<path d="M593.8 883.8 L600 885 L599.4 890" fill="none" stroke-width="2.8"/>
<path d="M606.2 873.1 L580 905" fill="none" stroke-width="1.8"/>
<path d="M576.2 910 L552.5 940" fill="none" stroke-width="1.8"/>
<path d="M628.8 886.2 L607.5 913.8" fill="none" stroke-width="1.8"/>
<path d="M603.8 918.1 L585 940" fill="none" stroke-width="1.8"/>
<path d="M537.5 815 L572.5 832.5" fill="none" stroke-width="1.8"/>
<path d="M640 810 L647.5 818.8" fill="none" stroke-width="3.6"/>
<path d="M652.5 822.8 L675 832.5 L680 826.2 L667.5 803.8 L666.2 790" fill="none" stroke-width="3"/>
<path d="M648.8 815 C649.2 813.5 647.9 812.3 650 810.6 C652.1 809 651.7 808.8 655 810 C658.3 811.2 658.8 811.2 660 814.4 C661.2 817.5 660.4 817.1 658.8 819.4 C657.1 821.7 656.2 820.6 655 821.2" fill="none" stroke-width="3.6"/>
<path d="M652.5 802.5 L658.8 803.8" fill="none" stroke-width="1.8"/>
<path d="M636.2 795.6 L641.2 796.9" fill="none" stroke-width="1.8"/>
<path d="M677.5 795 L730 807.5" fill="none" stroke-width="3.6"/>
<path d="M705 790 C709.2 793.3 709.2 795.4 717.5 800 C725.8 804.6 725.8 802.5 730 803.8" fill="none" stroke-width="2.8"/>
<path d="M699.5 850.5 C699.2 849.9 697.2 848.8 698 847 C698.8 845.2 702.7 840.8 704.5 839.5 C706.3 838.2 707.2 838.5 709 839 C710.8 839.5 713.2 840.9 715 842.5 C716.8 844.1 718.8 846.7 720 848.5 C721.2 850.3 721.9 852.1 722 853.5 C722.1 854.9 721.4 855.8 720.5 857 C719.6 858.2 717.7 859.8 716.5 860.5 C715.3 861.2 714.4 861.1 713.5 861 C712.6 860.9 711.6 859.8 711.2 859.6" fill="none" stroke-width="2.8"/>
<path d="M703 844.1 C703.1 843.4 703.8 842.4 705 841.9 C706.2 841.3 707.5 841.3 708 841.8 C708.5 842.3 707.8 843.3 707 844 C706.2 844.7 705.4 844.8 704.5 844.8 C703.6 844.8 702.9 844.8 703 844.1Z" fill="none" stroke-width="1.7"/>
<path d="M699.5 846.6 L707 845.8 L710 842.6" fill="none" stroke-width="1.8"/>
<path d="M707 845.8 L716 852.5 L719.5 849.1" fill="none" stroke-width="1.8"/>
<path d="M716 852.5 L716.5 858" fill="none" stroke-width="1.8"/>
<path d="M699.5 850.5 C700.7 850.3 700.3 849.7 703 850 C705.7 850.3 704.7 849.5 707.5 851.5 C710.3 853.5 709.5 853.2 711.5 856 C713.5 858.8 712.8 858.7 713.5 860" fill="none" stroke-width="2.2"/>
<path d="M699.5 851.5 L687 865.5" fill="none" stroke-width="2.8"/>
<path d="M711.5 861 L697.5 875" fill="none" stroke-width="2.8"/>
<path d="M687 865.5 C686.9 866.4 685.9 866.4 686.5 868.5 C687.1 870.6 687 870.4 689 872.5 C691 874.6 690.8 874.5 693 875.5 C695.2 876.5 695 876.3 696.5 876 C698 875.7 697.5 875 698 874.5" fill="none" stroke-width="2.6"/>
<path d="M687.2 866 C688.5 866.4 688.4 865.8 691 867.2 C693.6 868.8 693.1 868.2 695 870.5 C696.9 872.8 696.2 872.8 696.8 874" fill="none" stroke-width="2"/>
<path d="M700 854 C701.7 854.2 701.8 853 705 854.5 C708.2 856 707.7 856 709.5 858.5 C711.3 861 710.2 860.8 710.5 862" fill="none" stroke-width="1.9"/>
<path d="M695 859.5 C696.6 859.8 696.6 858.9 699.8 860.5 C702.9 862.1 702.7 862 704.5 864.2 C706.3 866.5 705 866.2 705.2 867.2" fill="none" stroke-width="1.9"/>
<path d="M690.5 864.8 C692 865.2 692.2 864.3 695 866 C697.8 867.7 697.2 867.6 698.8 869.8 C700.3 871.9 699.4 871.6 699.8 872.5" fill="none" stroke-width="1.9"/>
<path d="M655 879.4 L676.2 889.4 L687.5 875.6" fill="none" stroke-width="1.8"/>
<path d="M702.5 940 L730 901.2" fill="none" stroke-width="3.6"/>
<path d="M728.8 781.9 C724.6 781.7 721.8 780.3 715 781.2 C708.2 782.2 709.1 782.4 706.2 785 C703.4 787.6 704.5 786.2 705.6 790 C706.8 793.8 706.1 793.2 710 797.5 C713.9 801.8 716.1 802.3 718.8 804.4" fill="none" stroke-width="2.8"/>
<path d="M678.8 795 L796.9 829.4" fill="none" stroke-width="3"/>
<path d="M702.5 770 C710 772.9 716.2 774.6 725 778.8 C733.8 782.9 727.7 781.2 729 782.5" fill="none" stroke-width="1.8"/>
<path d="M740 778.8 L785 793.1" fill="none" stroke-width="1.8"/>
<path d="M780 791.2 L822.5 803.5" fill="none" stroke-width="3.8"/>
<path d="M730 875 C735.8 866.7 739.2 863.3 747.5 850 C755.8 836.7 751.9 842.5 755 835 C758.1 827.5 756.2 830 756.9 827.5" fill="none" stroke-width="2.8"/>
<path d="M715 920 C730.3 900.7 753.8 869.8 772.5 847.5 C791.2 825.2 779 840.6 785 836.2 C791 831.9 792.3 832.6 795 831.2" fill="none" stroke-width="3.6"/>
<path d="M658.8 935 C659.5 936.5 659 937.6 661.2 940 C663.5 942.4 662.9 941.4 666.2 943.1 C669.6 944.8 667.6 944.3 672.5 945.6 C677.4 946.9 676.5 947.7 682.5 947.5 C688.5 947.3 686.5 948.4 692.5 945 C698.5 941.6 695.8 943.8 702.5 936.2 C709.2 928.8 711.2 924.9 715 920" fill="none" stroke-width="4"/>
<path d="M667.5 940 C670 940.8 670.4 941.2 675 942.5 C679.6 943.8 679.2 943.5 681.2 944" fill="none" stroke-width="1.8"/>
<path d="M811.2 676 C815.1 676.6 821.5 680.5 825 683.5 C828.5 686.5 830.2 688.8 830.2 692.5 C830.2 696.2 827.6 701.1 825 703.8 C822.4 706.4 820.3 707.9 816.2 707 C812.2 706.1 806 702.3 802.8 698.8 C799.5 695.2 798.3 691.1 798.5 687.8 C798.7 684.4 801.7 682.4 804 680.2 C806.3 678.1 807.4 675.4 811.2 676Z" fill="none" stroke-width="3"/>
<path d="M803.8 680 L817.5 687.5 L825 683.8" fill="none" stroke-width="1.8"/>
<path d="M817.5 687.5 L823.1 698.8 L830 693.1" fill="none" stroke-width="1.8"/>
<path d="M823.1 698.8 L816.9 706.9" fill="none" stroke-width="1.8"/>
<path d="M804.2 694.1 C804.3 693.7 804.2 693.7 804.3 693 C804.3 692.4 804.3 692.7 804.4 692.1 C804.6 691.4 804.5 691.7 804.8 691.1 C805.1 690.6 804.9 690.8 805.3 690.4 C805.7 689.9 805.5 690.1 805.9 689.7 C806.4 689.3 806.2 689.5 806.7 689.2 C807.2 688.9 807 689 807.5 688.9 C808.1 688.7 807.8 688.8 808.5 688.7 C809.1 688.7 808.8 688.7 809.4 688.8 C810 688.9 809.7 688.8 810.4 689 C811 689.3 810.7 689.1 811.3 689.5 C811.9 689.8 811.6 689.6 812.2 690 C812.7 690.5 812.5 690.2 812.9 690.8 C813.4 691.3 813.2 691 813.6 691.6 C814 692.2 813.8 691.9 814.1 692.6 C814.4 693.2 814.3 692.9 814.5 693.6 C814.7 694.3 814.6 693.9 814.7 694.6 C814.8 695.3 814.8 695 814.8 695.7 C814.7 696.4 814.8 696 814.6 696.7 C814.5 697.3 814.6 697 814.3 697.6 C814.1 698.2 814.2 697.9 813.9 698.4 C813.5 698.9 813.7 698.7 813.3 699.1 C812.8 699.5 813.1 699.4 812.5 699.7 C812 700 812 699.9 811.7 700.1" fill="none" stroke-width="1.8"/>
<path d="M809.5 691.9 C809.7 692 809.7 692 810 692 C810.3 692.1 810.1 692.1 810.4 692.2 C810.7 692.3 810.5 692.2 810.8 692.4 C811.1 692.6 810.9 692.5 811.2 692.7 C811.4 692.9 811.3 692.8 811.5 693.1 C811.7 693.3 811.6 693.2 811.8 693.5 C812 693.8 811.9 693.6 812 693.9 C812.2 694.2 812.1 694.1 812.2 694.4 C812.3 694.7 812.3 694.6 812.3 694.9 C812.4 695.2 812.4 695 812.4 695.3 C812.4 695.7 812.4 695.5 812.3 695.8 C812.3 696.1 812.3 696 812.2 696.2 C812.1 696.5 812.2 696.4 812 696.6 C811.9 696.9 812 696.8 811.8 697 C811.6 697.2 811.7 697.1 811.5 697.3 C811.3 697.4 811.4 697.3 811.2 697.5 C810.9 697.6 811.1 697.5 810.8 697.6 C810.5 697.7 810.7 697.6 810.4 697.7 C810.1 697.7 810.3 697.7 810 697.6 C809.7 697.6 809.8 697.6 809.5 697.5 C809.3 697.4 809.4 697.5 809.1 697.4 C808.8 697.2 809 697.3 808.7 697.1 C808.5 696.9 808.6 697 808.3 696.8 C808.1 696.6 808.1 696.6 808 696.4" fill="none" stroke-width="1.6"/>
<path d="M787.5 703.8 C789.8 703.2 790.1 701.1 795 701.9 C799.9 702.6 799.7 702.3 803.8 706.2 C807.8 710.2 807.8 709.9 808.5 715 C809.2 720.1 809.2 719.9 806.2 723.1 C803.3 726.3 802.9 726 798.8 725.6 C794.6 725.2 794.4 723 792.5 721.9" fill="none" stroke-width="2.8"/>
<path d="M786.2 705.6 C785.4 707.1 784.2 706.5 783.8 710 C783.3 713.5 782.9 713.5 785 716.2 C787.1 719 788.3 717.5 790 718.1" fill="none" stroke-width="2.8"/>
<path d="M790 706.2 C789.2 707.9 787.7 707.7 787.5 711.2 C787.3 714.8 788.8 715 789.4 716.9" fill="none" stroke-width="1.8"/>
<path d="M793 718.8 A4.6 5.6 -30 1 0 801 714.2 A4.6 5.6 -30 1 0 793 718.8 Z" fill="none" stroke-width="1.8"/>
<path d="M795.8 714.8 C795.9 714.7 795.9 714.7 796.1 714.6 C796.3 714.5 796.2 714.5 796.4 714.4 C796.6 714.4 796.5 714.4 796.7 714.4 C797 714.3 796.9 714.3 797.1 714.3 C797.4 714.4 797.2 714.3 797.5 714.4 C797.7 714.4 797.6 714.4 797.9 714.5 C798.1 714.6 798 714.5 798.2 714.7 C798.5 714.8 798.4 714.8 798.6 714.9 C798.8 715.1 798.7 715 798.9 715.2 C799.1 715.4 799 715.3 799.2 715.6 C799.4 715.8 799.3 715.7 799.4 715.9 C799.6 716.2 799.5 716.1 799.6 716.3 C799.7 716.6 799.7 716.5 799.8 716.8 C799.8 717 799.8 716.9 799.8 717.2 C799.9 717.5 799.9 717.3 799.9 717.6 C799.9 717.9 799.9 717.7 799.8 718 C799.8 718.3 799.8 718.1 799.7 718.4 C799.6 718.6 799.7 718.5 799.6 718.7 C799.5 718.9 799.5 718.9 799.4 719 C799.2 719.2 799.3 719.1 799.1 719.3 C798.9 719.4 799 719.4 798.8 719.5 C798.6 719.6 798.7 719.5 798.5 719.6 C798.3 719.7 798.4 719.6 798.1 719.7 C797.9 719.7 797.9 719.7 797.8 719.6" fill="none" stroke-width="2"/>
<path d="M793.1 703.8 C795.4 704.6 796 703.1 800 706.2 C804 709.4 803.5 708.5 805 713.1 C806.5 717.7 804.6 717.7 804.4 720" fill="none" stroke-width="1.8"/>
<path d="M795.6 713.1 L784 727.5" fill="none" stroke-width="1.8"/>
<path d="M423.8 1022.5 C420.8 1026.2 419.4 1028.2 413.8 1035 C408.1 1041.8 409.1 1038.2 405 1045 C400.9 1051.8 402.1 1050 400 1057.5 C397.9 1065 397.9 1061.8 398.1 1070 C398.3 1078.2 399.3 1079 400.6 1085 C401.9 1091 401.9 1088.5 402.5 1090" fill="none" stroke-width="3"/>
<path d="M408.8 1098.8 L416.2 1110" fill="none" stroke-width="3"/>
<path d="M423.1 1022.5 L430 1021.2 L431.9 1026.9 L424.4 1028.8Z" fill="none" stroke-width="2.2"/>
<path d="M431.2 1018.8 L436.2 1007.5 L441.2 1006.9" fill="none" stroke-width="2.2"/>
<path d="M433.8 1018.8 L438.8 1010" fill="none" stroke-width="2.2"/>
<path d="M431.2 1018.8 L433.8 1018.8" fill="none" stroke-width="2.2"/>
<path d="M441.2 1006.9 L451.2 1000 L455 996.2" fill="none" stroke-width="2.2"/>
<path d="M424.4 1030 L431.2 1028.1 L441.2 1025" fill="none" stroke-width="1.4"/>
<path d="M400.1 1093.8 A6.2 5.6 0 1 0 412.5 1093.8 A6.2 5.6 0 1 0 400.1 1093.8 Z" fill="none" stroke-width="2.2"/>
<path d="M403.8 1090 L404 1097.5" fill="none" stroke-width="1.4"/>
<path d="M408.8 1089.4 L409 1097.5" fill="none" stroke-width="1.4"/>
<path d="M410.6 1086.5 C410.8 1086.5 410.8 1086.5 411.2 1086.6 C411.6 1086.7 411.4 1086.7 411.8 1086.8 C412.2 1086.9 412 1086.9 412.4 1087 C412.7 1087.2 412.6 1087.1 412.9 1087.3 C413.3 1087.5 413.1 1087.4 413.4 1087.7 C413.7 1087.9 413.6 1087.8 413.9 1088 C414.2 1088.3 414 1088.2 414.3 1088.5 C414.6 1088.8 414.4 1088.6 414.7 1088.9 C414.9 1089.2 414.8 1089.1 415 1089.4 C415.2 1089.8 415.1 1089.6 415.3 1089.9 C415.4 1090.3 415.4 1090.1 415.5 1090.5 C415.6 1090.8 415.5 1090.7 415.6 1091 C415.7 1091.4 415.7 1091.2 415.7 1091.6 C415.7 1092 415.7 1091.8 415.7 1092.2 C415.7 1092.5 415.7 1092.4 415.6 1092.7 C415.6 1093.1 415.6 1092.9 415.5 1093.3 C415.4 1093.7 415.5 1093.5 415.4 1093.8 C415.2 1094.2 415.3 1094 415.1 1094.4 C414.9 1094.7 415 1094.5 414.8 1094.9 C414.6 1095.2 414.7 1095 414.5 1095.3 C414.2 1095.6 414.4 1095.5 414.1 1095.8 C413.8 1096.1 413.9 1095.9 413.6 1096.2 C413.3 1096.4 413.5 1096.3 413.1 1096.5 C412.8 1096.8 412.8 1096.7 412.6 1096.8" fill="none" stroke-width="1.4"/>
<path d="M453.8 1001.2 L463.8 991.2" fill="none" stroke-width="2.2"/>
<path d="M453.8 1001.2 C452.9 1004.2 451.7 1005 451.2 1010 C450.8 1015 452.1 1014.2 452.5 1016.2" fill="none" stroke-width="2.2"/>
<path d="M453.8 1001.9 L481.9 1012.5" fill="none" stroke-width="3"/>
<path d="M481.9 1012.5 L498.8 996.2" fill="none" stroke-width="2.2"/>
<path d="M498.8 996.2 L501.2 1006.2 L500 1013.8 L482.5 1027.5" fill="none" stroke-width="2.2"/>
<path d="M452.5 1016.2 C455 1017.5 454.2 1017.1 460 1020 C465.8 1022.9 463.3 1022.5 470 1025 C476.7 1027.5 475.8 1026.7 480 1027.5 C484.2 1028.3 481.7 1027.5 482.5 1027.5" fill="none" stroke-width="2.2"/>
<path d="M481.9 1012.5 L482.5 1027.5" fill="none" stroke-width="2.2"/>
<path d="M453.8 1012.5 L461.2 1015 L460 1019.4 L453.1 1016.9Z" fill="none" stroke-width="2.2"/>
<path d="M470.1 1022.8 A3.8 2.6 15 1 0 477.5 1024.8 A3.8 2.6 15 1 0 470.1 1022.8 Z" fill="none" stroke-width="2.2"/>
<path d="M486.6 1020.6 A2.2 2.4 0 1 0 491 1020.6 A2.2 2.4 0 1 0 486.6 1020.6 Z" fill="none" stroke-width="1.8"/>
<path d="M495 1010 L498.8 1007.5 L499.4 1011.2" fill="none" stroke-width="1.4"/>
<path d="M485 1027.5 L501.2 1015" fill="none" stroke-width="1.4"/>
<path d="M483.1 1035 L502.5 1020" fill="none" stroke-width="2.2"/>
<path d="M463.8 996.2 L465 991.2 L466.2 981.2 L470 976.2 L472.5 977.5 L471.2 992.5 L470.6 1001.2" fill="none" stroke-width="2.2"/>
<path d="M466.2 981.2 L472.5 985" fill="none" stroke-width="1.4"/>
<path d="M480 982.5 L486.2 973.8 L486.9 985 L485 1000 L480 997.5 L480 982.5" fill="none" stroke-width="2.2"/>
<path d="M468.8 1002.5 L470 991.2 L476.2 993.8 L475.6 1005 L468.8 1002.5" fill="none" stroke-width="2.2"/>
<path d="M476.2 987.5 L480 986.2 L481.2 997.5 L477.5 998.8 L476.2 987.5" fill="none" stroke-width="2.2"/>
<path d="M488.8 988.8 L491.2 986.2 L493.8 992.5 L490 1001.2 L488.8 988.8" fill="none" stroke-width="2.2"/>
<path d="M481.9 988.8 L485.6 989.4 L485 1000 L482.2 998.8Z" fill="#000" stroke-width="1"/>
<path d="M471.3 993 A1 1.6 0 1 0 473.3 993 A1 1.6 0 1 0 471.3 993 Z" fill="none" stroke-width="1.4"/>
<path d="M477.6 979.5 A1 1.6 0 1 0 479.6 979.5 A1 1.6 0 1 0 477.6 979.5 Z" fill="none" stroke-width="1.4"/>
<path d="M510 983.8 L521.2 969.4 L527.5 969.4" fill="none" stroke-width="2.2"/>
<path d="M522.5 991.2 L531.2 975.6 L528.8 970" fill="none" stroke-width="2.2"/>
<path d="M513.8 981.2 C516.2 982.1 517.5 981.2 521.2 983.8 C525 986.2 523.8 987.1 525 988.8" fill="none" stroke-width="2.2"/>
<path d="M517.5 976.2 C520 977.1 521.2 976.7 525 978.8 C528.8 980.8 527.5 981.2 528.8 982.5" fill="none" stroke-width="2.2"/>
<path d="M520.6 972.5 C522.9 972.9 524.2 972.1 527.5 973.8 C530.8 975.4 529.6 976.2 530.6 977.5" fill="none" stroke-width="2.2"/>
<path d="M528.8 968.8 L537.5 960" fill="none" stroke-width="1.8"/>
<path d="M502.5 1005 C501.8 1002.8 500.4 1002.4 500 997.5 C499.6 992.6 499 992.5 501.2 988.8 C503.5 985 503.4 985.4 507.5 985 C511.6 984.6 511.2 984.5 515 987.5 C518.8 990.5 518.5 990.5 520 995 C521.5 999.5 521.5 996.9 520 1002.5 C518.5 1008.1 517.1 1008.5 515 1013.8 C512.9 1019 513.7 1018.1 513.1 1020" fill="none" stroke-width="2.2"/>
<path d="M513.1 1001.2 C513.8 1004.2 514.8 1004.2 515 1010 C515.2 1015.8 514.2 1015.8 513.8 1018.8" fill="none" stroke-width="3.6"/>
<path d="M506.2 1025 C509.2 1026.7 508.8 1028.8 515 1030 C521.2 1031.2 517.9 1029.6 525 1028.8 C532.1 1027.9 532.5 1027.9 536.2 1027.5" fill="none" stroke-width="2.2"/>
<path d="M513.8 1020 L520 1027.5" fill="none" stroke-width="2.2"/>
<path d="M496.2 1033.8 C499.2 1034.6 498.8 1036.2 505 1036.2 C511.2 1036.2 509.6 1035.8 515 1033.8 C520.4 1031.7 519.2 1031.2 521.2 1030" fill="none" stroke-width="2.2"/>
<path d="M500 1045 C503.3 1045.4 503.8 1046.7 510 1046.2 C516.2 1045.8 514.6 1045.8 518.8 1043.8 C522.9 1041.7 521.2 1041.2 522.5 1040" fill="none" stroke-width="2.2"/>
<path d="M502.5 1005 C503.8 1008.3 505 1008.3 506.2 1015 C507.5 1021.7 506.2 1021.7 506.2 1025" fill="none" stroke-width="2.2"/>
<path d="M571.2 960 L555 980" fill="none" stroke-width="1.8"/>
<path d="M551.2 985 L527.5 1013.8" fill="none" stroke-width="1.8"/>
<path d="M523.8 1020 L520 1025" fill="none" stroke-width="1.8"/>
<path d="M565 1017.5 C561.2 1019.8 560 1019.8 552.5 1025 C545 1030.2 547.5 1027.5 540 1035 C532.5 1042.5 534.2 1040.6 527.5 1050 C520.8 1059.4 522.8 1056.5 517.5 1066.2 C512.2 1076 513.4 1073.1 510 1082.5 C506.6 1091.9 507.8 1089.2 506.2 1097.5 C504.8 1105.8 505.4 1106.2 505 1110" fill="none" stroke-width="3"/>
<path d="M565 1021.5 C558.6 1026.3 555 1026 543.8 1037.5 C532.5 1049 535.8 1047.2 527.5 1060 C519.2 1072.8 521.5 1065 516.2 1080 C511 1095 511.9 1101 510 1110" fill="none" stroke-width="3"/>
<path d="M537.5 1027.5 C538.7 1025.2 539.3 1020.7 542.5 1017.5 C545.7 1014.3 547.8 1014 551.2 1013.8 C554.8 1013.5 554.3 1015.4 557.5 1016.2 C560.7 1017.1 560.9 1016 565 1017.5 C569.1 1019 571.5 1020.8 575 1022.5 C578.5 1024.2 578.8 1024.4 580 1025" fill="none" stroke-width="2.2"/>
<path d="M546.2 1018.8 L551.2 1015.6" fill="none" stroke-width="1.4"/>
<path d="M590 1025 L581.2 1022.5 L575 1030 L587.5 1040 L590 1038.1" fill="none" stroke-width="3"/>
<path d="M448.8 1030 C447.9 1035 448.8 1035.8 446.2 1045 C443.8 1054.2 443.3 1050.4 441.2 1057.5 C439.2 1064.6 440.4 1063.3 440 1066.2" fill="none" stroke-width="2.2"/>
<path d="M452.5 1030 C451.7 1035 452.5 1035.4 450 1045 C447.5 1054.6 447.1 1051.7 445 1058.8 C442.9 1065.8 444.2 1063.8 443.8 1066.2" fill="none" stroke-width="2.2"/>
<path d="M438.1 1068 A3.2 3 0 1 0 444.5 1068 A3.2 3 0 1 0 438.1 1068 Z" fill="none" stroke-width="2.2"/>
<path d="M455 1032.5 C454.2 1037.5 453.8 1037.5 452.5 1047.5 C451.2 1057.5 452.1 1054.2 451.2 1062.5 C450.4 1070.8 450.4 1069.2 450 1072.5" fill="none" stroke-width="2.2"/>
<path d="M458.1 1033.8 C457.3 1038.3 456.9 1035 455.6 1047.5 C454.4 1060 454.8 1063.3 454.4 1071.2" fill="none" stroke-width="2.2"/>
<path d="M447.4 1076.3 A3.2 3 0 1 0 453.8 1076.3 A3.2 3 0 1 0 447.4 1076.3 Z" fill="none" stroke-width="2.2"/>
<path d="M461.2 1035 C461.7 1040 460.4 1036.7 462.5 1050 C464.6 1063.3 464.2 1059.2 467.5 1075 C470.8 1090.8 470.8 1090 472.5 1097.5" fill="none" stroke-width="2.2"/>
<path d="M465 1033.8 C465.6 1039.2 464.8 1037.1 466.9 1050 C469 1062.9 468.1 1057.1 471.2 1072.5 C474.4 1087.9 474.6 1088.3 476.2 1096.2" fill="none" stroke-width="2.2"/>
<path d="M469.4 1036.2 C469.8 1040.8 468.8 1037.9 470.6 1050 C472.5 1062.1 472.1 1057.5 475 1072.5 C477.9 1087.5 477.9 1087.5 479.4 1095" fill="none" stroke-width="2.2"/>
<path d="M457.5 1030 C459.2 1029.2 459.2 1027.5 462.5 1027.5 C465.8 1027.5 465 1026.7 467.5 1030 C470 1033.3 469.2 1035 470 1037.5" fill="none" stroke-width="2.2"/>
<path d="M450 1027.5 C451.7 1026.7 451.7 1025 455 1025 C458.3 1025 458.3 1026.7 460 1027.5" fill="none" stroke-width="1.4"/>
<path d="M472.5 1057.5 C473.8 1056 473.3 1053.1 476.2 1053.1 C479.2 1053.1 479 1052.7 481.2 1057.5 C483.5 1062.3 482.5 1064.2 483.1 1067.5" fill="none" stroke-width="2.2"/>
<path d="M475 1067.5 C478.3 1067.9 477.5 1070.8 485 1068.8 C492.5 1066.7 487.9 1064.6 497.5 1061.2 C507.1 1057.9 508.3 1059.6 513.8 1058.8" fill="none" stroke-width="2.2"/>
<path d="M476.2 1082.5 C480 1080.4 480.4 1081.7 487.5 1076.2 C494.6 1070.8 489.2 1071.5 497.5 1066.2 C505.8 1061 507.5 1062.5 512.5 1060.6" fill="none" stroke-width="2.2"/>
<path d="M477.5 1085.6 C481.7 1083.5 481.7 1085.2 490 1079.4 C498.3 1073.5 494.2 1074 502.5 1068.1 C510.8 1062.3 510.8 1064 515 1061.9" fill="none" stroke-width="2.2"/>
<path d="M485 1030 L482.5 1047.5" fill="none" stroke-width="2.2"/>
<path d="M490 1035 L485.6 1050" fill="none" stroke-width="2.2"/>
<path d="M493.8 1045 L490 1053.8" fill="none" stroke-width="2.2"/>
<path d="M498.8 1046.2 L495 1055" fill="none" stroke-width="2.2"/>
<path d="M487.5 1050 L492.5 1060" fill="none" stroke-width="2.2"/>
<path d="M507.5 1051.2 L506.2 1056.2" fill="none" stroke-width="1.4"/>
<path d="M496.2 1077.5 L500 1092.5" fill="none" stroke-width="1.4"/>
<path d="M500 1077.5 L503.8 1090" fill="none" stroke-width="1.4"/>
<path d="M431.3 1036.3 A5 6.2 0 1 0 441.3 1036.3 A5 6.2 0 1 0 431.3 1036.3 Z" fill="none" stroke-width="2.2"/>
<path d="M440 1032.5 L445 1047.5" fill="none" stroke-width="2.2"/>
<path d="M436.5 1032.5 C436.6 1032.4 436.6 1032.4 436.9 1032.3 C437.2 1032.1 437.1 1032.2 437.4 1032.1 C437.7 1032 437.6 1032 437.9 1032 C438.2 1032 438 1032 438.3 1032 C438.7 1032.1 438.5 1032 438.8 1032.2 C439.1 1032.3 439 1032.2 439.3 1032.4 C439.6 1032.6 439.4 1032.5 439.7 1032.7 C439.9 1032.9 439.8 1032.8 440.1 1033.1 C440.3 1033.4 440.2 1033.2 440.4 1033.6 C440.6 1033.9 440.5 1033.7 440.6 1034.1 C440.8 1034.5 440.7 1034.3 440.8 1034.7 C440.9 1035.1 440.9 1034.9 441 1035.3 C441 1035.7 441 1035.5 441 1035.9 C441 1036.4 441 1036.2 441 1036.6 C440.9 1037 441 1036.8 440.9 1037.2 C440.8 1037.6 440.8 1037.4 440.7 1037.8 C440.5 1038.2 440.6 1038 440.4 1038.3 C440.2 1038.7 440.3 1038.5 440.1 1038.8 C439.9 1039.1 440 1039 439.8 1039.2 C439.5 1039.5 439.6 1039.4 439.3 1039.6 C439.1 1039.8 439.2 1039.7 438.9 1039.8 C438.6 1039.9 438.8 1039.9 438.4 1040 C438.1 1040 438.3 1040 438 1040 C437.6 1040 437.6 1040 437.5 1039.9" fill="none" stroke-width="1.4"/>
<path d="M439.3 1093.1 A7.6 7.8 0 1 0 454.5 1093.1 A7.6 7.8 0 1 0 439.3 1093.1 Z" fill="none" stroke-width="2.2"/>
<path d="M443.9 1093.1 A3 3 0 1 0 449.9 1093.1 A3 3 0 1 0 443.9 1093.1 Z" fill="none" stroke-width="1.5"/>
<path d="M449.9 1093.1 L454.5 1093.1" fill="none" stroke-width="1.3"/>
<path d="M448.4 1095.7 L450.7 1099.9" fill="none" stroke-width="1.3"/>
<path d="M445.4 1095.7 L443.1 1099.9" fill="none" stroke-width="1.3"/>
<path d="M443.9 1093.1 L439.3 1093.1" fill="none" stroke-width="1.3"/>
<path d="M445.4 1090.5 L443.1 1086.3" fill="none" stroke-width="1.3"/>
<path d="M448.4 1090.5 L450.7 1086.3" fill="none" stroke-width="1.3"/>
<path d="M456.9 1085 L460 1087.5 L465 1085" fill="none" stroke-width="1.4"/>
<path d="M460 1087.5 L462.5 1090" fill="none" stroke-width="1.4"/>
<path d="M408.8 1100 C411.4 1104.1 411.1 1105.5 417.5 1113.8 C423.9 1122 421.8 1120 430 1127.5 C438.2 1135 436 1133.7 445 1138.8 C454 1143.8 452.5 1142.3 460 1144.4 C467.5 1146.4 467 1145.2 470 1145.6" fill="none" stroke-width="3"/>
<path d="M481.2 1141.9 C484.2 1140.4 484.6 1141.5 490 1137.5 C495.4 1133.5 495 1132.5 497.5 1130" fill="none" stroke-width="2.2"/>
<path d="M400.1 1093.1 A6.2 6 0 1 0 412.4 1093.1 A6.2 6 0 1 0 400.1 1093.1 Z" fill="none" stroke-width="2.2"/>
<path d="M404.8 1087.9 L405 1098.8" fill="none" stroke-width="1.4"/>
<path d="M409 1088.4 L409.2 1098.1" fill="none" stroke-width="1.4"/>
<path d="M468.8 1139 A6.2 6 0 1 0 481.2 1139 A6.2 6 0 1 0 468.8 1139 Z" fill="none" stroke-width="2.2"/>
<path d="M473.5 1133.8 L473.8 1144.6" fill="none" stroke-width="1.4"/>
<path d="M477.8 1134.2 L478 1144" fill="none" stroke-width="1.4"/>
<path d="M491.6 1123.8 A6.2 6 0 1 0 503.9 1123.8 A6.2 6 0 1 0 491.6 1123.8 Z" fill="none" stroke-width="2.2"/>
<path d="M496.2 1118.5 L496.5 1129.4" fill="none" stroke-width="1.4"/>
<path d="M500.5 1119 L500.8 1128.8" fill="none" stroke-width="1.4"/>
<path d="M471.2 1092.5 C469.9 1092.8 468.1 1091.8 466.2 1093.8 C464.4 1095.8 463.4 1095.7 464.4 1100 C465.4 1104.3 466.5 1105.2 470 1110 C473.5 1114.8 473.8 1115.5 477.5 1118.1 C481.2 1120.8 480.6 1120.8 483.8 1120 C486.9 1119.2 487.4 1121 489.4 1115 C491.4 1109 491.4 1103.3 491.2 1097.5 C491.1 1091.7 491.4 1094.1 488.8 1093.1 C486.1 1092.1 483.2 1093.6 481.2 1093.8" fill="none" stroke-width="2.2"/>
<path d="M467.5 1100 C468.8 1102.3 469.8 1105.1 472.5 1108.8 C475.2 1112.4 474.8 1112.1 477.5 1113.8 C480.2 1115.4 480.2 1115.7 482.5 1115 C484.8 1114.3 484.9 1115.9 486.2 1111.2 C487.6 1106.6 488.2 1101.7 487.5 1097.5 C486.8 1093.3 484.8 1096.1 483.8 1095.6" fill="none" stroke-width="2.2"/>
<path d="M472.5 1105 C474.2 1102.5 475 1102.5 477.5 1103.8 C480 1105 480.4 1105.4 480 1108.8 C479.6 1112.1 478.8 1112.9 476.2 1113.8 C473.8 1114.6 473.8 1114.2 472.5 1111.2 C471.2 1108.3 470.8 1107.5 472.5 1105Z" fill="none" stroke-width="2.2"/>
<path d="M498.8 1102.5 C499.2 1099.6 500 1098.8 501.2 1100 C502.5 1101.2 502.9 1103.3 502.5 1106.2 C502.1 1109.2 501.2 1110 500 1108.8 C498.8 1107.5 498.3 1105.4 498.8 1102.5Z" fill="none" stroke-width="3"/>
<path d="M497.5 1111.2 C498.8 1110.8 499.6 1108.8 501.2 1110 C502.9 1111.2 502.1 1113.3 502.5 1115" fill="none" stroke-width="2.2"/>
<path d="M505 1110 C505.4 1112.5 505 1113.3 506.2 1117.5 C507.5 1121.7 507.9 1120.8 508.8 1122.5" fill="none" stroke-width="3"/>
<path d="M510 1110 C509.7 1112.5 509.2 1113.5 509 1117.5 C508.8 1121.5 509.2 1120.4 509.4 1121.9" fill="none" stroke-width="3"/>
<path d="M500 1081.2 C500.6 1084.6 500.8 1085 501.9 1091.2 C502.9 1097.5 502.7 1097.1 503.1 1100" fill="none" stroke-width="1.4"/>
<path d="M508.8 1122.5 L590 1168.8" fill="none" stroke-width="3"/>
<path d="M517.5 1130 L528.8 1136.2 L535 1137.5 L533.8 1142.5 L528.8 1143.8 L518.8 1137.5 L516.9 1132.5Z" fill="none" stroke-width="2.2"/>
<path d="M528.8 1136.2 L528.1 1143.1" fill="none" stroke-width="1.4"/>
<path d="M600 1039.2 L673.3 1086.7" fill="none" stroke-width="3"/>
<path d="M673.3 1086.7 C675 1088.9 675.8 1086.7 678.3 1093.3 C680.8 1100 680.6 1097.2 680.8 1106.7 C681.1 1116.1 681.1 1111.1 679.2 1121.7 C677.2 1132.2 676.9 1131.7 675 1138.3 C673.1 1145 673.9 1140.6 673.3 1141.7" fill="none" stroke-width="3"/>
<path d="M660 1165 C656.7 1169.4 657.2 1171.4 650 1178.3 C642.8 1185.3 645.6 1182.5 638.3 1185.8 C631.1 1189.2 633.3 1188.1 628.3 1188.3 C623.3 1188.6 625 1187.2 623.3 1186.7" fill="none" stroke-width="3"/>
<path d="M540 1142.5 L623.3 1186.7" fill="none" stroke-width="3"/>
<path d="M540 1023.3 C540.7 1022 541 1018.5 543.3 1016.7 C545.7 1014.8 549.3 1014.2 551.7 1014.2 C554 1014.2 552 1016 555 1016.7 C558 1017.3 562.7 1015.8 566.7 1017.5 C570.7 1019.2 573.3 1023.5 575 1025" fill="none" stroke-width="2.2"/>
<path d="M575 1029.2 L585 1021.7 L600 1030 L600 1035.8 L590 1040.8 L575 1033.3Z" fill="none" stroke-width="2.2"/>
<path d="M575.8 1030 L590 1034.2 L600 1030.3" fill="none" stroke-width="1.4"/>
<path d="M590 1034.2 L590 1040.8" fill="none" stroke-width="1.4"/>
<path d="M665 1090.8 C660.5 1093.1 658.5 1091.6 650 1098.3 C641.5 1105.1 643.7 1103.3 636.7 1113.3 C629.7 1123.3 631.7 1120.7 626.7 1131.7 C621.7 1142.7 622.8 1138.5 620 1150 C617.2 1161.5 618.2 1164 617.5 1170" fill="none" stroke-width="1.4"/>
<path d="M668.3 1113.3 C664.8 1114.8 663.2 1112.8 656.7 1118.3 C650.2 1123.8 651.4 1124.2 646.7 1131.7 C641.9 1139.2 643.1 1137.1 640.8 1143.3 C638.6 1149.6 639.7 1149.8 639.2 1152.5" fill="none" stroke-width="1.4"/>
<path d="M637.5 1165 L639.2 1173.3" fill="none" stroke-width="1.4"/>
<path d="M650 1160 C647.8 1157.1 647.4 1155.8 648.3 1150 C649.2 1144.2 650.2 1143.2 653.3 1138.3 C656.4 1133.4 656.4 1133.4 660 1131.7 C663.6 1129.9 663.1 1129.9 666.7 1131.7 C670.2 1133.4 670.9 1134.3 673.3 1138.3 C675.8 1142.3 675.8 1141.8 675.8 1146.7 C675.8 1151.6 675.8 1152.7 673.3 1156.7 C670.9 1160.7 671.1 1160.6 666.7 1161.7 C662.2 1162.8 661.1 1161.3 656.7 1160.8 C652.2 1160.4 652.2 1162.9 650 1160Z" fill="none" stroke-width="3"/>
<path d="M666.7 1145 L664.2 1156.7" fill="none" stroke-width="1.4"/>
<path d="M618.6 1079.9 C618.4 1080.1 618.4 1080.2 618 1080.5 C617.7 1080.8 617.8 1080.7 617.4 1080.9 C617 1081.1 617.2 1081 616.7 1081.2 C616.3 1081.3 616.5 1081.3 616 1081.3 C615.5 1081.3 615.8 1081.3 615.3 1081.3 C614.8 1081.2 615 1081.2 614.6 1081.1 C614.1 1080.9 614.3 1081 613.9 1080.7 C613.5 1080.5 613.7 1080.6 613.3 1080.3 C613 1079.9 613.1 1080.1 612.9 1079.7 C612.6 1079.3 612.7 1079.5 612.5 1079 C612.3 1078.5 612.4 1078.8 612.3 1078.3 C612.2 1077.8 612.2 1078 612.2 1077.5 C612.2 1077 612.2 1077.2 612.3 1076.7 C612.4 1076.2 612.3 1076.5 612.5 1076 C612.7 1075.5 612.6 1075.7 612.9 1075.3 C613.1 1074.9 613 1075.1 613.3 1074.7 C613.7 1074.4 613.5 1074.5 613.9 1074.3 C614.3 1074 614.1 1074.1 614.6 1073.9 C615 1073.8 614.8 1073.8 615.3 1073.7 C615.8 1073.7 615.5 1073.7 616 1073.7 C616.5 1073.7 616.3 1073.7 616.7 1073.8 C617.2 1074 617 1073.9 617.4 1074.1 C617.8 1074.3 617.7 1074.2 618 1074.5 C618.4 1074.8 618.4 1074.9 618.6 1075.1" fill="none" stroke-width="2.2"/>
<path d="M552.5 940 L537.5 960" fill="none" stroke-width="1.8"/>
<path d="M585 940 L575 954" fill="none" stroke-width="1.8"/>
</g>
<g stroke="#000" stroke-width="0.45" stroke-linejoin="round" filter="url(#noop)">
<path d="M337.9 262.8 H340.8 V282 H337.9 Z M338.1 262.8 L332.7 267.2 L333.7 269.2 L338.1 265.8 Z M394.2 295.2 H397.1 V314.4 H394.2 Z M394.4 295.2 L389 299.6 L390 301.6 L394.4 298.2 Z M293.6 355.8 H296.4 V375 H293.6 Z M293.7 355.8 L288.3 360.2 L289.3 362.2 L293.7 358.8 Z M335.2 375.8 H338.1 V395 H335.2 Z M335.4 375.8 L330 380.2 L331 382.2 L335.4 378.8 Z M345.9 524.8 H348.8 V544 H345.9 Z M346.1 524.8 L340.7 529.2 L341.7 531.2 L346.1 527.8 Z M575.2 533.5 H578.1 V552.7 H575.2 Z M575.4 533.5 L570 537.9 L571 539.9 L575.4 536.5 Z M1236.2 395.8 H1239 V415 H1236.2 Z M1236.3 395.8 L1230.9 400.2 L1231.9 402.2 L1236.3 398.8 Z M1138.9 572.8 H1141.7 V592 H1138.9 Z M1139 572.8 L1133.6 577.2 L1134.6 579.2 L1139 575.8 Z M1149.8 572.8 H1152.6 V592 H1149.8 Z M1149.9 572.8 L1144.5 577.2 L1145.5 579.2 L1149.9 575.8 Z M1100.2 586.1 H1103 V605.3 H1100.2 Z M1100.3 586.1 L1094.9 590.5 L1095.9 592.5 L1100.3 589.1 Z M811 616.4 H813.9 V635.6 H811 Z M811.1 616.4 L805.8 620.8 L806.8 622.8 L811.1 619.4 Z M858.9 713.3 H861.7 V732.5 H858.9 Z M859 713.3 L853.6 717.7 L854.6 719.7 L859 716.3 Z M638.9 992.1 H641.7 V1011.3 H638.9 Z M639 992.1 L633.6 996.5 L634.6 998.5 L639 995.1 Z" fill="#000"/>
<text x="1183.2" y="200.6" font-size="27.5" text-anchor="start">2</text>
<text x="1198.5" y="200.6" font-size="27.5" text-anchor="start">7</text>
<text x="586.1" y="279.6" font-size="27.5" text-anchor="start">2</text>
<text x="601.4" y="279.6" font-size="27.5" text-anchor="start">6</text>
<text x="583.7" y="318.8" font-size="27.5" text-anchor="start">2</text>
<text x="599" y="318.8" font-size="27.5" text-anchor="start">5</text>
<text x="429.5" y="326.3" font-size="27.5" text-anchor="start">2</text>
<text x="444.8" y="326.3" font-size="27.5" text-anchor="start">4</text>
<text x="570.7" y="367" font-size="27.5" text-anchor="start">2</text>
<text x="586" y="367" font-size="27.5" text-anchor="start">3</text>
<text x="316.8" y="282" font-size="27.5" text-anchor="start">2</text>
<text x="357.2" y="290" font-size="27.5" text-anchor="start">2</text>
<text x="372.5" y="290" font-size="27.5" text-anchor="start">0</text>
<text x="399.2" y="314.4" font-size="27.5" text-anchor="start">7</text>
<text x="298.6" y="375" font-size="27.5" text-anchor="start">9</text>
<text x="340.2" y="395" font-size="27.5" text-anchor="start">8</text>
<text x="350.9" y="544" font-size="27.5" text-anchor="start">6</text>
<text x="580.2" y="552.7" font-size="27.5" text-anchor="start">5</text>
<text x="652.7" y="509.3" font-size="27.5" text-anchor="start">2</text>
<text x="668" y="509.3" font-size="27.5" text-anchor="start">2</text>
<text x="827.1" y="416" font-size="27.5" text-anchor="start">4</text>
<text x="1241.2" y="415" font-size="27.5" text-anchor="start">2</text>
<text x="1271.8" y="403.8" font-size="27.5" text-anchor="start">9</text>
<text x="1198.5" y="579.6" font-size="27.5" text-anchor="start">3</text>
<text x="1105.2" y="605.3" font-size="27.5" text-anchor="start">0</text>
<text x="1059.9" y="618.4" font-size="27.5" text-anchor="start">6</text>
<text x="1020.9" y="632.4" font-size="27.5" text-anchor="start">8</text>
<text x="981.1" y="652.5" font-size="27.5" text-anchor="start">7</text>
<text x="934.8" y="667.4" font-size="27.5" text-anchor="start">6</text>
<text x="816" y="635.6" font-size="27.5" text-anchor="start">3</text>
<text x="863.9" y="732.5" font-size="27.5" text-anchor="start">4</text>
<text x="716.1" y="833.8" font-size="27.5" text-anchor="start">5</text>
<text x="890.2" y="944.3" font-size="27.5" text-anchor="start">2</text>
</g>
</svg></body></html>
